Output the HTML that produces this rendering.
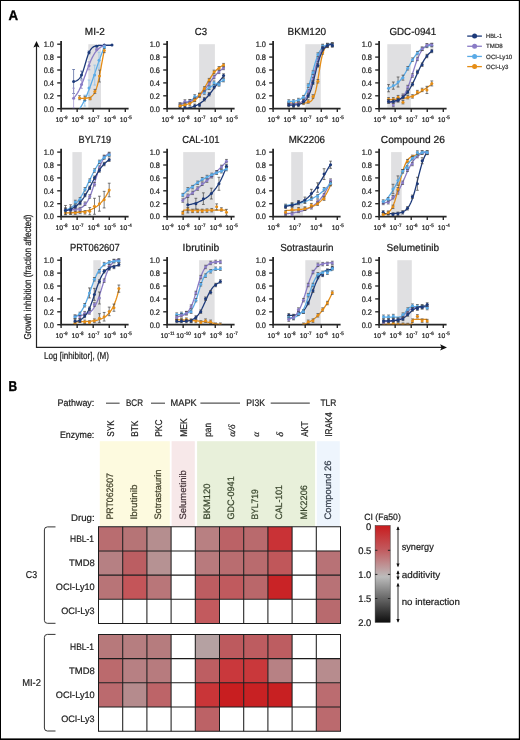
<!DOCTYPE html>
<html><head><meta charset="utf-8"><style>
html,body{margin:0;padding:0;background:#fff;}
body{width:520px;height:740px;overflow:hidden;}
svg{display:block;font-family:"Liberation Sans",sans-serif;will-change:transform;text-rendering:geometricPrecision;}
</style></head><body>
<svg width="520" height="740" viewBox="0 0 520 740">
<rect x="0" y="0" width="520" height="740" fill="#fff"/>
<text x="8.45" y="19.95" font-size="14" font-weight="bold" textLength="9.6" lengthAdjust="spacingAndGlyphs" fill="#000" stroke="#000" stroke-width="0.35">A</text>
<text x="8.6" y="390.9" font-size="14.2" font-weight="bold" textLength="8.6" lengthAdjust="spacingAndGlyphs" fill="#000" stroke="#000" stroke-width="0.4">B</text>
<rect x="88.3" y="44.2" width="12.7" height="64.5" fill="#e0e0e2"/>
<text x="84.85" y="34.85" font-size="10.2" textLength="20" lengthAdjust="spacingAndGlyphs" fill="#1a1a1a" stroke="#1a1a1a" stroke-width="0.22">MI-2</text>
<path d="M57.2,108.7H61.1" stroke="#262626" stroke-width="1.35"/>
<text x="43.7" y="111.55" font-size="8" textLength="10.3" lengthAdjust="spacingAndGlyphs" fill="#222" stroke="#222" stroke-width="0.22">0.0</text>
<path d="M57.2,95.8H61.1" stroke="#262626" stroke-width="1.35"/>
<text x="43.7" y="98.65" font-size="8" textLength="10.3" lengthAdjust="spacingAndGlyphs" fill="#222" stroke="#222" stroke-width="0.22">0.2</text>
<path d="M57.2,82.9H61.1" stroke="#262626" stroke-width="1.35"/>
<text x="43.7" y="85.75" font-size="8" textLength="10.3" lengthAdjust="spacingAndGlyphs" fill="#222" stroke="#222" stroke-width="0.22">0.4</text>
<path d="M57.2,70H61.1" stroke="#262626" stroke-width="1.35"/>
<text x="43.7" y="72.85" font-size="8" textLength="10.3" lengthAdjust="spacingAndGlyphs" fill="#222" stroke="#222" stroke-width="0.22">0.6</text>
<path d="M57.2,57.1H61.1" stroke="#262626" stroke-width="1.35"/>
<text x="43.7" y="59.95" font-size="8" textLength="10.3" lengthAdjust="spacingAndGlyphs" fill="#222" stroke="#222" stroke-width="0.22">0.8</text>
<path d="M57.2,44.2H61.1" stroke="#262626" stroke-width="1.35"/>
<text x="43.7" y="47.05" font-size="8" textLength="10.3" lengthAdjust="spacingAndGlyphs" fill="#222" stroke="#222" stroke-width="0.22">1.0</text>
<path d="M61.1,108.7V112" stroke="#262626" stroke-width="1.35"/>
<text x="55.57" y="121.9" font-size="6.8" textLength="7.5" lengthAdjust="spacingAndGlyphs" fill="#222" stroke="#222" stroke-width="0.22">10</text>
<text x="63.47" y="118.8" font-size="4.8" textLength="4.05" lengthAdjust="spacingAndGlyphs" fill="#222" stroke="#222" stroke-width="0.22">-9</text>
<path d="M77.15,108.7V112" stroke="#262626" stroke-width="1.35"/>
<text x="71.62" y="121.9" font-size="6.8" textLength="7.5" lengthAdjust="spacingAndGlyphs" fill="#222" stroke="#222" stroke-width="0.22">10</text>
<text x="79.52" y="118.8" font-size="4.8" textLength="4.05" lengthAdjust="spacingAndGlyphs" fill="#222" stroke="#222" stroke-width="0.22">-8</text>
<path d="M93.2,108.7V112" stroke="#262626" stroke-width="1.35"/>
<text x="87.67" y="121.9" font-size="6.8" textLength="7.5" lengthAdjust="spacingAndGlyphs" fill="#222" stroke="#222" stroke-width="0.22">10</text>
<text x="95.57" y="118.8" font-size="4.8" textLength="4.05" lengthAdjust="spacingAndGlyphs" fill="#222" stroke="#222" stroke-width="0.22">-7</text>
<path d="M109.25,108.7V112" stroke="#262626" stroke-width="1.35"/>
<text x="103.72" y="121.9" font-size="6.8" textLength="7.5" lengthAdjust="spacingAndGlyphs" fill="#222" stroke="#222" stroke-width="0.22">10</text>
<text x="111.62" y="118.8" font-size="4.8" textLength="4.05" lengthAdjust="spacingAndGlyphs" fill="#222" stroke="#222" stroke-width="0.22">-6</text>
<path d="M125.3,108.7V112" stroke="#262626" stroke-width="1.35"/>
<text x="119.77" y="121.9" font-size="6.8" textLength="7.5" lengthAdjust="spacingAndGlyphs" fill="#222" stroke="#222" stroke-width="0.22">10</text>
<text x="127.67" y="118.8" font-size="4.8" textLength="4.05" lengthAdjust="spacingAndGlyphs" fill="#222" stroke="#222" stroke-width="0.22">-5</text>
<path d="M61.1,40.9V108.7H128.6" fill="none" stroke="#262626" stroke-width="1.8"/>
<clipPath id="cp1"><rect x="61.8" y="38.2" width="71.5" height="70.1"/></clipPath>
<g clip-path="url(#cp1)">
<path d="M73.6,81.53 L74.25,81.41 L74.9,81.27 L75.55,81.08 L76.2,80.85 L76.85,80.55 L77.51,80.18 L78.16,79.71 L78.81,79.13 L79.46,78.42 L80.11,77.55 L80.76,76.49 L81.41,75.24 L82.06,73.78 L82.71,72.1 L83.36,70.22 L84.01,68.16 L84.66,65.98 L85.32,63.72 L85.97,61.46 L86.62,59.26 L87.27,57.19 L87.92,55.29 L88.57,53.59 L89.22,52.1 L89.87,50.83 L90.52,49.76 L91.17,48.87 L91.82,48.14 L92.47,47.55 L93.13,47.07 L93.78,46.69 L94.43,46.38 L95.08,46.14 L95.73,45.95 L96.38,45.8 L97.03,45.68 L97.68,45.59 L98.33,45.52 L98.98,45.46 L99.63,45.42 L100.28,45.38 L100.94,45.36 L101.59,45.33 L102.24,45.32 L102.89,45.3 L103.54,45.29 L104.19,45.29 L104.84,45.28 L105.49,45.28 L106.14,45.27 L106.79,45.27 L107.44,45.27 L108.09,45.26 L108.75,45.26 L109.4,45.26 L110.05,45.26 L110.7,45.26 L111.35,45.26 L112,45.26" fill="none" stroke="#1d3a7a" stroke-width="1.3"/>
<path d="M73.6,69.5V93.5M72.2,69.5H75M72.2,93.5H75" stroke="#4a5f98" stroke-width="0.7"/>
<circle cx="73.6" cy="81.5" r="1.5" fill="#1d3a7a"/>
<path d="M81.5,71.1V79.1M80.1,71.1H82.9M80.1,79.1H82.9" stroke="#4a5f98" stroke-width="0.7"/>
<circle cx="81.5" cy="75.1" r="1.5" fill="#1d3a7a"/>
<path d="M89,51V54M87.6,51H90.4M87.6,54H90.4" stroke="#4a5f98" stroke-width="0.7"/>
<circle cx="89" cy="52.5" r="1.5" fill="#1d3a7a"/>
<circle cx="96.7" cy="46.25" r="1.5" fill="#1d3a7a"/>
<circle cx="104.3" cy="45" r="1.5" fill="#1d3a7a"/>
<circle cx="112" cy="45.1" r="1.5" fill="#1d3a7a"/>
<path d="M73.6,98.01 L74.12,97.49 L74.64,96.92 L75.16,96.31 L75.68,95.66 L76.2,94.96 L76.72,94.21 L77.24,93.41 L77.76,92.56 L78.28,91.65 L78.8,90.7 L79.32,89.69 L79.84,88.63 L80.36,87.51 L80.88,86.35 L81.41,85.14 L81.93,83.89 L82.45,82.59 L82.97,81.26 L83.49,79.9 L84.01,78.5 L84.53,77.09 L85.05,75.66 L85.57,74.23 L86.09,72.79 L86.61,71.35 L87.13,69.93 L87.65,68.52 L88.17,67.13 L88.69,65.78 L89.21,64.45 L89.73,63.17 L90.25,61.92 L90.77,60.72 L91.29,59.57 L91.81,58.47 L92.33,57.42 L92.85,56.43 L93.37,55.48 L93.89,54.59 L94.41,53.75 L94.93,52.97 L95.45,52.23 L95.97,51.54 L96.49,50.9 L97.02,50.3 L97.54,49.74 L98.06,49.23 L98.58,48.75 L99.1,48.31 L99.62,47.9 L100.14,47.53 L100.66,47.18 L101.18,46.86 L101.7,46.57 L102.22,46.3 L102.74,46.06 L103.26,45.83 L103.78,45.62 L104.3,45.43" fill="none" stroke="#8a7cc6" stroke-width="1.3"/>
<path d="M73.6,88.2V108.2M72.2,88.2H75M72.2,108.2H75" stroke="#9d92cf" stroke-width="0.7"/>
<circle cx="73.6" cy="98.2" r="1.5" fill="#8a7cc6"/>
<path d="M81.5,80.4V88.4M80.1,80.4H82.9M80.1,88.4H82.9" stroke="#9d92cf" stroke-width="0.7"/>
<circle cx="81.5" cy="84.4" r="1.5" fill="#8a7cc6"/>
<path d="M89,61.8V69.8M87.6,61.8H90.4M87.6,69.8H90.4" stroke="#9d92cf" stroke-width="0.7"/>
<circle cx="89" cy="65.8" r="1.5" fill="#8a7cc6"/>
<path d="M96.7,48.6V50.6M95.3,48.6H98.1M95.3,50.6H98.1" stroke="#9d92cf" stroke-width="0.7"/>
<circle cx="96.7" cy="49.6" r="1.5" fill="#8a7cc6"/>
<circle cx="104.3" cy="46" r="1.5" fill="#8a7cc6"/>
<path d="M79.5,109.12 L79.92,108.48 L80.34,107.83 L80.76,107.15 L81.18,106.45 L81.6,105.73 L82.02,104.99 L82.44,104.23 L82.86,103.44 L83.28,102.64 L83.7,101.81 L84.12,100.96 L84.54,100.09 L84.96,99.2 L85.38,98.29 L85.81,97.36 L86.23,96.4 L86.65,95.43 L87.07,94.43 L87.49,93.42 L87.91,92.38 L88.33,91.33 L88.75,90.26 L89.17,89.17 L89.59,88.06 L90.01,86.94 L90.43,85.81 L90.85,84.66 L91.27,83.49 L91.69,82.32 L92.11,81.13 L92.53,79.93 L92.95,78.72 L93.37,77.51 L93.79,76.28 L94.21,75.06 L94.63,73.82 L95.05,72.59 L95.47,71.35 L95.89,70.11 L96.31,68.88 L96.73,67.64 L97.15,66.41 L97.57,65.18 L97.99,63.96 L98.42,62.74 L98.84,61.54 L99.26,60.34 L99.68,59.15 L100.1,57.97 L100.52,56.81 L100.94,55.66 L101.36,54.52 L101.78,53.4 L102.2,52.29 L102.62,51.2 L103.04,50.13 L103.46,49.08 L103.88,48.05 L104.3,47.03" fill="none" stroke="#5aaae6" stroke-width="1.3"/>
<path d="M84.8,95.1V106.1M83.4,95.1H86.2M83.4,106.1H86.2" stroke="#86c0ea" stroke-width="0.7"/>
<circle cx="84.8" cy="100.6" r="1.5" fill="#5aaae6"/>
<path d="M89,80V96M87.6,80H90.4M87.6,96H90.4" stroke="#86c0ea" stroke-width="0.7"/>
<circle cx="89" cy="88" r="1.5" fill="#5aaae6"/>
<path d="M94.7,65.1V85.1M93.3,65.1H96.1M93.3,85.1H96.1" stroke="#86c0ea" stroke-width="0.7"/>
<circle cx="94.7" cy="75.1" r="1.5" fill="#5aaae6"/>
<path d="M99,52.2V68.2M97.6,52.2H100.4M97.6,68.2H100.4" stroke="#86c0ea" stroke-width="0.7"/>
<circle cx="99" cy="60.2" r="1.5" fill="#5aaae6"/>
<path d="M104.3,45.7V48.7M102.9,45.7H105.7M102.9,48.7H105.7" stroke="#86c0ea" stroke-width="0.7"/>
<circle cx="104.3" cy="47.2" r="1.5" fill="#5aaae6"/>
<path d="M79.5,98.5 L79.92,98.5 L80.34,98.49 L80.76,98.49 L81.18,98.48 L81.6,98.47 L82.02,98.46 L82.44,98.44 L82.86,98.43 L83.28,98.41 L83.7,98.39 L84.12,98.37 L84.54,98.34 L84.96,98.31 L85.38,98.27 L85.81,98.23 L86.23,98.18 L86.65,98.13 L87.07,98.07 L87.49,97.99 L87.91,97.91 L88.33,97.81 L88.75,97.7 L89.17,97.57 L89.59,97.42 L90.01,97.25 L90.43,97.05 L90.85,96.83 L91.27,96.57 L91.69,96.27 L92.11,95.93 L92.53,95.54 L92.95,95.09 L93.37,94.59 L93.79,94.01 L94.21,93.36 L94.63,92.63 L95.05,91.8 L95.47,90.87 L95.89,89.83 L96.31,88.68 L96.73,87.4 L97.15,86 L97.57,84.47 L97.99,82.8 L98.42,81 L98.84,79.09 L99.26,77.05 L99.68,74.92 L100.1,72.7 L100.52,70.41 L100.94,68.08 L101.36,65.73 L101.78,63.38 L102.2,61.06 L102.62,58.8 L103.04,56.6 L103.46,54.5 L103.88,52.51 L104.3,50.63" fill="none" stroke="#e58d16" stroke-width="1.3"/>
<path d="M79.5,95.7V99.7M78.1,95.7H80.9M78.1,99.7H80.9" stroke="#555555" stroke-width="0.7"/>
<circle cx="79.5" cy="97.7" r="1.5" fill="#e58d16"/>
<path d="M84.8,96.2V100.2M83.4,96.2H86.2M83.4,100.2H86.2" stroke="#555555" stroke-width="0.7"/>
<circle cx="84.8" cy="98.2" r="1.5" fill="#e58d16"/>
<path d="M90.1,97.7V99.7M88.7,97.7H91.5M88.7,99.7H91.5" stroke="#555555" stroke-width="0.7"/>
<circle cx="90.1" cy="98.7" r="1.5" fill="#e58d16"/>
<path d="M94.9,89.4V93.4M93.5,89.4H96.3M93.5,93.4H96.3" stroke="#555555" stroke-width="0.7"/>
<circle cx="94.9" cy="91.4" r="1.5" fill="#e58d16"/>
<path d="M99.5,70V82M98.1,70H100.9M98.1,82H100.9" stroke="#555555" stroke-width="0.7"/>
<circle cx="99.5" cy="76" r="1.5" fill="#e58d16"/>
<path d="M104.3,48.6V52.6M102.9,48.6H105.7M102.9,52.6H105.7" stroke="#555555" stroke-width="0.7"/>
<circle cx="104.3" cy="50.6" r="1.5" fill="#e58d16"/>
</g>
<rect x="199.1" y="44.2" width="15.8" height="64.5" fill="#e0e0e2"/>
<text x="194.7" y="34.85" font-size="10.2" textLength="12.3" lengthAdjust="spacingAndGlyphs" fill="#1a1a1a" stroke="#1a1a1a" stroke-width="0.22">C3</text>
<path d="M163.2,108.7H167.1" stroke="#262626" stroke-width="1.35"/>
<text x="149.7" y="111.55" font-size="8" textLength="10.3" lengthAdjust="spacingAndGlyphs" fill="#222" stroke="#222" stroke-width="0.22">0.0</text>
<path d="M163.2,95.8H167.1" stroke="#262626" stroke-width="1.35"/>
<text x="149.7" y="98.65" font-size="8" textLength="10.3" lengthAdjust="spacingAndGlyphs" fill="#222" stroke="#222" stroke-width="0.22">0.2</text>
<path d="M163.2,82.9H167.1" stroke="#262626" stroke-width="1.35"/>
<text x="149.7" y="85.75" font-size="8" textLength="10.3" lengthAdjust="spacingAndGlyphs" fill="#222" stroke="#222" stroke-width="0.22">0.4</text>
<path d="M163.2,70H167.1" stroke="#262626" stroke-width="1.35"/>
<text x="149.7" y="72.85" font-size="8" textLength="10.3" lengthAdjust="spacingAndGlyphs" fill="#222" stroke="#222" stroke-width="0.22">0.6</text>
<path d="M163.2,57.1H167.1" stroke="#262626" stroke-width="1.35"/>
<text x="149.7" y="59.95" font-size="8" textLength="10.3" lengthAdjust="spacingAndGlyphs" fill="#222" stroke="#222" stroke-width="0.22">0.8</text>
<path d="M163.2,44.2H167.1" stroke="#262626" stroke-width="1.35"/>
<text x="149.7" y="47.05" font-size="8" textLength="10.3" lengthAdjust="spacingAndGlyphs" fill="#222" stroke="#222" stroke-width="0.22">1.0</text>
<path d="M167.1,108.7V112" stroke="#262626" stroke-width="1.35"/>
<text x="161.57" y="121.9" font-size="6.8" textLength="7.5" lengthAdjust="spacingAndGlyphs" fill="#222" stroke="#222" stroke-width="0.22">10</text>
<text x="169.47" y="118.8" font-size="4.8" textLength="4.05" lengthAdjust="spacingAndGlyphs" fill="#222" stroke="#222" stroke-width="0.22">-9</text>
<path d="M183.15,108.7V112" stroke="#262626" stroke-width="1.35"/>
<text x="177.62" y="121.9" font-size="6.8" textLength="7.5" lengthAdjust="spacingAndGlyphs" fill="#222" stroke="#222" stroke-width="0.22">10</text>
<text x="185.52" y="118.8" font-size="4.8" textLength="4.05" lengthAdjust="spacingAndGlyphs" fill="#222" stroke="#222" stroke-width="0.22">-8</text>
<path d="M199.2,108.7V112" stroke="#262626" stroke-width="1.35"/>
<text x="193.67" y="121.9" font-size="6.8" textLength="7.5" lengthAdjust="spacingAndGlyphs" fill="#222" stroke="#222" stroke-width="0.22">10</text>
<text x="201.57" y="118.8" font-size="4.8" textLength="4.05" lengthAdjust="spacingAndGlyphs" fill="#222" stroke="#222" stroke-width="0.22">-7</text>
<path d="M215.25,108.7V112" stroke="#262626" stroke-width="1.35"/>
<text x="209.72" y="121.9" font-size="6.8" textLength="7.5" lengthAdjust="spacingAndGlyphs" fill="#222" stroke="#222" stroke-width="0.22">10</text>
<text x="217.62" y="118.8" font-size="4.8" textLength="4.05" lengthAdjust="spacingAndGlyphs" fill="#222" stroke="#222" stroke-width="0.22">-6</text>
<path d="M231.3,108.7V112" stroke="#262626" stroke-width="1.35"/>
<text x="225.77" y="121.9" font-size="6.8" textLength="7.5" lengthAdjust="spacingAndGlyphs" fill="#222" stroke="#222" stroke-width="0.22">10</text>
<text x="233.67" y="118.8" font-size="4.8" textLength="4.05" lengthAdjust="spacingAndGlyphs" fill="#222" stroke="#222" stroke-width="0.22">-5</text>
<path d="M167.1,40.9V108.7H234.6" fill="none" stroke="#262626" stroke-width="1.8"/>
<clipPath id="cp2"><rect x="167.8" y="38.2" width="71.5" height="70.1"/></clipPath>
<g clip-path="url(#cp2)">
<path d="M180.02,108.92 L180.76,108.86 L181.5,108.81 L182.23,108.74 L182.97,108.67 L183.71,108.59 L184.45,108.51 L185.19,108.42 L185.93,108.31 L186.66,108.2 L187.4,108.08 L188.14,107.95 L188.88,107.81 L189.62,107.65 L190.35,107.48 L191.09,107.29 L191.83,107.09 L192.57,106.87 L193.31,106.64 L194.05,106.38 L194.78,106.1 L195.52,105.79 L196.26,105.47 L197,105.11 L197.74,104.73 L198.48,104.33 L199.21,103.89 L199.95,103.42 L200.69,102.91 L201.43,102.38 L202.17,101.8 L202.91,101.2 L203.64,100.55 L204.38,99.88 L205.12,99.16 L205.86,98.41 L206.6,97.62 L207.34,96.8 L208.07,95.95 L208.81,95.07 L209.55,94.16 L210.29,93.23 L211.03,92.27 L211.76,91.29 L212.5,90.3 L213.24,89.3 L213.98,88.3 L214.72,87.29 L215.46,86.29 L216.19,85.29 L216.93,84.3 L217.67,83.33 L218.41,82.38 L219.15,81.45 L219.89,80.54 L220.62,79.67 L221.36,78.82 L222.1,78.01 L222.84,77.23 L223.58,76.48" fill="none" stroke="#1d3a7a" stroke-width="1.3"/>
<path d="M180.02,106.97V110.37M178.62,106.97H181.42M178.62,110.37H181.42" stroke="#444" stroke-width="0.7"/>
<circle cx="180.02" cy="108.67" r="1.5" fill="#1d3a7a"/>
<path d="M184.92,105.82V109.22M183.52,105.82H186.32M183.52,109.22H186.32" stroke="#444" stroke-width="0.7"/>
<circle cx="184.92" cy="107.52" r="1.5" fill="#1d3a7a"/>
<path d="M189.83,106.97V110.37M188.43,106.97H191.23M188.43,110.37H191.23" stroke="#444" stroke-width="0.7"/>
<circle cx="189.83" cy="108.67" r="1.5" fill="#1d3a7a"/>
<path d="M194.73,104.09V107.49M193.33,104.09H196.13M193.33,107.49H196.13" stroke="#444" stroke-width="0.7"/>
<circle cx="194.73" cy="105.79" r="1.5" fill="#1d3a7a"/>
<path d="M199.49,103.37V106.77M198.09,103.37H200.89M198.09,106.77H200.89" stroke="#444" stroke-width="0.7"/>
<circle cx="199.49" cy="105.07" r="1.5" fill="#1d3a7a"/>
<path d="M204.39,97.6V101M202.99,97.6H205.79M202.99,101H205.79" stroke="#444" stroke-width="0.7"/>
<circle cx="204.39" cy="99.3" r="1.5" fill="#1d3a7a"/>
<path d="M209.15,92.55V95.95M207.75,92.55H210.55M207.75,95.95H210.55" stroke="#444" stroke-width="0.7"/>
<circle cx="209.15" cy="94.25" r="1.5" fill="#1d3a7a"/>
<path d="M214.06,85.34V88.74M212.66,85.34H215.46M212.66,88.74H215.46" stroke="#444" stroke-width="0.7"/>
<circle cx="214.06" cy="87.04" r="1.5" fill="#1d3a7a"/>
<path d="M218.96,82.17V85.57M217.56,82.17H220.36M217.56,85.57H220.36" stroke="#444" stroke-width="0.7"/>
<circle cx="218.96" cy="83.87" r="1.5" fill="#1d3a7a"/>
<path d="M223.58,73.8V77.2M222.18,73.8H224.98M222.18,77.2H224.98" stroke="#444" stroke-width="0.7"/>
<circle cx="223.58" cy="75.5" r="1.5" fill="#1d3a7a"/>
<path d="M180.02,104.9 L180.76,104.68 L181.5,104.44 L182.23,104.19 L182.97,103.93 L183.71,103.66 L184.45,103.38 L185.19,103.08 L185.93,102.76 L186.66,102.44 L187.4,102.1 L188.14,101.74 L188.88,101.38 L189.62,100.99 L190.35,100.6 L191.09,100.19 L191.83,99.76 L192.57,99.33 L193.31,98.88 L194.05,98.42 L194.78,97.95 L195.52,97.46 L196.26,96.97 L197,96.47 L197.74,95.96 L198.48,95.44 L199.21,94.91 L199.95,94.38 L200.69,93.85 L201.43,93.31 L202.17,92.78 L202.91,92.24 L203.64,91.7 L204.38,91.17 L205.12,90.63 L205.86,90.11 L206.6,89.59 L207.34,89.07 L208.07,88.56 L208.81,88.07 L209.55,87.58 L210.29,87.1 L211.03,86.63 L211.76,86.18 L212.5,85.73 L213.24,85.3 L213.98,84.89 L214.72,84.48 L215.46,84.09 L216.19,83.72 L216.93,83.36 L217.67,83.01 L218.41,82.68 L219.15,82.36 L219.89,82.05 L220.62,81.76 L221.36,81.48 L222.1,81.21 L222.84,80.96 L223.58,80.72" fill="none" stroke="#5aaae6" stroke-width="1.3"/>
<path d="M180.02,102.93V106.33M178.62,102.93H181.42M178.62,106.33H181.42" stroke="#444" stroke-width="0.7"/>
<circle cx="180.02" cy="104.63" r="1.5" fill="#5aaae6"/>
<path d="M184.92,101.92V105.33M183.52,101.92H186.32M183.52,105.33H186.32" stroke="#444" stroke-width="0.7"/>
<circle cx="184.92" cy="103.62" r="1.5" fill="#5aaae6"/>
<path d="M189.83,99.76V103.16M188.43,99.76H191.23M188.43,103.16H191.23" stroke="#444" stroke-width="0.7"/>
<circle cx="189.83" cy="101.46" r="1.5" fill="#5aaae6"/>
<path d="M194.73,94.71V98.11M193.33,94.71H196.13M193.33,98.11H196.13" stroke="#444" stroke-width="0.7"/>
<circle cx="194.73" cy="96.41" r="1.5" fill="#5aaae6"/>
<path d="M199.49,93.27V96.67M198.09,93.27H200.89M198.09,96.67H200.89" stroke="#444" stroke-width="0.7"/>
<circle cx="199.49" cy="94.97" r="1.5" fill="#5aaae6"/>
<path d="M204.39,90.82V94.22M202.99,90.82H205.79M202.99,94.22H205.79" stroke="#444" stroke-width="0.7"/>
<circle cx="204.39" cy="92.52" r="1.5" fill="#5aaae6"/>
<path d="M209.15,86.06V89.46M207.75,86.06H210.55M207.75,89.46H210.55" stroke="#444" stroke-width="0.7"/>
<circle cx="209.15" cy="87.76" r="1.5" fill="#5aaae6"/>
<path d="M214.06,81.01V84.41M212.66,81.01H215.46M212.66,84.41H215.46" stroke="#444" stroke-width="0.7"/>
<circle cx="214.06" cy="82.71" r="1.5" fill="#5aaae6"/>
<path d="M218.96,82.74V86.14M217.56,82.74H220.36M217.56,86.14H220.36" stroke="#444" stroke-width="0.7"/>
<circle cx="218.96" cy="84.44" r="1.5" fill="#5aaae6"/>
<path d="M223.58,78.42V81.82M222.18,78.42H224.98M222.18,81.82H224.98" stroke="#444" stroke-width="0.7"/>
<circle cx="223.58" cy="80.12" r="1.5" fill="#5aaae6"/>
<path d="M180.02,103.53 L180.76,103.45 L181.5,103.36 L182.23,103.26 L182.97,103.16 L183.71,103.04 L184.45,102.91 L185.19,102.76 L185.93,102.61 L186.66,102.43 L187.4,102.25 L188.14,102.04 L188.88,101.81 L189.62,101.57 L190.35,101.3 L191.09,101.01 L191.83,100.69 L192.57,100.34 L193.31,99.97 L194.05,99.57 L194.78,99.13 L195.52,98.66 L196.26,98.15 L197,97.61 L197.74,97.02 L198.48,96.4 L199.21,95.74 L199.95,95.05 L200.69,94.31 L201.43,93.53 L202.17,92.71 L202.91,91.86 L203.64,90.97 L204.38,90.05 L205.12,89.11 L205.86,88.13 L206.6,87.14 L207.34,86.13 L208.07,85.1 L208.81,84.08 L209.55,83.04 L210.29,82.01 L211.03,80.99 L211.76,79.99 L212.5,79 L213.24,78.03 L213.98,77.09 L214.72,76.18 L215.46,75.3 L216.19,74.46 L216.93,73.65 L217.67,72.88 L218.41,72.15 L219.15,71.46 L219.89,70.81 L220.62,70.2 L221.36,69.63 L222.1,69.09 L222.84,68.6 L223.58,68.13" fill="none" stroke="#8a7cc6" stroke-width="1.3"/>
<path d="M180.02,102.93V106.33M178.62,102.93H181.42M178.62,106.33H181.42" stroke="#444" stroke-width="0.7"/>
<circle cx="180.02" cy="104.63" r="1.5" fill="#8a7cc6"/>
<path d="M184.92,99.76V103.16M183.52,99.76H186.32M183.52,103.16H186.32" stroke="#444" stroke-width="0.7"/>
<circle cx="184.92" cy="101.46" r="1.5" fill="#8a7cc6"/>
<path d="M189.83,99.47V102.87M188.43,99.47H191.23M188.43,102.87H191.23" stroke="#444" stroke-width="0.7"/>
<circle cx="189.83" cy="101.17" r="1.5" fill="#8a7cc6"/>
<path d="M194.73,98.03V101.43M193.33,98.03H196.13M193.33,101.43H196.13" stroke="#444" stroke-width="0.7"/>
<circle cx="194.73" cy="99.73" r="1.5" fill="#8a7cc6"/>
<path d="M199.49,93.99V97.39M198.09,93.99H200.89M198.09,97.39H200.89" stroke="#444" stroke-width="0.7"/>
<circle cx="199.49" cy="95.69" r="1.5" fill="#8a7cc6"/>
<path d="M204.39,88.22V91.62M202.99,88.22H205.79M202.99,91.62H205.79" stroke="#444" stroke-width="0.7"/>
<circle cx="204.39" cy="89.92" r="1.5" fill="#8a7cc6"/>
<path d="M209.15,81.73V85.13M207.75,81.73H210.55M207.75,85.13H210.55" stroke="#444" stroke-width="0.7"/>
<circle cx="209.15" cy="83.43" r="1.5" fill="#8a7cc6"/>
<path d="M214.06,75.24V78.64M212.66,75.24H215.46M212.66,78.64H215.46" stroke="#444" stroke-width="0.7"/>
<circle cx="214.06" cy="76.94" r="1.5" fill="#8a7cc6"/>
<path d="M218.96,70.19V73.59M217.56,70.19H220.36M217.56,73.59H220.36" stroke="#444" stroke-width="0.7"/>
<circle cx="218.96" cy="71.89" r="1.5" fill="#8a7cc6"/>
<path d="M223.58,66.3V69.7M222.18,66.3H224.98M222.18,69.7H224.98" stroke="#444" stroke-width="0.7"/>
<circle cx="223.58" cy="68" r="1.5" fill="#8a7cc6"/>
<path d="M180.02,105.62 L180.76,105.54 L181.5,105.44 L182.23,105.34 L182.97,105.23 L183.71,105.1 L184.45,104.95 L185.19,104.79 L185.93,104.62 L186.66,104.42 L187.4,104.2 L188.14,103.96 L188.88,103.69 L189.62,103.39 L190.35,103.06 L191.09,102.69 L191.83,102.29 L192.57,101.85 L193.31,101.37 L194.05,100.84 L194.78,100.26 L195.52,99.63 L196.26,98.96 L197,98.22 L197.74,97.43 L198.48,96.59 L199.21,95.69 L199.95,94.73 L200.69,93.72 L201.43,92.66 L202.17,91.55 L202.91,90.4 L203.64,89.21 L204.38,87.99 L205.12,86.75 L205.86,85.49 L206.6,84.22 L207.34,82.95 L208.07,81.69 L208.81,80.45 L209.55,79.23 L210.29,78.05 L211.03,76.9 L211.76,75.8 L212.5,74.74 L213.24,73.74 L213.98,72.79 L214.72,71.89 L215.46,71.06 L216.19,70.27 L216.93,69.55 L217.67,68.87 L218.41,68.25 L219.15,67.68 L219.89,67.16 L220.62,66.68 L221.36,66.24 L222.1,65.85 L222.84,65.49 L223.58,65.16" fill="none" stroke="#e58d16" stroke-width="1.3"/>
<path d="M180.02,104.09V107.49M178.62,104.09H181.42M178.62,107.49H181.42" stroke="#444" stroke-width="0.7"/>
<circle cx="180.02" cy="105.79" r="1.5" fill="#e58d16"/>
<path d="M184.92,102.93V106.33M183.52,102.93H186.32M183.52,106.33H186.32" stroke="#444" stroke-width="0.7"/>
<circle cx="184.92" cy="104.63" r="1.5" fill="#e58d16"/>
<path d="M189.83,101.92V105.33M188.43,101.92H191.23M188.43,105.33H191.23" stroke="#444" stroke-width="0.7"/>
<circle cx="189.83" cy="103.62" r="1.5" fill="#e58d16"/>
<path d="M194.73,98.32V101.72M193.33,98.32H196.13M193.33,101.72H196.13" stroke="#444" stroke-width="0.7"/>
<circle cx="194.73" cy="100.02" r="1.5" fill="#e58d16"/>
<path d="M199.49,93.27V96.67M198.09,93.27H200.89M198.09,96.67H200.89" stroke="#444" stroke-width="0.7"/>
<circle cx="199.49" cy="94.97" r="1.5" fill="#e58d16"/>
<path d="M204.39,86.78V90.18M202.99,86.78H205.79M202.99,90.18H205.79" stroke="#444" stroke-width="0.7"/>
<circle cx="204.39" cy="88.48" r="1.5" fill="#e58d16"/>
<path d="M209.15,78.42V81.82M207.75,78.42H210.55M207.75,81.82H210.55" stroke="#444" stroke-width="0.7"/>
<circle cx="209.15" cy="80.12" r="1.5" fill="#e58d16"/>
<path d="M214.06,70.19V73.59M212.66,70.19H215.46M212.66,73.59H215.46" stroke="#444" stroke-width="0.7"/>
<circle cx="214.06" cy="71.89" r="1.5" fill="#e58d16"/>
<path d="M218.96,66.59V69.99M217.56,66.59H220.36M217.56,69.99H220.36" stroke="#444" stroke-width="0.7"/>
<circle cx="218.96" cy="68.29" r="1.5" fill="#e58d16"/>
<path d="M223.58,63.42V66.82M222.18,63.42H224.98M222.18,66.82H224.98" stroke="#444" stroke-width="0.7"/>
<circle cx="223.58" cy="65.12" r="1.5" fill="#e58d16"/>
</g>
<rect x="305.3" y="44.2" width="15.5" height="64.5" fill="#e0e0e2"/>
<text x="287.6" y="34.85" font-size="10.2" textLength="38.5" lengthAdjust="spacingAndGlyphs" fill="#1a1a1a" stroke="#1a1a1a" stroke-width="0.22">BKM120</text>
<path d="M269.2,108.7H273.1" stroke="#262626" stroke-width="1.35"/>
<text x="255.7" y="111.55" font-size="8" textLength="10.3" lengthAdjust="spacingAndGlyphs" fill="#222" stroke="#222" stroke-width="0.22">0.0</text>
<path d="M269.2,95.8H273.1" stroke="#262626" stroke-width="1.35"/>
<text x="255.7" y="98.65" font-size="8" textLength="10.3" lengthAdjust="spacingAndGlyphs" fill="#222" stroke="#222" stroke-width="0.22">0.2</text>
<path d="M269.2,82.9H273.1" stroke="#262626" stroke-width="1.35"/>
<text x="255.7" y="85.75" font-size="8" textLength="10.3" lengthAdjust="spacingAndGlyphs" fill="#222" stroke="#222" stroke-width="0.22">0.4</text>
<path d="M269.2,70H273.1" stroke="#262626" stroke-width="1.35"/>
<text x="255.7" y="72.85" font-size="8" textLength="10.3" lengthAdjust="spacingAndGlyphs" fill="#222" stroke="#222" stroke-width="0.22">0.6</text>
<path d="M269.2,57.1H273.1" stroke="#262626" stroke-width="1.35"/>
<text x="255.7" y="59.95" font-size="8" textLength="10.3" lengthAdjust="spacingAndGlyphs" fill="#222" stroke="#222" stroke-width="0.22">0.8</text>
<path d="M269.2,44.2H273.1" stroke="#262626" stroke-width="1.35"/>
<text x="255.7" y="47.05" font-size="8" textLength="10.3" lengthAdjust="spacingAndGlyphs" fill="#222" stroke="#222" stroke-width="0.22">1.0</text>
<path d="M273.1,108.7V112" stroke="#262626" stroke-width="1.35"/>
<text x="267.57" y="121.9" font-size="6.8" textLength="7.5" lengthAdjust="spacingAndGlyphs" fill="#222" stroke="#222" stroke-width="0.22">10</text>
<text x="275.47" y="118.8" font-size="4.8" textLength="4.05" lengthAdjust="spacingAndGlyphs" fill="#222" stroke="#222" stroke-width="0.22">-9</text>
<path d="M289.15,108.7V112" stroke="#262626" stroke-width="1.35"/>
<text x="283.62" y="121.9" font-size="6.8" textLength="7.5" lengthAdjust="spacingAndGlyphs" fill="#222" stroke="#222" stroke-width="0.22">10</text>
<text x="291.52" y="118.8" font-size="4.8" textLength="4.05" lengthAdjust="spacingAndGlyphs" fill="#222" stroke="#222" stroke-width="0.22">-8</text>
<path d="M305.2,108.7V112" stroke="#262626" stroke-width="1.35"/>
<text x="299.67" y="121.9" font-size="6.8" textLength="7.5" lengthAdjust="spacingAndGlyphs" fill="#222" stroke="#222" stroke-width="0.22">10</text>
<text x="307.57" y="118.8" font-size="4.8" textLength="4.05" lengthAdjust="spacingAndGlyphs" fill="#222" stroke="#222" stroke-width="0.22">-7</text>
<path d="M321.25,108.7V112" stroke="#262626" stroke-width="1.35"/>
<text x="315.72" y="121.9" font-size="6.8" textLength="7.5" lengthAdjust="spacingAndGlyphs" fill="#222" stroke="#222" stroke-width="0.22">10</text>
<text x="323.62" y="118.8" font-size="4.8" textLength="4.05" lengthAdjust="spacingAndGlyphs" fill="#222" stroke="#222" stroke-width="0.22">-6</text>
<path d="M337.3,108.7V112" stroke="#262626" stroke-width="1.35"/>
<text x="331.77" y="121.9" font-size="6.8" textLength="7.5" lengthAdjust="spacingAndGlyphs" fill="#222" stroke="#222" stroke-width="0.22">10</text>
<text x="339.67" y="118.8" font-size="4.8" textLength="4.05" lengthAdjust="spacingAndGlyphs" fill="#222" stroke="#222" stroke-width="0.22">-5</text>
<path d="M273.1,40.9V108.7H340.6" fill="none" stroke="#262626" stroke-width="1.8"/>
<clipPath id="cp3"><rect x="273.8" y="38.2" width="71.5" height="70.1"/></clipPath>
<g clip-path="url(#cp3)">
<path d="M288.75,103.09 L289.49,103.09 L290.23,103.09 L290.96,103.09 L291.7,103.09 L292.44,103.09 L293.18,103.09 L293.92,103.09 L294.66,103.09 L295.39,103.09 L296.13,103.08 L296.87,103.08 L297.61,103.08 L298.35,103.08 L299.09,103.08 L299.82,103.07 L300.56,103.06 L301.3,103.06 L302.04,103.04 L302.78,103.03 L303.52,103 L304.25,102.97 L304.99,102.93 L305.73,102.87 L306.47,102.79 L307.21,102.68 L307.94,102.53 L308.68,102.33 L309.42,102.05 L310.16,101.68 L310.9,101.18 L311.64,100.5 L312.37,99.6 L313.11,98.42 L313.85,96.88 L314.59,94.91 L315.33,92.44 L316.07,89.42 L316.8,85.84 L317.54,81.78 L318.28,77.34 L319.02,72.72 L319.76,68.14 L320.5,63.81 L321.23,59.9 L321.97,56.51 L322.71,53.68 L323.45,51.38 L324.19,49.57 L324.93,48.15 L325.66,47.08 L326.4,46.26 L327.14,45.65 L327.88,45.19 L328.62,44.86 L329.35,44.61 L330.09,44.43 L330.83,44.29 L331.57,44.19 L332.31,44.12" fill="none" stroke="#e58d16" stroke-width="1.3"/>
<path d="M288.75,102.36V105.76M287.35,102.36H290.15M287.35,105.76H290.15" stroke="#444" stroke-width="0.7"/>
<circle cx="288.75" cy="104.06" r="1.5" fill="#e58d16"/>
<path d="M293.51,102.36V105.76M292.11,102.36H294.91M292.11,105.76H294.91" stroke="#444" stroke-width="0.7"/>
<circle cx="293.51" cy="104.06" r="1.5" fill="#e58d16"/>
<path d="M298.41,101.92V105.33M297.01,101.92H299.81M297.01,105.33H299.81" stroke="#444" stroke-width="0.7"/>
<circle cx="298.41" cy="103.62" r="1.5" fill="#e58d16"/>
<path d="M303.46,101.2V104.6M302.06,101.2H304.86M302.06,104.6H304.86" stroke="#444" stroke-width="0.7"/>
<circle cx="303.46" cy="102.9" r="1.5" fill="#e58d16"/>
<path d="M308.22,99.76V103.16M306.82,99.76H309.62M306.82,103.16H309.62" stroke="#444" stroke-width="0.7"/>
<circle cx="308.22" cy="101.46" r="1.5" fill="#e58d16"/>
<path d="M312.98,94.71V98.11M311.58,94.71H314.38M311.58,98.11H314.38" stroke="#444" stroke-width="0.7"/>
<circle cx="312.98" cy="96.41" r="1.5" fill="#e58d16"/>
<path d="M317.88,79.57V82.97M316.48,79.57H319.28M316.48,82.97H319.28" stroke="#444" stroke-width="0.7"/>
<circle cx="317.88" cy="81.27" r="1.5" fill="#e58d16"/>
<path d="M322.64,50.72V54.12M321.24,50.72H324.04M321.24,54.12H324.04" stroke="#444" stroke-width="0.7"/>
<circle cx="322.64" cy="52.42" r="1.5" fill="#e58d16"/>
<path d="M327.4,44.23V47.63M326,44.23H328.8M326,47.63H328.8" stroke="#444" stroke-width="0.7"/>
<circle cx="327.4" cy="45.93" r="1.5" fill="#e58d16"/>
<path d="M332.31,42.79V46.19M330.91,42.79H333.71M330.91,46.19H333.71" stroke="#444" stroke-width="0.7"/>
<circle cx="332.31" cy="44.49" r="1.5" fill="#e58d16"/>
<path d="M288.75,104.01 L289.49,104 L290.23,103.98 L290.96,103.95 L291.7,103.92 L292.44,103.89 L293.18,103.84 L293.92,103.79 L294.66,103.72 L295.39,103.65 L296.13,103.55 L296.87,103.44 L297.61,103.3 L298.35,103.13 L299.09,102.93 L299.82,102.68 L300.56,102.39 L301.3,102.03 L302.04,101.61 L302.78,101.1 L303.52,100.49 L304.25,99.78 L304.99,98.93 L305.73,97.93 L306.47,96.76 L307.21,95.41 L307.94,93.86 L308.68,92.09 L309.42,90.11 L310.16,87.9 L310.9,85.48 L311.64,82.87 L312.37,80.1 L313.11,77.22 L313.85,74.26 L314.59,71.3 L315.33,68.37 L316.07,65.55 L316.8,62.86 L317.54,60.35 L318.28,58.04 L319.02,55.95 L319.76,54.08 L320.5,52.43 L321.23,50.99 L321.97,49.74 L322.71,48.66 L323.45,47.75 L324.19,46.97 L324.93,46.32 L325.66,45.77 L326.4,45.3 L327.14,44.92 L327.88,44.6 L328.62,44.33 L329.35,44.11 L330.09,43.93 L330.83,43.77 L331.57,43.65 L332.31,43.54" fill="none" stroke="#8a7cc6" stroke-width="1.3"/>
<path d="M288.75,101.92V105.33M287.35,101.92H290.15M287.35,105.33H290.15" stroke="#444" stroke-width="0.7"/>
<circle cx="288.75" cy="103.62" r="1.5" fill="#8a7cc6"/>
<path d="M293.51,102.65V106.05M292.11,102.65H294.91M292.11,106.05H294.91" stroke="#444" stroke-width="0.7"/>
<circle cx="293.51" cy="104.35" r="1.5" fill="#8a7cc6"/>
<path d="M298.41,101.92V105.33M297.01,101.92H299.81M297.01,105.33H299.81" stroke="#444" stroke-width="0.7"/>
<circle cx="298.41" cy="103.62" r="1.5" fill="#8a7cc6"/>
<path d="M303.46,99.04V102.44M302.06,99.04H304.86M302.06,102.44H304.86" stroke="#444" stroke-width="0.7"/>
<circle cx="303.46" cy="100.74" r="1.5" fill="#8a7cc6"/>
<path d="M308.22,89.67V93.07M306.82,89.67H309.62M306.82,93.07H309.62" stroke="#444" stroke-width="0.7"/>
<circle cx="308.22" cy="91.37" r="1.5" fill="#8a7cc6"/>
<path d="M312.98,77.41V80.81M311.58,77.41H314.38M311.58,80.81H314.38" stroke="#444" stroke-width="0.7"/>
<circle cx="312.98" cy="79.11" r="1.5" fill="#8a7cc6"/>
<path d="M317.88,57.93V61.33M316.48,57.93H319.28M316.48,61.33H319.28" stroke="#444" stroke-width="0.7"/>
<circle cx="317.88" cy="59.63" r="1.5" fill="#8a7cc6"/>
<path d="M322.64,44.95V48.35M321.24,44.95H324.04M321.24,48.35H324.04" stroke="#444" stroke-width="0.7"/>
<circle cx="322.64" cy="46.65" r="1.5" fill="#8a7cc6"/>
<path d="M327.4,43.51V46.91M326,43.51H328.8M326,46.91H328.8" stroke="#444" stroke-width="0.7"/>
<circle cx="327.4" cy="45.21" r="1.5" fill="#8a7cc6"/>
<path d="M332.31,42.79V46.19M330.91,42.79H333.71M330.91,46.19H333.71" stroke="#444" stroke-width="0.7"/>
<circle cx="332.31" cy="44.49" r="1.5" fill="#8a7cc6"/>
<path d="M288.75,101.47 L289.49,101.44 L290.23,101.41 L290.96,101.37 L291.7,101.33 L292.44,101.27 L293.18,101.21 L293.92,101.13 L294.66,101.04 L295.39,100.92 L296.13,100.78 L296.87,100.62 L297.61,100.41 L298.35,100.17 L299.09,99.88 L299.82,99.53 L300.56,99.12 L301.3,98.62 L302.04,98.03 L302.78,97.34 L303.52,96.52 L304.25,95.55 L304.99,94.43 L305.73,93.14 L306.47,91.65 L307.21,89.97 L307.94,88.08 L308.68,85.99 L309.42,83.7 L310.16,81.24 L310.9,78.63 L311.64,75.92 L312.37,73.14 L313.11,70.36 L313.85,67.61 L314.59,64.96 L315.33,62.43 L316.07,60.07 L316.8,57.89 L317.54,55.92 L318.28,54.15 L319.02,52.58 L319.76,51.21 L320.5,50.02 L321.23,48.99 L321.97,48.12 L322.71,47.37 L323.45,46.74 L324.19,46.2 L324.93,45.76 L325.66,45.38 L326.4,45.07 L327.14,44.81 L327.88,44.59 L328.62,44.41 L329.35,44.26 L330.09,44.14 L330.83,44.03 L331.57,43.95 L332.31,43.88" fill="none" stroke="#5aaae6" stroke-width="1.3"/>
<path d="M288.75,99.76V103.16M287.35,99.76H290.15M287.35,103.16H290.15" stroke="#444" stroke-width="0.7"/>
<circle cx="288.75" cy="101.46" r="1.5" fill="#5aaae6"/>
<path d="M293.51,99.76V103.16M292.11,99.76H294.91M292.11,103.16H294.91" stroke="#444" stroke-width="0.7"/>
<circle cx="293.51" cy="101.46" r="1.5" fill="#5aaae6"/>
<path d="M298.41,98.32V101.72M297.01,98.32H299.81M297.01,101.72H299.81" stroke="#444" stroke-width="0.7"/>
<circle cx="298.41" cy="100.02" r="1.5" fill="#5aaae6"/>
<path d="M303.46,95.43V98.83M302.06,95.43H304.86M302.06,98.83H304.86" stroke="#444" stroke-width="0.7"/>
<circle cx="303.46" cy="97.13" r="1.5" fill="#5aaae6"/>
<path d="M308.22,83.9V87.3M306.82,83.9H309.62M306.82,87.3H309.62" stroke="#444" stroke-width="0.7"/>
<circle cx="308.22" cy="85.6" r="1.5" fill="#5aaae6"/>
<path d="M312.98,70.92V74.32M311.58,70.92H314.38M311.58,74.32H314.38" stroke="#444" stroke-width="0.7"/>
<circle cx="312.98" cy="72.62" r="1.5" fill="#5aaae6"/>
<path d="M317.88,52.89V56.29M316.48,52.89H319.28M316.48,56.29H319.28" stroke="#444" stroke-width="0.7"/>
<circle cx="317.88" cy="54.59" r="1.5" fill="#5aaae6"/>
<path d="M322.64,44.23V47.63M321.24,44.23H324.04M321.24,47.63H324.04" stroke="#444" stroke-width="0.7"/>
<circle cx="322.64" cy="45.93" r="1.5" fill="#5aaae6"/>
<path d="M327.4,43.22V46.62M326,43.22H328.8M326,46.62H328.8" stroke="#444" stroke-width="0.7"/>
<circle cx="327.4" cy="44.92" r="1.5" fill="#5aaae6"/>
<path d="M332.31,43.22V46.62M330.91,43.22H333.71M330.91,46.62H333.71" stroke="#444" stroke-width="0.7"/>
<circle cx="332.31" cy="44.92" r="1.5" fill="#5aaae6"/>
<path d="M288.75,105.17 L289.49,105.15 L290.23,105.14 L290.96,105.12 L291.7,105.1 L292.44,105.07 L293.18,105.03 L293.92,104.99 L294.66,104.94 L295.39,104.87 L296.13,104.8 L296.87,104.71 L297.61,104.6 L298.35,104.47 L299.09,104.31 L299.82,104.11 L300.56,103.88 L301.3,103.6 L302.04,103.26 L302.78,102.86 L303.52,102.38 L304.25,101.81 L304.99,101.13 L305.73,100.32 L306.47,99.38 L307.21,98.27 L307.94,96.99 L308.68,95.51 L309.42,93.82 L310.16,91.92 L310.9,89.79 L311.64,87.45 L312.37,84.91 L313.11,82.19 L313.85,79.34 L314.59,76.4 L315.33,73.42 L316.07,70.45 L316.8,67.55 L317.54,64.77 L318.28,62.15 L319.02,59.72 L319.76,57.5 L320.5,55.5 L321.23,53.72 L321.97,52.15 L322.71,50.78 L323.45,49.6 L324.19,48.59 L324.93,47.72 L325.66,46.99 L326.4,46.37 L327.14,45.85 L327.88,45.42 L328.62,45.05 L329.35,44.75 L330.09,44.5 L330.83,44.29 L331.57,44.11 L332.31,43.97" fill="none" stroke="#1d3a7a" stroke-width="1.3"/>
<path d="M288.75,103.37V106.77M287.35,103.37H290.15M287.35,106.77H290.15" stroke="#444" stroke-width="0.7"/>
<circle cx="288.75" cy="105.07" r="1.5" fill="#1d3a7a"/>
<path d="M293.51,104.09V107.49M292.11,104.09H294.91M292.11,107.49H294.91" stroke="#444" stroke-width="0.7"/>
<circle cx="293.51" cy="105.79" r="1.5" fill="#1d3a7a"/>
<path d="M298.41,103.37V106.77M297.01,103.37H299.81M297.01,106.77H299.81" stroke="#444" stroke-width="0.7"/>
<circle cx="298.41" cy="105.07" r="1.5" fill="#1d3a7a"/>
<path d="M303.46,99.76V103.16M302.06,99.76H304.86M302.06,103.16H304.86" stroke="#444" stroke-width="0.7"/>
<circle cx="303.46" cy="101.46" r="1.5" fill="#1d3a7a"/>
<path d="M308.22,93.99V97.39M306.82,93.99H309.62M306.82,97.39H309.62" stroke="#444" stroke-width="0.7"/>
<circle cx="308.22" cy="95.69" r="1.5" fill="#1d3a7a"/>
<path d="M312.98,81.01V84.41M311.58,81.01H314.38M311.58,84.41H314.38" stroke="#444" stroke-width="0.7"/>
<circle cx="312.98" cy="82.71" r="1.5" fill="#1d3a7a"/>
<path d="M317.88,63.7V67.1M316.48,63.7H319.28M316.48,67.1H319.28" stroke="#444" stroke-width="0.7"/>
<circle cx="317.88" cy="65.4" r="1.5" fill="#1d3a7a"/>
<path d="M322.64,46.4V49.8M321.24,46.4H324.04M321.24,49.8H324.04" stroke="#444" stroke-width="0.7"/>
<circle cx="322.64" cy="48.1" r="1.5" fill="#1d3a7a"/>
<path d="M327.4,43.8V47.2M326,43.8H328.8M326,47.2H328.8" stroke="#444" stroke-width="0.7"/>
<circle cx="327.4" cy="45.5" r="1.5" fill="#1d3a7a"/>
<path d="M332.31,43.8V47.2M330.91,43.8H333.71M330.91,47.2H333.71" stroke="#444" stroke-width="0.7"/>
<circle cx="332.31" cy="45.5" r="1.5" fill="#1d3a7a"/>
</g>
<rect x="387.3" y="44.2" width="23.6" height="64.5" fill="#e0e0e2"/>
<text x="389.45" y="34.85" font-size="10.2" textLength="46.8" lengthAdjust="spacingAndGlyphs" fill="#1a1a1a" stroke="#1a1a1a" stroke-width="0.22">GDC-0941</text>
<path d="M375.2,108.7H379.1" stroke="#262626" stroke-width="1.35"/>
<text x="361.7" y="111.55" font-size="8" textLength="10.3" lengthAdjust="spacingAndGlyphs" fill="#222" stroke="#222" stroke-width="0.22">0.0</text>
<path d="M375.2,95.8H379.1" stroke="#262626" stroke-width="1.35"/>
<text x="361.7" y="98.65" font-size="8" textLength="10.3" lengthAdjust="spacingAndGlyphs" fill="#222" stroke="#222" stroke-width="0.22">0.2</text>
<path d="M375.2,82.9H379.1" stroke="#262626" stroke-width="1.35"/>
<text x="361.7" y="85.75" font-size="8" textLength="10.3" lengthAdjust="spacingAndGlyphs" fill="#222" stroke="#222" stroke-width="0.22">0.4</text>
<path d="M375.2,70H379.1" stroke="#262626" stroke-width="1.35"/>
<text x="361.7" y="72.85" font-size="8" textLength="10.3" lengthAdjust="spacingAndGlyphs" fill="#222" stroke="#222" stroke-width="0.22">0.6</text>
<path d="M375.2,57.1H379.1" stroke="#262626" stroke-width="1.35"/>
<text x="361.7" y="59.95" font-size="8" textLength="10.3" lengthAdjust="spacingAndGlyphs" fill="#222" stroke="#222" stroke-width="0.22">0.8</text>
<path d="M375.2,44.2H379.1" stroke="#262626" stroke-width="1.35"/>
<text x="361.7" y="47.05" font-size="8" textLength="10.3" lengthAdjust="spacingAndGlyphs" fill="#222" stroke="#222" stroke-width="0.22">1.0</text>
<path d="M379.1,108.7V112" stroke="#262626" stroke-width="1.35"/>
<text x="373.57" y="121.9" font-size="6.8" textLength="7.5" lengthAdjust="spacingAndGlyphs" fill="#222" stroke="#222" stroke-width="0.22">10</text>
<text x="381.47" y="118.8" font-size="4.8" textLength="4.05" lengthAdjust="spacingAndGlyphs" fill="#222" stroke="#222" stroke-width="0.22">-9</text>
<path d="M395.15,108.7V112" stroke="#262626" stroke-width="1.35"/>
<text x="389.62" y="121.9" font-size="6.8" textLength="7.5" lengthAdjust="spacingAndGlyphs" fill="#222" stroke="#222" stroke-width="0.22">10</text>
<text x="397.52" y="118.8" font-size="4.8" textLength="4.05" lengthAdjust="spacingAndGlyphs" fill="#222" stroke="#222" stroke-width="0.22">-8</text>
<path d="M411.2,108.7V112" stroke="#262626" stroke-width="1.35"/>
<text x="405.67" y="121.9" font-size="6.8" textLength="7.5" lengthAdjust="spacingAndGlyphs" fill="#222" stroke="#222" stroke-width="0.22">10</text>
<text x="413.57" y="118.8" font-size="4.8" textLength="4.05" lengthAdjust="spacingAndGlyphs" fill="#222" stroke="#222" stroke-width="0.22">-7</text>
<path d="M427.25,108.7V112" stroke="#262626" stroke-width="1.35"/>
<text x="421.72" y="121.9" font-size="6.8" textLength="7.5" lengthAdjust="spacingAndGlyphs" fill="#222" stroke="#222" stroke-width="0.22">10</text>
<text x="429.62" y="118.8" font-size="4.8" textLength="4.05" lengthAdjust="spacingAndGlyphs" fill="#222" stroke="#222" stroke-width="0.22">-6</text>
<path d="M443.3,108.7V112" stroke="#262626" stroke-width="1.35"/>
<text x="437.77" y="121.9" font-size="6.8" textLength="7.5" lengthAdjust="spacingAndGlyphs" fill="#222" stroke="#222" stroke-width="0.22">10</text>
<text x="445.67" y="118.8" font-size="4.8" textLength="4.05" lengthAdjust="spacingAndGlyphs" fill="#222" stroke="#222" stroke-width="0.22">-5</text>
<path d="M379.1,40.9V108.7H446.6" fill="none" stroke="#262626" stroke-width="1.8"/>
<clipPath id="cp4"><rect x="379.8" y="38.2" width="71.5" height="70.1"/></clipPath>
<g clip-path="url(#cp4)">
<path d="M388.55,99.7 L389.28,99.67 L390.01,99.64 L390.75,99.61 L391.48,99.58 L392.21,99.54 L392.95,99.51 L393.68,99.46 L394.42,99.42 L395.15,99.37 L395.88,99.32 L396.62,99.26 L397.35,99.2 L398.08,99.13 L398.82,99.05 L399.55,98.97 L400.28,98.89 L401.02,98.79 L401.75,98.69 L402.48,98.58 L403.22,98.47 L403.95,98.34 L404.68,98.2 L405.42,98.06 L406.15,97.9 L406.88,97.73 L407.62,97.55 L408.35,97.35 L409.08,97.15 L409.82,96.92 L410.55,96.69 L411.28,96.44 L412.02,96.17 L412.75,95.88 L413.48,95.59 L414.22,95.27 L414.95,94.94 L415.68,94.59 L416.42,94.22 L417.15,93.84 L417.88,93.44 L418.62,93.02 L419.35,92.59 L420.08,92.15 L420.82,91.7 L421.55,91.23 L422.28,90.75 L423.02,90.26 L423.75,89.77 L424.48,89.27 L425.22,88.77 L425.95,88.26 L426.68,87.75 L427.42,87.25 L428.15,86.75 L428.88,86.26 L429.62,85.77 L430.35,85.29 L431.08,84.82 L431.82,84.37" fill="none" stroke="#e58d16" stroke-width="1.3"/>
<path d="M388.55,97.6V101M387.15,97.6H389.95M387.15,101H389.95" stroke="#444" stroke-width="0.7"/>
<circle cx="388.55" cy="99.3" r="1.5" fill="#e58d16"/>
<path d="M393.31,97.6V101M391.91,97.6H394.71M391.91,101H394.71" stroke="#444" stroke-width="0.7"/>
<circle cx="393.31" cy="99.3" r="1.5" fill="#e58d16"/>
<path d="M398.07,95.43V98.83M396.67,95.43H399.47M396.67,98.83H399.47" stroke="#444" stroke-width="0.7"/>
<circle cx="398.07" cy="97.13" r="1.5" fill="#e58d16"/>
<path d="M402.97,100.48V103.88M401.57,100.48H404.37M401.57,103.88H404.37" stroke="#444" stroke-width="0.7"/>
<circle cx="402.97" cy="102.18" r="1.5" fill="#e58d16"/>
<path d="M407.73,95.43V98.83M406.33,95.43H409.13M406.33,98.83H409.13" stroke="#444" stroke-width="0.7"/>
<circle cx="407.73" cy="97.13" r="1.5" fill="#e58d16"/>
<path d="M412.49,94.71V98.11M411.09,94.71H413.89M411.09,98.11H413.89" stroke="#444" stroke-width="0.7"/>
<circle cx="412.49" cy="96.41" r="1.5" fill="#e58d16"/>
<path d="M417.39,90.39V93.79M415.99,90.39H418.79M415.99,93.79H418.79" stroke="#444" stroke-width="0.7"/>
<circle cx="417.39" cy="92.09" r="1.5" fill="#e58d16"/>
<path d="M422.15,88.22V91.62M420.75,88.22H423.55M420.75,91.62H423.55" stroke="#444" stroke-width="0.7"/>
<circle cx="422.15" cy="89.92" r="1.5" fill="#e58d16"/>
<path d="M426.91,86.32V93.52M425.51,86.32H428.31M425.51,93.52H428.31" stroke="#444" stroke-width="0.7"/>
<circle cx="426.91" cy="89.92" r="1.5" fill="#e58d16"/>
<path d="M431.82,80.93V85.93M430.42,80.93H433.22M430.42,85.93H433.22" stroke="#444" stroke-width="0.7"/>
<circle cx="431.82" cy="83.43" r="1.5" fill="#e58d16"/>
<path d="M388.55,87.74 L389.28,87.54 L390.01,87.33 L390.75,87.08 L391.48,86.81 L392.21,86.51 L392.95,86.17 L393.68,85.8 L394.42,85.39 L395.15,84.94 L395.88,84.44 L396.62,83.89 L397.35,83.28 L398.08,82.62 L398.82,81.91 L399.55,81.13 L400.28,80.29 L401.02,79.39 L401.75,78.43 L402.48,77.4 L403.22,76.31 L403.95,75.17 L404.68,73.97 L405.42,72.73 L406.15,71.45 L406.88,70.13 L407.62,68.79 L408.35,67.44 L409.08,66.08 L409.82,64.72 L410.55,63.38 L411.28,62.06 L412.02,60.78 L412.75,59.53 L413.48,58.33 L414.22,57.19 L414.95,56.1 L415.68,55.06 L416.42,54.1 L417.15,53.19 L417.88,52.35 L418.62,51.56 L419.35,50.84 L420.08,50.18 L420.82,49.57 L421.55,49.02 L422.28,48.52 L423.02,48.06 L423.75,47.64 L424.48,47.27 L425.22,46.93 L425.95,46.63 L426.68,46.35 L427.42,46.11 L428.15,45.89 L428.88,45.69 L429.62,45.51 L430.35,45.36 L431.08,45.22 L431.82,45.09" fill="none" stroke="#5aaae6" stroke-width="1.3"/>
<path d="M388.55,84.59V91.79M387.15,84.59H389.95M387.15,91.79H389.95" stroke="#444" stroke-width="0.7"/>
<circle cx="388.55" cy="88.19" r="1.5" fill="#5aaae6"/>
<path d="M393.31,82V89.2M391.91,82H394.71M391.91,89.2H394.71" stroke="#444" stroke-width="0.7"/>
<circle cx="393.31" cy="85.6" r="1.5" fill="#5aaae6"/>
<path d="M398.07,76.99V86.99M396.67,76.99H399.47M396.67,86.99H399.47" stroke="#444" stroke-width="0.7"/>
<circle cx="398.07" cy="81.99" r="1.5" fill="#5aaae6"/>
<path d="M402.97,75.16V80.16M401.57,75.16H404.37M401.57,80.16H404.37" stroke="#444" stroke-width="0.7"/>
<circle cx="402.97" cy="77.66" r="1.5" fill="#5aaae6"/>
<path d="M407.73,66.59V69.99M406.33,66.59H409.13M406.33,69.99H409.13" stroke="#444" stroke-width="0.7"/>
<circle cx="407.73" cy="68.29" r="1.5" fill="#5aaae6"/>
<path d="M412.49,57.93V61.33M411.09,57.93H413.89M411.09,61.33H413.89" stroke="#444" stroke-width="0.7"/>
<circle cx="412.49" cy="59.63" r="1.5" fill="#5aaae6"/>
<path d="M417.39,51.44V54.84M415.99,51.44H418.79M415.99,54.84H418.79" stroke="#444" stroke-width="0.7"/>
<circle cx="417.39" cy="53.14" r="1.5" fill="#5aaae6"/>
<path d="M422.15,47.12V50.52M420.75,47.12H423.55M420.75,50.52H423.55" stroke="#444" stroke-width="0.7"/>
<circle cx="422.15" cy="48.82" r="1.5" fill="#5aaae6"/>
<path d="M426.91,44.23V47.63M425.51,44.23H428.31M425.51,47.63H428.31" stroke="#444" stroke-width="0.7"/>
<circle cx="426.91" cy="45.93" r="1.5" fill="#5aaae6"/>
<path d="M431.82,43.51V46.91M430.42,43.51H433.22M430.42,46.91H433.22" stroke="#444" stroke-width="0.7"/>
<circle cx="431.82" cy="45.21" r="1.5" fill="#5aaae6"/>
<path d="M388.55,102.84 L389.28,102.78 L390.01,102.71 L390.75,102.64 L391.48,102.55 L392.21,102.44 L392.95,102.32 L393.68,102.17 L394.42,102.01 L395.15,101.81 L395.88,101.59 L396.62,101.33 L397.35,101.03 L398.08,100.68 L398.82,100.27 L399.55,99.81 L400.28,99.27 L401.02,98.66 L401.75,97.96 L402.48,97.16 L403.22,96.26 L403.95,95.24 L404.68,94.09 L405.42,92.81 L406.15,91.39 L406.88,89.84 L407.62,88.13 L408.35,86.29 L409.08,84.32 L409.82,82.23 L410.55,80.03 L411.28,77.76 L412.02,75.42 L412.75,73.06 L413.48,70.7 L414.22,68.36 L414.95,66.08 L415.68,63.88 L416.42,61.78 L417.15,59.8 L417.88,57.95 L418.62,56.24 L419.35,54.68 L420.08,53.25 L420.82,51.96 L421.55,50.81 L422.28,49.78 L423.02,48.87 L423.75,48.07 L424.48,47.36 L425.22,46.75 L425.95,46.21 L426.68,45.74 L427.42,45.33 L428.15,44.98 L428.88,44.67 L429.62,44.41 L430.35,44.18 L431.08,43.99 L431.82,43.82" fill="none" stroke="#8a7cc6" stroke-width="1.3"/>
<path d="M388.55,99.76V103.16M387.15,99.76H389.95M387.15,103.16H389.95" stroke="#444" stroke-width="0.7"/>
<circle cx="388.55" cy="101.46" r="1.5" fill="#8a7cc6"/>
<path d="M393.31,103.37V106.77M391.91,103.37H394.71M391.91,106.77H394.71" stroke="#444" stroke-width="0.7"/>
<circle cx="393.31" cy="105.07" r="1.5" fill="#8a7cc6"/>
<path d="M398.07,98.32V101.72M396.67,98.32H399.47M396.67,101.72H399.47" stroke="#444" stroke-width="0.7"/>
<circle cx="398.07" cy="100.02" r="1.5" fill="#8a7cc6"/>
<path d="M402.97,93.99V97.39M401.57,93.99H404.37M401.57,97.39H404.37" stroke="#444" stroke-width="0.7"/>
<circle cx="402.97" cy="95.69" r="1.5" fill="#8a7cc6"/>
<path d="M407.73,85.34V88.74M406.33,85.34H409.13M406.33,88.74H409.13" stroke="#444" stroke-width="0.7"/>
<circle cx="407.73" cy="87.04" r="1.5" fill="#8a7cc6"/>
<path d="M412.49,73.8V77.2M411.09,73.8H413.89M411.09,77.2H413.89" stroke="#444" stroke-width="0.7"/>
<circle cx="412.49" cy="75.5" r="1.5" fill="#8a7cc6"/>
<path d="M417.39,57.21V60.61M415.99,57.21H418.79M415.99,60.61H418.79" stroke="#444" stroke-width="0.7"/>
<circle cx="417.39" cy="58.91" r="1.5" fill="#8a7cc6"/>
<path d="M422.15,47.12V50.52M420.75,47.12H423.55M420.75,50.52H423.55" stroke="#444" stroke-width="0.7"/>
<circle cx="422.15" cy="48.82" r="1.5" fill="#8a7cc6"/>
<path d="M426.91,43.51V46.91M425.51,43.51H428.31M425.51,46.91H428.31" stroke="#444" stroke-width="0.7"/>
<circle cx="426.91" cy="45.21" r="1.5" fill="#8a7cc6"/>
<path d="M431.82,43.22V46.62M430.42,43.22H433.22M430.42,46.62H433.22" stroke="#444" stroke-width="0.7"/>
<circle cx="431.82" cy="44.92" r="1.5" fill="#8a7cc6"/>
<path d="M388.55,102.04 L389.28,101.96 L390.01,101.87 L390.75,101.78 L391.48,101.67 L392.21,101.55 L392.95,101.42 L393.68,101.27 L394.42,101.1 L395.15,100.91 L395.88,100.7 L396.62,100.47 L397.35,100.21 L398.08,99.92 L398.82,99.6 L399.55,99.25 L400.28,98.86 L401.02,98.42 L401.75,97.94 L402.48,97.42 L403.22,96.84 L403.95,96.2 L404.68,95.51 L405.42,94.75 L406.15,93.93 L406.88,93.03 L407.62,92.07 L408.35,91.04 L409.08,89.93 L409.82,88.75 L410.55,87.5 L411.28,86.18 L412.02,84.79 L412.75,83.35 L413.48,81.85 L414.22,80.31 L414.95,78.73 L415.68,77.12 L416.42,75.5 L417.15,73.87 L417.88,72.25 L418.62,70.64 L419.35,69.06 L420.08,67.51 L420.82,66.01 L421.55,64.56 L422.28,63.17 L423.02,61.85 L423.75,60.59 L424.48,59.4 L425.22,58.29 L425.95,57.25 L426.68,56.28 L427.42,55.38 L428.15,54.55 L428.88,53.79 L429.62,53.09 L430.35,52.45 L431.08,51.86 L431.82,51.33" fill="none" stroke="#1d3a7a" stroke-width="1.3"/>
<path d="M388.55,99.76V103.16M387.15,99.76H389.95M387.15,103.16H389.95" stroke="#444" stroke-width="0.7"/>
<circle cx="388.55" cy="101.46" r="1.5" fill="#1d3a7a"/>
<path d="M393.31,99.76V103.16M391.91,99.76H394.71M391.91,103.16H394.71" stroke="#444" stroke-width="0.7"/>
<circle cx="393.31" cy="101.46" r="1.5" fill="#1d3a7a"/>
<path d="M398.07,98.61V102.01M396.67,98.61H399.47M396.67,102.01H399.47" stroke="#444" stroke-width="0.7"/>
<circle cx="398.07" cy="100.31" r="1.5" fill="#1d3a7a"/>
<path d="M402.97,95.43V98.83M401.57,95.43H404.37M401.57,98.83H404.37" stroke="#444" stroke-width="0.7"/>
<circle cx="402.97" cy="97.13" r="1.5" fill="#1d3a7a"/>
<path d="M407.73,90.39V93.79M406.33,90.39H409.13M406.33,93.79H409.13" stroke="#444" stroke-width="0.7"/>
<circle cx="407.73" cy="92.09" r="1.5" fill="#1d3a7a"/>
<path d="M412.49,82.45V85.85M411.09,82.45H413.89M411.09,85.85H413.89" stroke="#444" stroke-width="0.7"/>
<circle cx="412.49" cy="84.15" r="1.5" fill="#1d3a7a"/>
<path d="M417.39,70.19V73.59M415.99,70.19H418.79M415.99,73.59H418.79" stroke="#444" stroke-width="0.7"/>
<circle cx="417.39" cy="71.89" r="1.5" fill="#1d3a7a"/>
<path d="M422.15,62.98V66.38M420.75,62.98H423.55M420.75,66.38H423.55" stroke="#444" stroke-width="0.7"/>
<circle cx="422.15" cy="64.68" r="1.5" fill="#1d3a7a"/>
<path d="M426.91,54.33V57.73M425.51,54.33H428.31M425.51,57.73H428.31" stroke="#444" stroke-width="0.7"/>
<circle cx="426.91" cy="56.03" r="1.5" fill="#1d3a7a"/>
<path d="M431.82,49.28V52.68M430.42,49.28H433.22M430.42,52.68H433.22" stroke="#444" stroke-width="0.7"/>
<circle cx="431.82" cy="50.98" r="1.5" fill="#1d3a7a"/>
</g>
<rect x="72.4" y="152.1" width="9.4" height="64.5" fill="#e0e0e2"/>
<text x="78.5" y="142.75" font-size="10.2" textLength="32.7" lengthAdjust="spacingAndGlyphs" fill="#1a1a1a" stroke="#1a1a1a" stroke-width="0.22">BYL719</text>
<path d="M57.2,216.6H61.1" stroke="#262626" stroke-width="1.35"/>
<text x="43.7" y="219.45" font-size="8" textLength="10.3" lengthAdjust="spacingAndGlyphs" fill="#222" stroke="#222" stroke-width="0.22">0.0</text>
<path d="M57.2,203.7H61.1" stroke="#262626" stroke-width="1.35"/>
<text x="43.7" y="206.55" font-size="8" textLength="10.3" lengthAdjust="spacingAndGlyphs" fill="#222" stroke="#222" stroke-width="0.22">0.2</text>
<path d="M57.2,190.8H61.1" stroke="#262626" stroke-width="1.35"/>
<text x="43.7" y="193.65" font-size="8" textLength="10.3" lengthAdjust="spacingAndGlyphs" fill="#222" stroke="#222" stroke-width="0.22">0.4</text>
<path d="M57.2,177.9H61.1" stroke="#262626" stroke-width="1.35"/>
<text x="43.7" y="180.75" font-size="8" textLength="10.3" lengthAdjust="spacingAndGlyphs" fill="#222" stroke="#222" stroke-width="0.22">0.6</text>
<path d="M57.2,165H61.1" stroke="#262626" stroke-width="1.35"/>
<text x="43.7" y="167.85" font-size="8" textLength="10.3" lengthAdjust="spacingAndGlyphs" fill="#222" stroke="#222" stroke-width="0.22">0.8</text>
<path d="M57.2,152.1H61.1" stroke="#262626" stroke-width="1.35"/>
<text x="43.7" y="154.95" font-size="8" textLength="10.3" lengthAdjust="spacingAndGlyphs" fill="#222" stroke="#222" stroke-width="0.22">1.0</text>
<path d="M61.1,216.6V219.9" stroke="#262626" stroke-width="1.35"/>
<text x="55.57" y="229.8" font-size="6.8" textLength="7.5" lengthAdjust="spacingAndGlyphs" fill="#222" stroke="#222" stroke-width="0.22">10</text>
<text x="63.47" y="226.7" font-size="4.8" textLength="4.05" lengthAdjust="spacingAndGlyphs" fill="#222" stroke="#222" stroke-width="0.22">-8</text>
<path d="M77.15,216.6V219.9" stroke="#262626" stroke-width="1.35"/>
<text x="71.62" y="229.8" font-size="6.8" textLength="7.5" lengthAdjust="spacingAndGlyphs" fill="#222" stroke="#222" stroke-width="0.22">10</text>
<text x="79.52" y="226.7" font-size="4.8" textLength="4.05" lengthAdjust="spacingAndGlyphs" fill="#222" stroke="#222" stroke-width="0.22">-7</text>
<path d="M93.2,216.6V219.9" stroke="#262626" stroke-width="1.35"/>
<text x="87.67" y="229.8" font-size="6.8" textLength="7.5" lengthAdjust="spacingAndGlyphs" fill="#222" stroke="#222" stroke-width="0.22">10</text>
<text x="95.57" y="226.7" font-size="4.8" textLength="4.05" lengthAdjust="spacingAndGlyphs" fill="#222" stroke="#222" stroke-width="0.22">-6</text>
<path d="M109.25,216.6V219.9" stroke="#262626" stroke-width="1.35"/>
<text x="103.72" y="229.8" font-size="6.8" textLength="7.5" lengthAdjust="spacingAndGlyphs" fill="#222" stroke="#222" stroke-width="0.22">10</text>
<text x="111.62" y="226.7" font-size="4.8" textLength="4.05" lengthAdjust="spacingAndGlyphs" fill="#222" stroke="#222" stroke-width="0.22">-5</text>
<path d="M125.3,216.6V219.9" stroke="#262626" stroke-width="1.35"/>
<text x="119.77" y="229.8" font-size="6.8" textLength="7.5" lengthAdjust="spacingAndGlyphs" fill="#222" stroke="#222" stroke-width="0.22">10</text>
<text x="127.67" y="226.7" font-size="4.8" textLength="4.05" lengthAdjust="spacingAndGlyphs" fill="#222" stroke="#222" stroke-width="0.22">-4</text>
<path d="M61.1,148.8V216.6H128.6" fill="none" stroke="#262626" stroke-width="1.8"/>
<clipPath id="cp5"><rect x="61.8" y="146.1" width="71.5" height="70.1"/></clipPath>
<g clip-path="url(#cp5)">
<path d="M65.5,212.98 L66.24,212.96 L66.98,212.94 L67.72,212.92 L68.46,212.89 L69.2,212.87 L69.94,212.84 L70.68,212.81 L71.43,212.77 L72.17,212.73 L72.91,212.69 L73.65,212.65 L74.39,212.6 L75.13,212.55 L75.87,212.49 L76.61,212.43 L77.35,212.37 L78.09,212.3 L78.83,212.22 L79.57,212.13 L80.31,212.04 L81.05,211.94 L81.8,211.84 L82.54,211.72 L83.28,211.6 L84.02,211.46 L84.76,211.31 L85.5,211.16 L86.24,210.98 L86.98,210.8 L87.72,210.6 L88.46,210.38 L89.2,210.14 L89.94,209.89 L90.68,209.61 L91.42,209.32 L92.17,209 L92.91,208.65 L93.65,208.28 L94.39,207.88 L95.13,207.45 L95.87,206.98 L96.61,206.48 L97.35,205.94 L98.09,205.36 L98.83,204.74 L99.57,204.08 L100.31,203.37 L101.05,202.6 L101.79,201.79 L102.54,200.92 L103.28,199.99 L104.02,199 L104.76,197.94 L105.5,196.83 L106.24,195.64 L106.98,194.38 L107.72,193.06 L108.46,191.66 L109.2,190.19" fill="none" stroke="#e58d16" stroke-width="1.3"/>
<path d="M65.5,210.93V214.33M64.1,210.93H66.9M64.1,214.33H66.9" stroke="#444" stroke-width="0.7"/>
<circle cx="65.5" cy="212.63" r="1.5" fill="#e58d16"/>
<path d="M70.55,210.93V214.33M69.15,210.93H71.95M69.15,214.33H71.95" stroke="#444" stroke-width="0.7"/>
<circle cx="70.55" cy="212.63" r="1.5" fill="#e58d16"/>
<path d="M75.31,210.93V214.33M73.91,210.93H76.71M73.91,214.33H76.71" stroke="#444" stroke-width="0.7"/>
<circle cx="75.31" cy="212.63" r="1.5" fill="#e58d16"/>
<path d="M80.07,209.93V213.32M78.67,209.93H81.47M78.67,213.32H81.47" stroke="#444" stroke-width="0.7"/>
<circle cx="80.07" cy="211.62" r="1.5" fill="#e58d16"/>
<path d="M84.97,210.65V214.05M83.57,210.65H86.37M83.57,214.05H86.37" stroke="#444" stroke-width="0.7"/>
<circle cx="84.97" cy="212.35" r="1.5" fill="#e58d16"/>
<path d="M89.73,207.59V214.79M88.33,207.59H91.13M88.33,214.79H91.13" stroke="#444" stroke-width="0.7"/>
<circle cx="89.73" cy="211.19" r="1.5" fill="#e58d16"/>
<path d="M94.49,198.29V214.29M93.09,198.29H95.89M93.09,214.29H95.89" stroke="#444" stroke-width="0.7"/>
<circle cx="94.49" cy="206.29" r="1.5" fill="#e58d16"/>
<path d="M99.39,196.19V211.19M97.99,196.19H100.79M97.99,211.19H100.79" stroke="#444" stroke-width="0.7"/>
<circle cx="99.39" cy="203.69" r="1.5" fill="#e58d16"/>
<path d="M104.15,191.35V207.95M102.75,191.35H105.55M102.75,207.95H105.55" stroke="#444" stroke-width="0.7"/>
<circle cx="104.15" cy="199.65" r="1.5" fill="#e58d16"/>
<path d="M109.2,183.19V196.79M107.8,183.19H110.6M107.8,196.79H110.6" stroke="#444" stroke-width="0.7"/>
<circle cx="109.2" cy="189.99" r="1.5" fill="#e58d16"/>
<path d="M65.5,210 L66.24,209.99 L66.98,209.98 L67.72,209.96 L68.46,209.94 L69.2,209.91 L69.94,209.88 L70.68,209.85 L71.43,209.8 L72.17,209.75 L72.91,209.7 L73.65,209.63 L74.39,209.55 L75.13,209.45 L75.87,209.34 L76.61,209.21 L77.35,209.06 L78.09,208.87 L78.83,208.66 L79.57,208.41 L80.31,208.12 L81.05,207.78 L81.8,207.38 L82.54,206.92 L83.28,206.39 L84.02,205.77 L84.76,205.05 L85.5,204.23 L86.24,203.29 L86.98,202.23 L87.72,201.02 L88.46,199.67 L89.2,198.16 L89.94,196.5 L90.68,194.67 L91.42,192.7 L92.17,190.58 L92.91,188.34 L93.65,186 L94.39,183.58 L95.13,181.12 L95.87,178.65 L96.61,176.2 L97.35,173.81 L98.09,171.51 L98.83,169.31 L99.57,167.25 L100.31,165.33 L101.05,163.57 L101.79,161.96 L102.54,160.51 L103.28,159.22 L104.02,158.07 L104.76,157.05 L105.5,156.16 L106.24,155.38 L106.98,154.7 L107.72,154.12 L108.46,153.61 L109.2,153.17" fill="none" stroke="#8a7cc6" stroke-width="1.3"/>
<path d="M65.5,207.76V211.16M64.1,207.76H66.9M64.1,211.16H66.9" stroke="#444" stroke-width="0.7"/>
<circle cx="65.5" cy="209.46" r="1.5" fill="#8a7cc6"/>
<path d="M70.55,208.48V211.88M69.15,208.48H71.95M69.15,211.88H71.95" stroke="#444" stroke-width="0.7"/>
<circle cx="70.55" cy="210.18" r="1.5" fill="#8a7cc6"/>
<path d="M75.31,207.76V211.16M73.91,207.76H76.71M73.91,211.16H76.71" stroke="#444" stroke-width="0.7"/>
<circle cx="75.31" cy="209.46" r="1.5" fill="#8a7cc6"/>
<path d="M80.07,207.76V211.16M78.67,207.76H81.47M78.67,211.16H81.47" stroke="#444" stroke-width="0.7"/>
<circle cx="80.07" cy="209.46" r="1.5" fill="#8a7cc6"/>
<path d="M84.97,201.99V205.39M83.57,201.99H86.37M83.57,205.39H86.37" stroke="#444" stroke-width="0.7"/>
<circle cx="84.97" cy="203.69" r="1.5" fill="#8a7cc6"/>
<path d="M89.73,194.78V198.18M88.33,194.78H91.13M88.33,198.18H91.13" stroke="#444" stroke-width="0.7"/>
<circle cx="89.73" cy="196.48" r="1.5" fill="#8a7cc6"/>
<path d="M94.49,182.52V185.92M93.09,182.52H95.89M93.09,185.92H95.89" stroke="#444" stroke-width="0.7"/>
<circle cx="94.49" cy="184.22" r="1.5" fill="#8a7cc6"/>
<path d="M99.39,165.93V169.33M97.99,165.93H100.79M97.99,169.33H100.79" stroke="#444" stroke-width="0.7"/>
<circle cx="99.39" cy="167.63" r="1.5" fill="#8a7cc6"/>
<path d="M104.15,155.12V158.52M102.75,155.12H105.55M102.75,158.52H105.55" stroke="#444" stroke-width="0.7"/>
<circle cx="104.15" cy="156.82" r="1.5" fill="#8a7cc6"/>
<path d="M109.2,152.23V155.63M107.8,152.23H110.6M107.8,155.63H110.6" stroke="#444" stroke-width="0.7"/>
<circle cx="109.2" cy="153.93" r="1.5" fill="#8a7cc6"/>
<path d="M65.5,210.02 L66.24,209.77 L66.98,209.49 L67.72,209.2 L68.46,208.87 L69.2,208.51 L69.94,208.12 L70.68,207.7 L71.43,207.24 L72.17,206.73 L72.91,206.19 L73.65,205.6 L74.39,204.96 L75.13,204.27 L75.87,203.53 L76.61,202.73 L77.35,201.87 L78.09,200.96 L78.83,199.99 L79.57,198.96 L80.31,197.87 L81.05,196.72 L81.8,195.51 L82.54,194.24 L83.28,192.92 L84.02,191.55 L84.76,190.14 L85.5,188.69 L86.24,187.2 L86.98,185.68 L87.72,184.14 L88.46,182.59 L89.2,181.04 L89.94,179.49 L90.68,177.94 L91.42,176.42 L92.17,174.92 L92.91,173.45 L93.65,172.02 L94.39,170.63 L95.13,169.29 L95.87,168 L96.61,166.77 L97.35,165.6 L98.09,164.48 L98.83,163.42 L99.57,162.43 L100.31,161.49 L101.05,160.62 L101.79,159.8 L102.54,159.03 L103.28,158.32 L104.02,157.66 L104.76,157.05 L105.5,156.49 L106.24,155.97 L106.98,155.49 L107.72,155.05 L108.46,154.65 L109.2,154.28" fill="none" stroke="#5aaae6" stroke-width="1.3"/>
<path d="M65.5,208.48V211.88M64.1,208.48H66.9M64.1,211.88H66.9" stroke="#444" stroke-width="0.7"/>
<circle cx="65.5" cy="210.18" r="1.5" fill="#5aaae6"/>
<path d="M70.55,207.04V210.44M69.15,207.04H71.95M69.15,210.44H71.95" stroke="#444" stroke-width="0.7"/>
<circle cx="70.55" cy="208.74" r="1.5" fill="#5aaae6"/>
<path d="M75.31,200.26V203.66M73.91,200.26H76.71M73.91,203.66H76.71" stroke="#444" stroke-width="0.7"/>
<circle cx="75.31" cy="201.96" r="1.5" fill="#5aaae6"/>
<path d="M80.07,197.67V201.07M78.67,197.67H81.47M78.67,201.07H81.47" stroke="#444" stroke-width="0.7"/>
<circle cx="80.07" cy="199.37" r="1.5" fill="#5aaae6"/>
<path d="M84.97,187.57V190.97M83.57,187.57H86.37M83.57,190.97H86.37" stroke="#444" stroke-width="0.7"/>
<circle cx="84.97" cy="189.27" r="1.5" fill="#5aaae6"/>
<path d="M89.73,178.92V182.32M88.33,178.92H91.13M88.33,182.32H91.13" stroke="#444" stroke-width="0.7"/>
<circle cx="89.73" cy="180.62" r="1.5" fill="#5aaae6"/>
<path d="M94.49,168.82V172.22M93.09,168.82H95.89M93.09,172.22H95.89" stroke="#444" stroke-width="0.7"/>
<circle cx="94.49" cy="170.52" r="1.5" fill="#5aaae6"/>
<path d="M99.39,160.17V163.57M97.99,160.17H100.79M97.99,163.57H100.79" stroke="#444" stroke-width="0.7"/>
<circle cx="99.39" cy="161.87" r="1.5" fill="#5aaae6"/>
<path d="M104.15,155.84V159.24M102.75,155.84H105.55M102.75,159.24H105.55" stroke="#444" stroke-width="0.7"/>
<circle cx="104.15" cy="157.54" r="1.5" fill="#5aaae6"/>
<path d="M109.2,152.95V156.35M107.8,152.95H110.6M107.8,156.35H110.6" stroke="#444" stroke-width="0.7"/>
<circle cx="109.2" cy="154.65" r="1.5" fill="#5aaae6"/>
<path d="M65.5,210.62 L66.24,210.46 L66.98,210.27 L67.72,210.07 L68.46,209.85 L69.2,209.61 L69.94,209.35 L70.68,209.06 L71.43,208.75 L72.17,208.41 L72.91,208.03 L73.65,207.63 L74.39,207.18 L75.13,206.7 L75.87,206.18 L76.61,205.62 L77.35,205.01 L78.09,204.36 L78.83,203.65 L79.57,202.9 L80.31,202.09 L81.05,201.23 L81.8,200.32 L82.54,199.35 L83.28,198.32 L84.02,197.25 L84.76,196.12 L85.5,194.93 L86.24,193.71 L86.98,192.43 L87.72,191.12 L88.46,189.78 L89.2,188.4 L89.94,187 L90.68,185.58 L91.42,184.16 L92.17,182.73 L92.91,181.31 L93.65,179.89 L94.39,178.5 L95.13,177.13 L95.87,175.79 L96.61,174.48 L97.35,173.22 L98.09,172 L98.83,170.83 L99.57,169.71 L100.31,168.64 L101.05,167.63 L101.79,166.67 L102.54,165.77 L103.28,164.92 L104.02,164.12 L104.76,163.38 L105.5,162.68 L106.24,162.04 L106.98,161.44 L107.72,160.89 L108.46,160.37 L109.2,159.9" fill="none" stroke="#1d3a7a" stroke-width="1.3"/>
<path d="M65.5,205.48V214.88M64.1,205.48H66.9M64.1,214.88H66.9" stroke="#444" stroke-width="0.7"/>
<circle cx="65.5" cy="210.18" r="1.5" fill="#1d3a7a"/>
<path d="M70.55,204.76V214.16M69.15,204.76H71.95M69.15,214.16H71.95" stroke="#444" stroke-width="0.7"/>
<circle cx="70.55" cy="209.46" r="1.5" fill="#1d3a7a"/>
<path d="M75.31,204.88V208.28M73.91,204.88H76.71M73.91,208.28H76.71" stroke="#444" stroke-width="0.7"/>
<circle cx="75.31" cy="206.58" r="1.5" fill="#1d3a7a"/>
<path d="M80.07,201.27V204.67M78.67,201.27H81.47M78.67,204.67H81.47" stroke="#444" stroke-width="0.7"/>
<circle cx="80.07" cy="202.97" r="1.5" fill="#1d3a7a"/>
<path d="M84.97,193.34V196.74M83.57,193.34H86.37M83.57,196.74H86.37" stroke="#444" stroke-width="0.7"/>
<circle cx="84.97" cy="195.04" r="1.5" fill="#1d3a7a"/>
<path d="M89.73,186.13V189.53M88.33,186.13H91.13M88.33,189.53H91.13" stroke="#444" stroke-width="0.7"/>
<circle cx="89.73" cy="187.83" r="1.5" fill="#1d3a7a"/>
<path d="M94.49,176.03V179.43M93.09,176.03H95.89M93.09,179.43H95.89" stroke="#444" stroke-width="0.7"/>
<circle cx="94.49" cy="177.73" r="1.5" fill="#1d3a7a"/>
<path d="M99.39,168.82V172.22M97.99,168.82H100.79M97.99,172.22H100.79" stroke="#444" stroke-width="0.7"/>
<circle cx="99.39" cy="170.52" r="1.5" fill="#1d3a7a"/>
<path d="M104.15,162.33V165.73M102.75,162.33H105.55M102.75,165.73H105.55" stroke="#444" stroke-width="0.7"/>
<circle cx="104.15" cy="164.03" r="1.5" fill="#1d3a7a"/>
<path d="M109.2,158V161.4M107.8,158H110.6M107.8,161.4H110.6" stroke="#444" stroke-width="0.7"/>
<circle cx="109.2" cy="159.7" r="1.5" fill="#1d3a7a"/>
</g>
<rect x="183.2" y="152.1" width="31.7" height="64.5" fill="#e0e0e2"/>
<text x="182.2" y="142.75" font-size="10.2" textLength="37.3" lengthAdjust="spacingAndGlyphs" fill="#1a1a1a" stroke="#1a1a1a" stroke-width="0.22">CAL-101</text>
<path d="M163.2,216.6H167.1" stroke="#262626" stroke-width="1.35"/>
<text x="149.7" y="219.45" font-size="8" textLength="10.3" lengthAdjust="spacingAndGlyphs" fill="#222" stroke="#222" stroke-width="0.22">0.0</text>
<path d="M163.2,203.7H167.1" stroke="#262626" stroke-width="1.35"/>
<text x="149.7" y="206.55" font-size="8" textLength="10.3" lengthAdjust="spacingAndGlyphs" fill="#222" stroke="#222" stroke-width="0.22">0.2</text>
<path d="M163.2,190.8H167.1" stroke="#262626" stroke-width="1.35"/>
<text x="149.7" y="193.65" font-size="8" textLength="10.3" lengthAdjust="spacingAndGlyphs" fill="#222" stroke="#222" stroke-width="0.22">0.4</text>
<path d="M163.2,177.9H167.1" stroke="#262626" stroke-width="1.35"/>
<text x="149.7" y="180.75" font-size="8" textLength="10.3" lengthAdjust="spacingAndGlyphs" fill="#222" stroke="#222" stroke-width="0.22">0.6</text>
<path d="M163.2,165H167.1" stroke="#262626" stroke-width="1.35"/>
<text x="149.7" y="167.85" font-size="8" textLength="10.3" lengthAdjust="spacingAndGlyphs" fill="#222" stroke="#222" stroke-width="0.22">0.8</text>
<path d="M163.2,152.1H167.1" stroke="#262626" stroke-width="1.35"/>
<text x="149.7" y="154.95" font-size="8" textLength="10.3" lengthAdjust="spacingAndGlyphs" fill="#222" stroke="#222" stroke-width="0.22">1.0</text>
<path d="M167.1,216.6V219.9" stroke="#262626" stroke-width="1.35"/>
<text x="161.57" y="229.8" font-size="6.8" textLength="7.5" lengthAdjust="spacingAndGlyphs" fill="#222" stroke="#222" stroke-width="0.22">10</text>
<text x="169.47" y="226.7" font-size="4.8" textLength="4.05" lengthAdjust="spacingAndGlyphs" fill="#222" stroke="#222" stroke-width="0.22">-9</text>
<path d="M183.15,216.6V219.9" stroke="#262626" stroke-width="1.35"/>
<text x="177.62" y="229.8" font-size="6.8" textLength="7.5" lengthAdjust="spacingAndGlyphs" fill="#222" stroke="#222" stroke-width="0.22">10</text>
<text x="185.52" y="226.7" font-size="4.8" textLength="4.05" lengthAdjust="spacingAndGlyphs" fill="#222" stroke="#222" stroke-width="0.22">-8</text>
<path d="M199.2,216.6V219.9" stroke="#262626" stroke-width="1.35"/>
<text x="193.67" y="229.8" font-size="6.8" textLength="7.5" lengthAdjust="spacingAndGlyphs" fill="#222" stroke="#222" stroke-width="0.22">10</text>
<text x="201.57" y="226.7" font-size="4.8" textLength="4.05" lengthAdjust="spacingAndGlyphs" fill="#222" stroke="#222" stroke-width="0.22">-7</text>
<path d="M215.25,216.6V219.9" stroke="#262626" stroke-width="1.35"/>
<text x="209.72" y="229.8" font-size="6.8" textLength="7.5" lengthAdjust="spacingAndGlyphs" fill="#222" stroke="#222" stroke-width="0.22">10</text>
<text x="217.62" y="226.7" font-size="4.8" textLength="4.05" lengthAdjust="spacingAndGlyphs" fill="#222" stroke="#222" stroke-width="0.22">-6</text>
<path d="M231.3,216.6V219.9" stroke="#262626" stroke-width="1.35"/>
<text x="225.77" y="229.8" font-size="6.8" textLength="7.5" lengthAdjust="spacingAndGlyphs" fill="#222" stroke="#222" stroke-width="0.22">10</text>
<text x="233.67" y="226.7" font-size="4.8" textLength="4.05" lengthAdjust="spacingAndGlyphs" fill="#222" stroke="#222" stroke-width="0.22">-5</text>
<path d="M167.1,148.8V216.6H234.6" fill="none" stroke="#262626" stroke-width="1.8"/>
<clipPath id="cp6"><rect x="167.8" y="146.1" width="71.5" height="70.1"/></clipPath>
<g clip-path="url(#cp6)">
<path d="M182.76,213.07 L183.5,210.31 L184.24,210.16 L184.98,210.15 L185.72,210.15 L186.46,210.15 L187.2,210.15 L187.94,210.15 L188.69,210.15 L189.43,210.15 L190.17,210.15 L190.91,210.15 L191.65,210.15 L192.39,210.15 L193.13,210.15 L193.87,210.15 L194.61,210.15 L195.35,210.15 L196.09,210.15 L196.83,210.15 L197.57,210.15 L198.31,210.15 L199.06,210.15 L199.8,210.15 L200.54,210.15 L201.28,210.15 L202.02,210.15 L202.76,210.15 L203.5,210.15 L204.24,210.15 L204.98,210.15 L205.72,210.15 L206.46,210.15 L207.2,210.15 L207.94,210.15 L208.68,210.15 L209.43,210.15 L210.17,210.15 L210.91,210.15 L211.65,210.15 L212.39,210.15 L213.13,210.15 L213.87,210.15 L214.61,210.15 L215.35,210.15 L216.09,210.15 L216.83,210.15 L217.57,210.15 L218.31,210.15 L219.05,210.15 L219.8,210.15 L220.54,210.15 L221.28,210.15 L222.02,210.15 L222.76,210.15 L223.5,210.15 L224.24,210.15 L224.98,210.15 L225.72,210.15 L226.46,210.15" fill="none" stroke="#e58d16" stroke-width="1.3"/>
<path d="M182.76,211.37V214.77M181.36,211.37H184.16M181.36,214.77H184.16" stroke="#444" stroke-width="0.7"/>
<circle cx="182.76" cy="213.07" r="1.5" fill="#e58d16"/>
<path d="M187.81,207.47V210.87M186.41,207.47H189.21M186.41,210.87H189.21" stroke="#444" stroke-width="0.7"/>
<circle cx="187.81" cy="209.17" r="1.5" fill="#e58d16"/>
<path d="M192.57,209.2V212.6M191.17,209.2H193.97M191.17,212.6H193.97" stroke="#444" stroke-width="0.7"/>
<circle cx="192.57" cy="210.9" r="1.5" fill="#e58d16"/>
<path d="M197.62,209.2V212.6M196.22,209.2H199.02M196.22,212.6H199.02" stroke="#444" stroke-width="0.7"/>
<circle cx="197.62" cy="210.9" r="1.5" fill="#e58d16"/>
<path d="M202.23,209.2V212.6M200.83,209.2H203.63M200.83,212.6H203.63" stroke="#444" stroke-width="0.7"/>
<circle cx="202.23" cy="210.9" r="1.5" fill="#e58d16"/>
<path d="M206.99,208.92V212.32M205.59,208.92H208.39M205.59,212.32H208.39" stroke="#444" stroke-width="0.7"/>
<circle cx="206.99" cy="210.62" r="1.5" fill="#e58d16"/>
<path d="M211.75,208.48V211.88M210.35,208.48H213.15M210.35,211.88H213.15" stroke="#444" stroke-width="0.7"/>
<circle cx="211.75" cy="210.18" r="1.5" fill="#e58d16"/>
<path d="M216.65,203.87V209.87M215.25,203.87H218.05M215.25,209.87H218.05" stroke="#444" stroke-width="0.7"/>
<circle cx="216.65" cy="206.87" r="1.5" fill="#e58d16"/>
<path d="M221.41,207.76V211.16M220.01,207.76H222.81M220.01,211.16H222.81" stroke="#444" stroke-width="0.7"/>
<circle cx="221.41" cy="209.46" r="1.5" fill="#e58d16"/>
<path d="M226.46,209.35V215.35M225.06,209.35H227.86M225.06,215.35H227.86" stroke="#444" stroke-width="0.7"/>
<circle cx="226.46" cy="212.35" r="1.5" fill="#e58d16"/>
<path d="M187.81,204.95 L188.46,204.82 L189.12,204.69 L189.77,204.55 L190.43,204.41 L191.08,204.26 L191.74,204.1 L192.39,203.93 L193.05,203.76 L193.7,203.58 L194.36,203.39 L195.01,203.19 L195.67,202.98 L196.32,202.76 L196.98,202.53 L197.63,202.29 L198.29,202.04 L198.95,201.77 L199.6,201.49 L200.26,201.2 L200.91,200.9 L201.57,200.58 L202.22,200.25 L202.88,199.9 L203.53,199.53 L204.19,199.14 L204.84,198.74 L205.5,198.32 L206.15,197.88 L206.81,197.41 L207.46,196.93 L208.12,196.42 L208.77,195.89 L209.43,195.33 L210.08,194.74 L210.74,194.13 L211.39,193.49 L212.05,192.81 L212.7,192.11 L213.36,191.37 L214.01,190.59 L214.67,189.78 L215.32,188.93 L215.98,188.04 L216.63,187.1 L217.29,186.12 L217.94,185.1 L218.6,184.02 L219.25,182.9 L219.91,181.72 L220.57,180.48 L221.22,179.19 L221.88,177.83 L222.53,176.41 L223.19,174.92 L223.84,173.35 L224.5,171.72 L225.15,170 L225.81,168.2 L226.46,166.32" fill="none" stroke="#1d3a7a" stroke-width="1.3"/>
<path d="M187.81,196.85V212.85M186.41,196.85H189.21M186.41,212.85H189.21" stroke="#444" stroke-width="0.7"/>
<circle cx="187.81" cy="204.85" r="1.5" fill="#1d3a7a"/>
<path d="M195.88,198.29V209.09M194.48,198.29H197.28M194.48,209.09H197.28" stroke="#444" stroke-width="0.7"/>
<circle cx="195.88" cy="203.69" r="1.5" fill="#1d3a7a"/>
<path d="M203.38,192.84V204.44M201.98,192.84H204.78M201.98,204.44H204.78" stroke="#444" stroke-width="0.7"/>
<circle cx="203.38" cy="198.64" r="1.5" fill="#1d3a7a"/>
<path d="M211.32,188.2V199M209.92,188.2H212.72M209.92,199H212.72" stroke="#444" stroke-width="0.7"/>
<circle cx="211.32" cy="193.6" r="1.5" fill="#1d3a7a"/>
<path d="M218.96,177.29V190.29M217.56,177.29H220.36M217.56,190.29H220.36" stroke="#444" stroke-width="0.7"/>
<circle cx="218.96" cy="183.79" r="1.5" fill="#1d3a7a"/>
<path d="M226.46,164.49V167.89M225.06,164.49H227.86M225.06,167.89H227.86" stroke="#444" stroke-width="0.7"/>
<circle cx="226.46" cy="166.19" r="1.5" fill="#1d3a7a"/>
<path d="M182.76,200.06 L183.5,199.51 L184.24,198.97 L184.98,198.42 L185.72,197.87 L186.46,197.32 L187.2,196.76 L187.94,196.2 L188.69,195.63 L189.43,195.06 L190.17,194.49 L190.91,193.92 L191.65,193.34 L192.39,192.75 L193.13,192.17 L193.87,191.58 L194.61,190.98 L195.35,190.38 L196.09,189.78 L196.83,189.18 L197.57,188.57 L198.31,187.96 L199.06,187.34 L199.8,186.72 L200.54,186.1 L201.28,185.47 L202.02,184.83 L202.76,184.2 L203.5,183.56 L204.24,182.91 L204.98,182.27 L205.72,181.61 L206.46,180.96 L207.2,180.3 L207.94,179.63 L208.68,178.97 L209.43,178.29 L210.17,177.62 L210.91,176.93 L211.65,176.25 L212.39,175.56 L213.13,174.86 L213.87,174.17 L214.61,173.46 L215.35,172.76 L216.09,172.04 L216.83,171.33 L217.57,170.61 L218.31,169.88 L219.05,169.15 L219.8,168.42 L220.54,167.68 L221.28,166.94 L222.02,166.19 L222.76,165.44 L223.5,164.68 L224.24,163.92 L224.98,163.15 L225.72,162.38 L226.46,161.6" fill="none" stroke="#8a7cc6" stroke-width="1.3"/>
<path d="M182.76,198.82V202.22M181.36,198.82H184.16M181.36,202.22H184.16" stroke="#444" stroke-width="0.7"/>
<circle cx="182.76" cy="200.52" r="1.5" fill="#8a7cc6"/>
<path d="M187.81,194.06V197.46M186.41,194.06H189.21M186.41,197.46H189.21" stroke="#444" stroke-width="0.7"/>
<circle cx="187.81" cy="195.76" r="1.5" fill="#8a7cc6"/>
<path d="M192.57,191.18V194.57M191.17,191.18H193.97M191.17,194.57H193.97" stroke="#444" stroke-width="0.7"/>
<circle cx="192.57" cy="192.88" r="1.5" fill="#8a7cc6"/>
<path d="M197.62,186.85V190.25M196.22,186.85H199.02M196.22,190.25H199.02" stroke="#444" stroke-width="0.7"/>
<circle cx="197.62" cy="188.55" r="1.5" fill="#8a7cc6"/>
<path d="M202.23,182.09V185.49M200.83,182.09H203.63M200.83,185.49H203.63" stroke="#444" stroke-width="0.7"/>
<circle cx="202.23" cy="183.79" r="1.5" fill="#8a7cc6"/>
<path d="M206.99,178.92V182.32M205.59,178.92H208.39M205.59,182.32H208.39" stroke="#444" stroke-width="0.7"/>
<circle cx="206.99" cy="180.62" r="1.5" fill="#8a7cc6"/>
<path d="M211.75,174.59V177.99M210.35,174.59H213.15M210.35,177.99H213.15" stroke="#444" stroke-width="0.7"/>
<circle cx="211.75" cy="176.29" r="1.5" fill="#8a7cc6"/>
<path d="M216.65,170.55V173.95M215.25,170.55H218.05M215.25,173.95H218.05" stroke="#444" stroke-width="0.7"/>
<circle cx="216.65" cy="172.25" r="1.5" fill="#8a7cc6"/>
<path d="M221.41,165.21V168.61M220.01,165.21H222.81M220.01,168.61H222.81" stroke="#444" stroke-width="0.7"/>
<circle cx="221.41" cy="166.91" r="1.5" fill="#8a7cc6"/>
<path d="M226.46,159.44V162.84M225.06,159.44H227.86M225.06,162.84H227.86" stroke="#444" stroke-width="0.7"/>
<circle cx="226.46" cy="161.14" r="1.5" fill="#8a7cc6"/>
<path d="M182.76,194.82 L183.5,194.09 L184.24,193.37 L184.98,192.67 L185.72,191.98 L186.46,191.3 L187.2,190.64 L187.94,189.99 L188.69,189.35 L189.43,188.73 L190.17,188.12 L190.91,187.52 L191.65,186.93 L192.39,186.36 L193.13,185.79 L193.87,185.24 L194.61,184.7 L195.35,184.16 L196.09,183.64 L196.83,183.13 L197.57,182.63 L198.31,182.14 L199.06,181.66 L199.8,181.19 L200.54,180.73 L201.28,180.28 L202.02,179.84 L202.76,179.4 L203.5,178.98 L204.24,178.56 L204.98,178.15 L205.72,177.75 L206.46,177.36 L207.2,176.97 L207.94,176.6 L208.68,176.23 L209.43,175.87 L210.17,175.51 L210.91,175.16 L211.65,174.82 L212.39,174.49 L213.13,174.16 L213.87,173.84 L214.61,173.53 L215.35,173.22 L216.09,172.92 L216.83,172.62 L217.57,172.33 L218.31,172.05 L219.05,171.77 L219.8,171.5 L220.54,171.23 L221.28,170.97 L222.02,170.71 L222.76,170.46 L223.5,170.22 L224.24,169.97 L224.98,169.74 L225.72,169.51 L226.46,169.28" fill="none" stroke="#5aaae6" stroke-width="1.3"/>
<path d="M182.76,193.34V196.74M181.36,193.34H184.16M181.36,196.74H184.16" stroke="#444" stroke-width="0.7"/>
<circle cx="182.76" cy="195.04" r="1.5" fill="#5aaae6"/>
<path d="M187.81,187.57V190.97M186.41,187.57H189.21M186.41,190.97H189.21" stroke="#444" stroke-width="0.7"/>
<circle cx="187.81" cy="189.27" r="1.5" fill="#5aaae6"/>
<path d="M192.57,185.41V188.81M191.17,185.41H193.97M191.17,188.81H193.97" stroke="#444" stroke-width="0.7"/>
<circle cx="192.57" cy="187.11" r="1.5" fill="#5aaae6"/>
<path d="M197.62,181.08V184.48M196.22,181.08H199.02M196.22,184.48H199.02" stroke="#444" stroke-width="0.7"/>
<circle cx="197.62" cy="182.78" r="1.5" fill="#5aaae6"/>
<path d="M202.23,177.47V180.87M200.83,177.47H203.63M200.83,180.87H203.63" stroke="#444" stroke-width="0.7"/>
<circle cx="202.23" cy="179.17" r="1.5" fill="#5aaae6"/>
<path d="M206.99,175.31V178.71M205.59,175.31H208.39M205.59,178.71H208.39" stroke="#444" stroke-width="0.7"/>
<circle cx="206.99" cy="177.01" r="1.5" fill="#5aaae6"/>
<path d="M211.75,173.15V176.55M210.35,173.15H213.15M210.35,176.55H213.15" stroke="#444" stroke-width="0.7"/>
<circle cx="211.75" cy="174.85" r="1.5" fill="#5aaae6"/>
<path d="M216.65,170.98V174.38M215.25,170.98H218.05M215.25,174.38H218.05" stroke="#444" stroke-width="0.7"/>
<circle cx="216.65" cy="172.68" r="1.5" fill="#5aaae6"/>
<path d="M221.41,169.54V172.94M220.01,169.54H222.81M220.01,172.94H222.81" stroke="#444" stroke-width="0.7"/>
<circle cx="221.41" cy="171.24" r="1.5" fill="#5aaae6"/>
<path d="M226.46,167.38V170.78M225.06,167.38H227.86M225.06,170.78H227.86" stroke="#444" stroke-width="0.7"/>
<circle cx="226.46" cy="169.08" r="1.5" fill="#5aaae6"/>
</g>
<rect x="291.2" y="152.1" width="11.7" height="64.5" fill="#e0e0e2"/>
<text x="288.7" y="142.75" font-size="10.2" textLength="36.3" lengthAdjust="spacingAndGlyphs" fill="#1a1a1a" stroke="#1a1a1a" stroke-width="0.22">MK2206</text>
<path d="M269.2,216.6H273.1" stroke="#262626" stroke-width="1.35"/>
<text x="255.7" y="219.45" font-size="8" textLength="10.3" lengthAdjust="spacingAndGlyphs" fill="#222" stroke="#222" stroke-width="0.22">0.0</text>
<path d="M269.2,203.7H273.1" stroke="#262626" stroke-width="1.35"/>
<text x="255.7" y="206.55" font-size="8" textLength="10.3" lengthAdjust="spacingAndGlyphs" fill="#222" stroke="#222" stroke-width="0.22">0.2</text>
<path d="M269.2,190.8H273.1" stroke="#262626" stroke-width="1.35"/>
<text x="255.7" y="193.65" font-size="8" textLength="10.3" lengthAdjust="spacingAndGlyphs" fill="#222" stroke="#222" stroke-width="0.22">0.4</text>
<path d="M269.2,177.9H273.1" stroke="#262626" stroke-width="1.35"/>
<text x="255.7" y="180.75" font-size="8" textLength="10.3" lengthAdjust="spacingAndGlyphs" fill="#222" stroke="#222" stroke-width="0.22">0.6</text>
<path d="M269.2,165H273.1" stroke="#262626" stroke-width="1.35"/>
<text x="255.7" y="167.85" font-size="8" textLength="10.3" lengthAdjust="spacingAndGlyphs" fill="#222" stroke="#222" stroke-width="0.22">0.8</text>
<path d="M269.2,152.1H273.1" stroke="#262626" stroke-width="1.35"/>
<text x="255.7" y="154.95" font-size="8" textLength="10.3" lengthAdjust="spacingAndGlyphs" fill="#222" stroke="#222" stroke-width="0.22">1.0</text>
<path d="M273.1,216.6V219.9" stroke="#262626" stroke-width="1.35"/>
<text x="267.57" y="229.8" font-size="6.8" textLength="7.5" lengthAdjust="spacingAndGlyphs" fill="#222" stroke="#222" stroke-width="0.22">10</text>
<text x="275.47" y="226.7" font-size="4.8" textLength="4.05" lengthAdjust="spacingAndGlyphs" fill="#222" stroke="#222" stroke-width="0.22">-8</text>
<path d="M294.5,216.6V219.9" stroke="#262626" stroke-width="1.35"/>
<text x="288.97" y="229.8" font-size="6.8" textLength="7.5" lengthAdjust="spacingAndGlyphs" fill="#222" stroke="#222" stroke-width="0.22">10</text>
<text x="296.87" y="226.7" font-size="4.8" textLength="4.05" lengthAdjust="spacingAndGlyphs" fill="#222" stroke="#222" stroke-width="0.22">-7</text>
<path d="M315.9,216.6V219.9" stroke="#262626" stroke-width="1.35"/>
<text x="310.37" y="229.8" font-size="6.8" textLength="7.5" lengthAdjust="spacingAndGlyphs" fill="#222" stroke="#222" stroke-width="0.22">10</text>
<text x="318.27" y="226.7" font-size="4.8" textLength="4.05" lengthAdjust="spacingAndGlyphs" fill="#222" stroke="#222" stroke-width="0.22">-6</text>
<path d="M337.3,216.6V219.9" stroke="#262626" stroke-width="1.35"/>
<text x="331.77" y="229.8" font-size="6.8" textLength="7.5" lengthAdjust="spacingAndGlyphs" fill="#222" stroke="#222" stroke-width="0.22">10</text>
<text x="339.67" y="226.7" font-size="4.8" textLength="4.05" lengthAdjust="spacingAndGlyphs" fill="#222" stroke="#222" stroke-width="0.22">-5</text>
<path d="M273.1,148.8V216.6H340.6" fill="none" stroke="#262626" stroke-width="1.8"/>
<clipPath id="cp7"><rect x="273.8" y="146.1" width="71.5" height="70.1"/></clipPath>
<g clip-path="url(#cp7)">
<path d="M285.58,213.79 L286.34,213.72 L287.1,213.65 L287.87,213.57 L288.63,213.48 L289.39,213.4 L290.15,213.3 L290.92,213.2 L291.68,213.1 L292.44,212.99 L293.2,212.87 L293.97,212.75 L294.73,212.62 L295.49,212.48 L296.25,212.33 L297.02,212.18 L297.78,212.01 L298.54,211.84 L299.31,211.65 L300.07,211.46 L300.83,211.25 L301.59,211.03 L302.36,210.8 L303.12,210.56 L303.88,210.3 L304.64,210.03 L305.41,209.74 L306.17,209.43 L306.93,209.11 L307.7,208.77 L308.46,208.4 L309.22,208.02 L309.98,207.61 L310.75,207.18 L311.51,206.73 L312.27,206.25 L313.03,205.74 L313.8,205.2 L314.56,204.63 L315.32,204.03 L316.09,203.39 L316.85,202.72 L317.61,202 L318.37,201.25 L319.14,200.45 L319.9,199.6 L320.66,198.7 L321.42,197.75 L322.19,196.75 L322.95,195.69 L323.71,194.57 L324.48,193.38 L325.24,192.12 L326,190.79 L326.76,189.38 L327.53,187.89 L328.29,186.32 L329.05,184.65 L329.81,182.88 L330.58,181.02" fill="none" stroke="#8a7cc6" stroke-width="1.3"/>
<path d="M285.58,212.09V215.49M284.18,212.09H286.98M284.18,215.49H286.98" stroke="#444" stroke-width="0.7"/>
<circle cx="285.58" cy="213.79" r="1.5" fill="#8a7cc6"/>
<path d="M292.07,212.81V216.21M290.67,212.81H293.47M290.67,216.21H293.47" stroke="#444" stroke-width="0.7"/>
<circle cx="292.07" cy="214.51" r="1.5" fill="#8a7cc6"/>
<path d="M298.56,209.2V212.6M297.16,209.2H299.96M297.16,212.6H299.96" stroke="#444" stroke-width="0.7"/>
<circle cx="298.56" cy="210.9" r="1.5" fill="#8a7cc6"/>
<path d="M304.9,207.04V210.44M303.5,207.04H306.3M303.5,210.44H306.3" stroke="#444" stroke-width="0.7"/>
<circle cx="304.9" cy="208.74" r="1.5" fill="#8a7cc6"/>
<path d="M311.39,205.6V209M309.99,205.6H312.79M309.99,209H312.79" stroke="#444" stroke-width="0.7"/>
<circle cx="311.39" cy="207.3" r="1.5" fill="#8a7cc6"/>
<path d="M317.6,199.83V203.23M316.2,199.83H319M316.2,203.23H319" stroke="#444" stroke-width="0.7"/>
<circle cx="317.6" cy="201.53" r="1.5" fill="#8a7cc6"/>
<path d="M324.09,193.34V196.74M322.69,193.34H325.49M322.69,196.74H325.49" stroke="#444" stroke-width="0.7"/>
<circle cx="324.09" cy="195.04" r="1.5" fill="#8a7cc6"/>
<path d="M330.58,178.92V182.32M329.18,178.92H331.98M329.18,182.32H331.98" stroke="#444" stroke-width="0.7"/>
<circle cx="330.58" cy="180.62" r="1.5" fill="#8a7cc6"/>
<path d="M285.58,210.42 L286.34,210.4 L287.1,210.37 L287.87,210.34 L288.63,210.32 L289.39,210.29 L290.15,210.25 L290.92,210.22 L291.68,210.18 L292.44,210.14 L293.2,210.09 L293.97,210.04 L294.73,209.99 L295.49,209.93 L296.25,209.87 L297.02,209.81 L297.78,209.74 L298.54,209.66 L299.31,209.58 L300.07,209.49 L300.83,209.39 L301.59,209.28 L302.36,209.17 L303.12,209.05 L303.88,208.92 L304.64,208.78 L305.41,208.62 L306.17,208.46 L306.93,208.28 L307.7,208.09 L308.46,207.88 L309.22,207.66 L309.98,207.41 L310.75,207.15 L311.51,206.87 L312.27,206.56 L313.03,206.24 L313.8,205.88 L314.56,205.5 L315.32,205.08 L316.09,204.64 L316.85,204.15 L317.61,203.63 L318.37,203.07 L319.14,202.46 L319.9,201.81 L320.66,201.1 L321.42,200.34 L322.19,199.51 L322.95,198.62 L323.71,197.66 L324.48,196.62 L325.24,195.5 L326,194.3 L326.76,192.99 L327.53,191.58 L328.29,190.06 L329.05,188.42 L329.81,186.65 L330.58,184.74" fill="none" stroke="#e58d16" stroke-width="1.3"/>
<path d="M285.58,210.65V214.05M284.18,210.65H286.98M284.18,214.05H286.98" stroke="#444" stroke-width="0.7"/>
<circle cx="285.58" cy="212.35" r="1.5" fill="#e58d16"/>
<path d="M292.07,207.76V211.16M290.67,207.76H293.47M290.67,211.16H293.47" stroke="#444" stroke-width="0.7"/>
<circle cx="292.07" cy="209.46" r="1.5" fill="#e58d16"/>
<path d="M298.56,207.47V210.87M297.16,207.47H299.96M297.16,210.87H299.96" stroke="#444" stroke-width="0.7"/>
<circle cx="298.56" cy="209.17" r="1.5" fill="#e58d16"/>
<path d="M304.9,207.04V210.44M303.5,207.04H306.3M303.5,210.44H306.3" stroke="#444" stroke-width="0.7"/>
<circle cx="304.9" cy="208.74" r="1.5" fill="#e58d16"/>
<path d="M311.39,203.43V206.83M309.99,203.43H312.79M309.99,206.83H312.79" stroke="#444" stroke-width="0.7"/>
<circle cx="311.39" cy="205.13" r="1.5" fill="#e58d16"/>
<path d="M317.6,201.99V205.39M316.2,201.99H319M316.2,205.39H319" stroke="#444" stroke-width="0.7"/>
<circle cx="317.6" cy="203.69" r="1.5" fill="#e58d16"/>
<path d="M324.09,196.94V200.34M322.69,196.94H325.49M322.69,200.34H325.49" stroke="#444" stroke-width="0.7"/>
<circle cx="324.09" cy="198.64" r="1.5" fill="#e58d16"/>
<path d="M330.58,182.52V185.92M329.18,182.52H331.98M329.18,185.92H331.98" stroke="#444" stroke-width="0.7"/>
<circle cx="330.58" cy="184.22" r="1.5" fill="#e58d16"/>
<path d="M285.58,205.47 L286.34,205.38 L287.1,205.3 L287.87,205.21 L288.63,205.11 L289.39,205.01 L290.15,204.9 L290.92,204.79 L291.68,204.68 L292.44,204.56 L293.2,204.43 L293.97,204.3 L294.73,204.16 L295.49,204.01 L296.25,203.86 L297.02,203.7 L297.78,203.53 L298.54,203.36 L299.31,203.18 L300.07,202.98 L300.83,202.78 L301.59,202.58 L302.36,202.36 L303.12,202.13 L303.88,201.89 L304.64,201.64 L305.41,201.38 L306.17,201.11 L306.93,200.82 L307.7,200.53 L308.46,200.22 L309.22,199.9 L309.98,199.56 L310.75,199.21 L311.51,198.84 L312.27,198.46 L313.03,198.06 L313.8,197.65 L314.56,197.21 L315.32,196.77 L316.09,196.3 L316.85,195.81 L317.61,195.31 L318.37,194.78 L319.14,194.24 L319.9,193.67 L320.66,193.08 L321.42,192.47 L322.19,191.84 L322.95,191.19 L323.71,190.51 L324.48,189.81 L325.24,189.08 L326,188.33 L326.76,187.55 L327.53,186.75 L328.29,185.92 L329.05,185.07 L329.81,184.19 L330.58,183.29" fill="none" stroke="#5aaae6" stroke-width="1.3"/>
<path d="M285.58,204.16V207.56M284.18,204.16H286.98M284.18,207.56H286.98" stroke="#444" stroke-width="0.7"/>
<circle cx="285.58" cy="205.86" r="1.5" fill="#5aaae6"/>
<path d="M292.07,202.71V206.11M290.67,202.71H293.47M290.67,206.11H293.47" stroke="#444" stroke-width="0.7"/>
<circle cx="292.07" cy="204.41" r="1.5" fill="#5aaae6"/>
<path d="M298.56,201.27V204.67M297.16,201.27H299.96M297.16,204.67H299.96" stroke="#444" stroke-width="0.7"/>
<circle cx="298.56" cy="202.97" r="1.5" fill="#5aaae6"/>
<path d="M304.9,199.83V203.23M303.5,199.83H306.3M303.5,203.23H306.3" stroke="#444" stroke-width="0.7"/>
<circle cx="304.9" cy="201.53" r="1.5" fill="#5aaae6"/>
<path d="M311.39,196.94V200.34M309.99,196.94H312.79M309.99,200.34H312.79" stroke="#444" stroke-width="0.7"/>
<circle cx="311.39" cy="198.64" r="1.5" fill="#5aaae6"/>
<path d="M317.6,194.78V198.18M316.2,194.78H319M316.2,198.18H319" stroke="#444" stroke-width="0.7"/>
<circle cx="317.6" cy="196.48" r="1.5" fill="#5aaae6"/>
<path d="M324.09,187.57V190.97M322.69,187.57H325.49M322.69,190.97H325.49" stroke="#444" stroke-width="0.7"/>
<circle cx="324.09" cy="189.27" r="1.5" fill="#5aaae6"/>
<path d="M330.58,181.8V185.2M329.18,181.8H331.98M329.18,185.2H331.98" stroke="#444" stroke-width="0.7"/>
<circle cx="330.58" cy="183.5" r="1.5" fill="#5aaae6"/>
<path d="M285.58,206.24 L286.34,206.15 L287.1,206.05 L287.87,205.94 L288.63,205.83 L289.39,205.7 L290.15,205.57 L290.92,205.42 L291.68,205.27 L292.44,205.1 L293.2,204.92 L293.97,204.73 L294.73,204.52 L295.49,204.29 L296.25,204.05 L297.02,203.8 L297.78,203.52 L298.54,203.23 L299.31,202.91 L300.07,202.57 L300.83,202.21 L301.59,201.82 L302.36,201.41 L303.12,200.97 L303.88,200.5 L304.64,200 L305.41,199.47 L306.17,198.91 L306.93,198.31 L307.7,197.68 L308.46,197.01 L309.22,196.31 L309.98,195.56 L310.75,194.78 L311.51,193.96 L312.27,193.1 L313.03,192.2 L313.8,191.26 L314.56,190.29 L315.32,189.27 L316.09,188.21 L316.85,187.12 L317.61,186 L318.37,184.84 L319.14,183.65 L319.9,182.43 L320.66,181.19 L321.42,179.93 L322.19,178.65 L322.95,177.35 L323.71,176.04 L324.48,174.72 L325.24,173.4 L326,172.08 L326.76,170.76 L327.53,169.45 L328.29,168.16 L329.05,166.88 L329.81,165.61 L330.58,164.38" fill="none" stroke="#1d3a7a" stroke-width="1.3"/>
<path d="M285.58,205.17V208.57M284.18,205.17H286.98M284.18,208.57H286.98" stroke="#444" stroke-width="0.7"/>
<circle cx="285.58" cy="206.87" r="1.5" fill="#1d3a7a"/>
<path d="M292.07,203.43V206.83M290.67,203.43H293.47M290.67,206.83H293.47" stroke="#444" stroke-width="0.7"/>
<circle cx="292.07" cy="205.13" r="1.5" fill="#1d3a7a"/>
<path d="M298.56,200.55V203.95M297.16,200.55H299.96M297.16,203.95H299.96" stroke="#444" stroke-width="0.7"/>
<circle cx="298.56" cy="202.25" r="1.5" fill="#1d3a7a"/>
<path d="M304.9,197.09V203.09M303.5,197.09H306.3M303.5,203.09H306.3" stroke="#444" stroke-width="0.7"/>
<circle cx="304.9" cy="200.09" r="1.5" fill="#1d3a7a"/>
<path d="M311.39,189.3V197.9M309.99,189.3H312.79M309.99,197.9H312.79" stroke="#444" stroke-width="0.7"/>
<circle cx="311.39" cy="193.6" r="1.5" fill="#1d3a7a"/>
<path d="M317.6,182.84V192.24M316.2,182.84H319M316.2,192.24H319" stroke="#444" stroke-width="0.7"/>
<circle cx="317.6" cy="187.54" r="1.5" fill="#1d3a7a"/>
<path d="M324.09,168.72V179.53M322.69,168.72H325.49M322.69,179.53H325.49" stroke="#444" stroke-width="0.7"/>
<circle cx="324.09" cy="174.12" r="1.5" fill="#1d3a7a"/>
<path d="M330.58,161.15V168.35M329.18,161.15H331.98M329.18,168.35H331.98" stroke="#444" stroke-width="0.7"/>
<circle cx="330.58" cy="164.75" r="1.5" fill="#1d3a7a"/>
</g>
<rect x="391.1" y="152.1" width="10.6" height="64.5" fill="#e0e0e2"/>
<text x="380.75" y="142.75" font-size="10.2" textLength="64.2" lengthAdjust="spacingAndGlyphs" fill="#1a1a1a" stroke="#1a1a1a" stroke-width="0.22">Compound 26</text>
<path d="M375.2,216.6H379.1" stroke="#262626" stroke-width="1.35"/>
<text x="361.7" y="219.45" font-size="8" textLength="10.3" lengthAdjust="spacingAndGlyphs" fill="#222" stroke="#222" stroke-width="0.22">0.0</text>
<path d="M375.2,203.7H379.1" stroke="#262626" stroke-width="1.35"/>
<text x="361.7" y="206.55" font-size="8" textLength="10.3" lengthAdjust="spacingAndGlyphs" fill="#222" stroke="#222" stroke-width="0.22">0.2</text>
<path d="M375.2,190.8H379.1" stroke="#262626" stroke-width="1.35"/>
<text x="361.7" y="193.65" font-size="8" textLength="10.3" lengthAdjust="spacingAndGlyphs" fill="#222" stroke="#222" stroke-width="0.22">0.4</text>
<path d="M375.2,177.9H379.1" stroke="#262626" stroke-width="1.35"/>
<text x="361.7" y="180.75" font-size="8" textLength="10.3" lengthAdjust="spacingAndGlyphs" fill="#222" stroke="#222" stroke-width="0.22">0.6</text>
<path d="M375.2,165H379.1" stroke="#262626" stroke-width="1.35"/>
<text x="361.7" y="167.85" font-size="8" textLength="10.3" lengthAdjust="spacingAndGlyphs" fill="#222" stroke="#222" stroke-width="0.22">0.8</text>
<path d="M375.2,152.1H379.1" stroke="#262626" stroke-width="1.35"/>
<text x="361.7" y="154.95" font-size="8" textLength="10.3" lengthAdjust="spacingAndGlyphs" fill="#222" stroke="#222" stroke-width="0.22">1.0</text>
<path d="M379.1,216.6V219.9" stroke="#262626" stroke-width="1.35"/>
<text x="373.57" y="229.8" font-size="6.8" textLength="7.5" lengthAdjust="spacingAndGlyphs" fill="#222" stroke="#222" stroke-width="0.22">10</text>
<text x="381.47" y="226.7" font-size="4.8" textLength="4.05" lengthAdjust="spacingAndGlyphs" fill="#222" stroke="#222" stroke-width="0.22">-8</text>
<path d="M395.15,216.6V219.9" stroke="#262626" stroke-width="1.35"/>
<text x="389.62" y="229.8" font-size="6.8" textLength="7.5" lengthAdjust="spacingAndGlyphs" fill="#222" stroke="#222" stroke-width="0.22">10</text>
<text x="397.52" y="226.7" font-size="4.8" textLength="4.05" lengthAdjust="spacingAndGlyphs" fill="#222" stroke="#222" stroke-width="0.22">-7</text>
<path d="M411.2,216.6V219.9" stroke="#262626" stroke-width="1.35"/>
<text x="405.67" y="229.8" font-size="6.8" textLength="7.5" lengthAdjust="spacingAndGlyphs" fill="#222" stroke="#222" stroke-width="0.22">10</text>
<text x="413.57" y="226.7" font-size="4.8" textLength="4.05" lengthAdjust="spacingAndGlyphs" fill="#222" stroke="#222" stroke-width="0.22">-6</text>
<path d="M427.25,216.6V219.9" stroke="#262626" stroke-width="1.35"/>
<text x="421.72" y="229.8" font-size="6.8" textLength="7.5" lengthAdjust="spacingAndGlyphs" fill="#222" stroke="#222" stroke-width="0.22">10</text>
<text x="429.62" y="226.7" font-size="4.8" textLength="4.05" lengthAdjust="spacingAndGlyphs" fill="#222" stroke="#222" stroke-width="0.22">-5</text>
<path d="M443.3,216.6V219.9" stroke="#262626" stroke-width="1.35"/>
<text x="437.77" y="229.8" font-size="6.8" textLength="7.5" lengthAdjust="spacingAndGlyphs" fill="#222" stroke="#222" stroke-width="0.22">10</text>
<text x="445.67" y="226.7" font-size="4.8" textLength="4.05" lengthAdjust="spacingAndGlyphs" fill="#222" stroke="#222" stroke-width="0.22">-4</text>
<path d="M379.1,148.8V216.6H446.6" fill="none" stroke="#262626" stroke-width="1.8"/>
<clipPath id="cp8"><rect x="379.8" y="146.1" width="71.5" height="70.1"/></clipPath>
<g clip-path="url(#cp8)">
<path d="M383.21,213.69 L383.96,213.69 L384.7,213.68 L385.45,213.68 L386.19,213.67 L386.94,213.66 L387.69,213.66 L388.43,213.65 L389.18,213.63 L389.92,213.62 L390.67,213.6 L391.41,213.58 L392.16,213.55 L392.9,213.52 L393.65,213.49 L394.4,213.45 L395.14,213.39 L395.89,213.33 L396.63,213.26 L397.38,213.18 L398.12,213.07 L398.87,212.95 L399.61,212.8 L400.36,212.63 L401.11,212.43 L401.85,212.18 L402.6,211.89 L403.34,211.55 L404.09,211.15 L404.83,210.68 L405.58,210.12 L406.33,209.46 L407.07,208.7 L407.82,207.81 L408.56,206.78 L409.31,205.6 L410.05,204.24 L410.8,202.7 L411.54,200.96 L412.29,199.01 L413.04,196.87 L413.78,194.51 L414.53,191.98 L415.27,189.27 L416.02,186.42 L416.76,183.47 L417.51,180.46 L418.25,177.44 L419,174.45 L419.75,171.54 L420.49,168.75 L421.24,166.12 L421.98,163.66 L422.73,161.4 L423.47,159.34 L424.22,157.49 L424.97,155.84 L425.71,154.38 L426.46,153.1 L427.2,151.99" fill="none" stroke="#1d3a7a" stroke-width="1.3"/>
<path d="M383.21,210.65V214.05M381.81,210.65H384.61M381.81,214.05H384.61" stroke="#444" stroke-width="0.7"/>
<circle cx="383.21" cy="212.35" r="1.5" fill="#1d3a7a"/>
<path d="M388.26,211.8V215.2M386.86,211.8H389.66M386.86,215.2H389.66" stroke="#444" stroke-width="0.7"/>
<circle cx="388.26" cy="213.5" r="1.5" fill="#1d3a7a"/>
<path d="M393.02,212.81V216.21M391.62,212.81H394.42M391.62,216.21H394.42" stroke="#444" stroke-width="0.7"/>
<circle cx="393.02" cy="214.51" r="1.5" fill="#1d3a7a"/>
<path d="M397.92,212.09V215.49M396.52,212.09H399.32M396.52,215.49H399.32" stroke="#444" stroke-width="0.7"/>
<circle cx="397.92" cy="213.79" r="1.5" fill="#1d3a7a"/>
<path d="M402.68,210.65V214.05M401.28,210.65H404.08M401.28,214.05H404.08" stroke="#444" stroke-width="0.7"/>
<circle cx="402.68" cy="212.35" r="1.5" fill="#1d3a7a"/>
<path d="M407.44,206.61V210.01M406.04,206.61H408.84M406.04,210.01H408.84" stroke="#444" stroke-width="0.7"/>
<circle cx="407.44" cy="208.31" r="1.5" fill="#1d3a7a"/>
<path d="M412.35,195.07V198.47M410.95,195.07H413.75M410.95,198.47H413.75" stroke="#444" stroke-width="0.7"/>
<circle cx="412.35" cy="196.77" r="1.5" fill="#1d3a7a"/>
<path d="M417.39,177.29V190.29M415.99,177.29H418.79M415.99,190.29H418.79" stroke="#444" stroke-width="0.7"/>
<circle cx="417.39" cy="183.79" r="1.5" fill="#1d3a7a"/>
<path d="M422.15,157.71V163.71M420.75,157.71H423.55M420.75,163.71H423.55" stroke="#444" stroke-width="0.7"/>
<circle cx="422.15" cy="160.71" r="1.5" fill="#1d3a7a"/>
<path d="M427.2,151.22V154.62M425.8,151.22H428.6M425.8,154.62H428.6" stroke="#444" stroke-width="0.7"/>
<circle cx="427.2" cy="152.92" r="1.5" fill="#1d3a7a"/>
<path d="M383.21,203.24 L383.96,203.06 L384.7,202.87 L385.45,202.65 L386.19,202.4 L386.94,202.12 L387.69,201.8 L388.43,201.45 L389.18,201.05 L389.92,200.61 L390.67,200.12 L391.41,199.57 L392.16,198.96 L392.9,198.29 L393.65,197.54 L394.4,196.73 L395.14,195.83 L395.89,194.86 L396.63,193.8 L397.38,192.66 L398.12,191.43 L398.87,190.12 L399.61,188.73 L400.36,187.27 L401.11,185.74 L401.85,184.14 L402.6,182.5 L403.34,180.83 L404.09,179.12 L404.83,177.41 L405.58,175.69 L406.33,174 L407.07,172.33 L407.82,170.71 L408.56,169.13 L409.31,167.63 L410.05,166.19 L410.8,164.83 L411.54,163.55 L412.29,162.35 L413.04,161.24 L413.78,160.21 L414.53,159.26 L415.27,158.4 L416.02,157.61 L416.76,156.89 L417.51,156.24 L418.25,155.65 L419,155.12 L419.75,154.65 L420.49,154.22 L421.24,153.84 L421.98,153.5 L422.73,153.2 L423.47,152.93 L424.22,152.69 L424.97,152.48 L425.71,152.29 L426.46,152.12 L427.2,151.98" fill="none" stroke="#8a7cc6" stroke-width="1.3"/>
<path d="M383.21,201.27V204.67M381.81,201.27H384.61M381.81,204.67H384.61" stroke="#444" stroke-width="0.7"/>
<circle cx="383.21" cy="202.97" r="1.5" fill="#8a7cc6"/>
<path d="M388.26,200.55V203.95M386.86,200.55H389.66M386.86,203.95H389.66" stroke="#444" stroke-width="0.7"/>
<circle cx="388.26" cy="202.25" r="1.5" fill="#8a7cc6"/>
<path d="M393.02,195.5V198.9M391.62,195.5H394.42M391.62,198.9H394.42" stroke="#444" stroke-width="0.7"/>
<circle cx="393.02" cy="197.2" r="1.5" fill="#8a7cc6"/>
<path d="M397.92,190.74V194.14M396.52,190.74H399.32M396.52,194.14H399.32" stroke="#444" stroke-width="0.7"/>
<circle cx="397.92" cy="192.44" r="1.5" fill="#8a7cc6"/>
<path d="M402.68,181.08V184.48M401.28,181.08H404.08M401.28,184.48H404.08" stroke="#444" stroke-width="0.7"/>
<circle cx="402.68" cy="182.78" r="1.5" fill="#8a7cc6"/>
<path d="M407.44,168.1V171.5M406.04,168.1H408.84M406.04,171.5H408.84" stroke="#444" stroke-width="0.7"/>
<circle cx="407.44" cy="169.8" r="1.5" fill="#8a7cc6"/>
<path d="M412.35,162.33V165.73M410.95,162.33H413.75M410.95,165.73H413.75" stroke="#444" stroke-width="0.7"/>
<circle cx="412.35" cy="164.03" r="1.5" fill="#8a7cc6"/>
<path d="M417.39,154.4V157.8M415.99,154.4H418.79M415.99,157.8H418.79" stroke="#444" stroke-width="0.7"/>
<circle cx="417.39" cy="156.1" r="1.5" fill="#8a7cc6"/>
<path d="M422.15,150.79V154.19M420.75,150.79H423.55M420.75,154.19H423.55" stroke="#444" stroke-width="0.7"/>
<circle cx="422.15" cy="152.49" r="1.5" fill="#8a7cc6"/>
<path d="M427.2,150.79V154.19M425.8,150.79H428.6M425.8,154.19H428.6" stroke="#444" stroke-width="0.7"/>
<circle cx="427.2" cy="152.49" r="1.5" fill="#8a7cc6"/>
<path d="M383.21,214.96 L383.79,214.82 L384.37,214.66 L384.95,214.47 L385.53,214.26 L386.11,214 L386.69,213.71 L387.27,213.38 L387.85,212.99 L388.43,212.54 L389.01,212.02 L389.58,211.43 L390.16,210.75 L390.74,209.98 L391.32,209.1 L391.9,208.11 L392.48,207 L393.06,205.75 L393.64,204.37 L394.22,202.85 L394.8,201.18 L395.38,199.37 L395.96,197.42 L396.54,195.35 L397.12,193.17 L397.7,190.89 L398.28,188.55 L398.85,186.17 L399.43,183.78 L400.01,181.4 L400.59,179.07 L401.17,176.81 L401.75,174.64 L402.33,172.59 L402.91,170.66 L403.49,168.88 L404.07,167.23 L404.65,165.73 L405.23,164.37 L405.81,163.14 L406.39,162.05 L406.97,161.08 L407.54,160.22 L408.12,159.46 L408.7,158.8 L409.28,158.22 L409.86,157.72 L410.44,157.28 L411.02,156.9 L411.6,156.57 L412.18,156.28 L412.76,156.04 L413.34,155.82 L413.92,155.64 L414.5,155.48 L415.08,155.35 L415.66,155.23 L416.24,155.14 L416.81,155.05 L417.39,154.98" fill="none" stroke="#e58d16" stroke-width="1.3"/>
<path d="M383.21,212.81V216.21M381.81,212.81H384.61M381.81,216.21H384.61" stroke="#444" stroke-width="0.7"/>
<circle cx="383.21" cy="214.51" r="1.5" fill="#e58d16"/>
<path d="M388.26,210.93V214.33M386.86,210.93H389.66M386.86,214.33H389.66" stroke="#444" stroke-width="0.7"/>
<circle cx="388.26" cy="212.63" r="1.5" fill="#e58d16"/>
<path d="M393.02,205.17V208.57M391.62,205.17H394.42M391.62,208.57H394.42" stroke="#444" stroke-width="0.7"/>
<circle cx="393.02" cy="206.87" r="1.5" fill="#e58d16"/>
<path d="M397.92,187.57V190.97M396.52,187.57H399.32M396.52,190.97H399.32" stroke="#444" stroke-width="0.7"/>
<circle cx="397.92" cy="189.27" r="1.5" fill="#e58d16"/>
<path d="M402.68,169.54V172.94M401.28,169.54H404.08M401.28,172.94H404.08" stroke="#444" stroke-width="0.7"/>
<circle cx="402.68" cy="171.24" r="1.5" fill="#e58d16"/>
<path d="M407.44,159.44V162.84M406.04,159.44H408.84M406.04,162.84H408.84" stroke="#444" stroke-width="0.7"/>
<circle cx="407.44" cy="161.14" r="1.5" fill="#e58d16"/>
<path d="M412.35,155.12V158.52M410.95,155.12H413.75M410.95,158.52H413.75" stroke="#444" stroke-width="0.7"/>
<circle cx="412.35" cy="156.82" r="1.5" fill="#e58d16"/>
<path d="M417.39,152.23V155.63M415.99,152.23H418.79M415.99,155.63H418.79" stroke="#444" stroke-width="0.7"/>
<circle cx="417.39" cy="153.93" r="1.5" fill="#e58d16"/>
<path d="M383.21,202.46 L383.96,201.82 L384.7,201.13 L385.45,200.4 L386.19,199.62 L386.94,198.79 L387.69,197.9 L388.43,196.97 L389.18,195.98 L389.92,194.94 L390.67,193.85 L391.41,192.71 L392.16,191.53 L392.9,190.3 L393.65,189.03 L394.4,187.72 L395.14,186.38 L395.89,185.01 L396.63,183.62 L397.38,182.21 L398.12,180.79 L398.87,179.37 L399.61,177.95 L400.36,176.54 L401.11,175.14 L401.85,173.76 L402.6,172.41 L403.34,171.09 L404.09,169.8 L404.83,168.55 L405.58,167.35 L406.33,166.2 L407.07,165.09 L407.82,164.03 L408.56,163.02 L409.31,162.07 L410.05,161.16 L410.8,160.31 L411.54,159.51 L412.29,158.76 L413.04,158.05 L413.78,157.39 L414.53,156.78 L415.27,156.21 L416.02,155.68 L416.76,155.19 L417.51,154.74 L418.25,154.32 L419,153.93 L419.75,153.57 L420.49,153.24 L421.24,152.94 L421.98,152.66 L422.73,152.4 L423.47,152.17 L424.22,151.95 L424.97,151.76 L425.71,151.58 L426.46,151.41 L427.2,151.26" fill="none" stroke="#5aaae6" stroke-width="1.3"/>
<path d="M383.21,199.83V203.23M381.81,199.83H384.61M381.81,203.23H384.61" stroke="#444" stroke-width="0.7"/>
<circle cx="383.21" cy="201.53" r="1.5" fill="#5aaae6"/>
<path d="M388.26,197.67V201.07M386.86,197.67H389.66M386.86,201.07H389.66" stroke="#444" stroke-width="0.7"/>
<circle cx="388.26" cy="199.37" r="1.5" fill="#5aaae6"/>
<path d="M393.02,184.28V193.68M391.62,184.28H394.42M391.62,193.68H394.42" stroke="#444" stroke-width="0.7"/>
<circle cx="393.02" cy="188.98" r="1.5" fill="#5aaae6"/>
<path d="M397.92,175.92V185.32M396.52,175.92H399.32M396.52,185.32H399.32" stroke="#444" stroke-width="0.7"/>
<circle cx="397.92" cy="180.62" r="1.5" fill="#5aaae6"/>
<path d="M402.68,169.54V172.94M401.28,169.54H404.08M401.28,172.94H404.08" stroke="#444" stroke-width="0.7"/>
<circle cx="402.68" cy="171.24" r="1.5" fill="#5aaae6"/>
<path d="M407.44,165.93V169.33M406.04,165.93H408.84M406.04,169.33H408.84" stroke="#444" stroke-width="0.7"/>
<circle cx="407.44" cy="167.63" r="1.5" fill="#5aaae6"/>
<path d="M412.35,156.56V159.96M410.95,156.56H413.75M410.95,159.96H413.75" stroke="#444" stroke-width="0.7"/>
<circle cx="412.35" cy="158.26" r="1.5" fill="#5aaae6"/>
<path d="M417.39,150.79V154.19M415.99,150.79H418.79M415.99,154.19H418.79" stroke="#444" stroke-width="0.7"/>
<circle cx="417.39" cy="152.49" r="1.5" fill="#5aaae6"/>
<path d="M422.15,150.79V154.19M420.75,150.79H423.55M420.75,154.19H423.55" stroke="#444" stroke-width="0.7"/>
<circle cx="422.15" cy="152.49" r="1.5" fill="#5aaae6"/>
<path d="M427.2,150.79V154.19M425.8,150.79H428.6M425.8,154.19H428.6" stroke="#444" stroke-width="0.7"/>
<circle cx="427.2" cy="152.49" r="1.5" fill="#5aaae6"/>
</g>
<rect x="93.3" y="260.2" width="7.5" height="64.5" fill="#e0e0e2"/>
<text x="69.95" y="250.85" font-size="10.2" textLength="49.8" lengthAdjust="spacingAndGlyphs" fill="#1a1a1a" stroke="#1a1a1a" stroke-width="0.22">PRT062607</text>
<path d="M57.2,324.7H61.1" stroke="#262626" stroke-width="1.35"/>
<text x="43.7" y="327.55" font-size="8" textLength="10.3" lengthAdjust="spacingAndGlyphs" fill="#222" stroke="#222" stroke-width="0.22">0.0</text>
<path d="M57.2,311.8H61.1" stroke="#262626" stroke-width="1.35"/>
<text x="43.7" y="314.65" font-size="8" textLength="10.3" lengthAdjust="spacingAndGlyphs" fill="#222" stroke="#222" stroke-width="0.22">0.2</text>
<path d="M57.2,298.9H61.1" stroke="#262626" stroke-width="1.35"/>
<text x="43.7" y="301.75" font-size="8" textLength="10.3" lengthAdjust="spacingAndGlyphs" fill="#222" stroke="#222" stroke-width="0.22">0.4</text>
<path d="M57.2,286H61.1" stroke="#262626" stroke-width="1.35"/>
<text x="43.7" y="288.85" font-size="8" textLength="10.3" lengthAdjust="spacingAndGlyphs" fill="#222" stroke="#222" stroke-width="0.22">0.6</text>
<path d="M57.2,273.1H61.1" stroke="#262626" stroke-width="1.35"/>
<text x="43.7" y="275.95" font-size="8" textLength="10.3" lengthAdjust="spacingAndGlyphs" fill="#222" stroke="#222" stroke-width="0.22">0.8</text>
<path d="M57.2,260.2H61.1" stroke="#262626" stroke-width="1.35"/>
<text x="43.7" y="263.05" font-size="8" textLength="10.3" lengthAdjust="spacingAndGlyphs" fill="#222" stroke="#222" stroke-width="0.22">1.0</text>
<path d="M61.1,324.7V328" stroke="#262626" stroke-width="1.35"/>
<text x="55.57" y="337.9" font-size="6.8" textLength="7.5" lengthAdjust="spacingAndGlyphs" fill="#222" stroke="#222" stroke-width="0.22">10</text>
<text x="63.47" y="334.8" font-size="4.8" textLength="4.05" lengthAdjust="spacingAndGlyphs" fill="#222" stroke="#222" stroke-width="0.22">-9</text>
<path d="M77.15,324.7V328" stroke="#262626" stroke-width="1.35"/>
<text x="71.62" y="337.9" font-size="6.8" textLength="7.5" lengthAdjust="spacingAndGlyphs" fill="#222" stroke="#222" stroke-width="0.22">10</text>
<text x="79.52" y="334.8" font-size="4.8" textLength="4.05" lengthAdjust="spacingAndGlyphs" fill="#222" stroke="#222" stroke-width="0.22">-8</text>
<path d="M93.2,324.7V328" stroke="#262626" stroke-width="1.35"/>
<text x="87.67" y="337.9" font-size="6.8" textLength="7.5" lengthAdjust="spacingAndGlyphs" fill="#222" stroke="#222" stroke-width="0.22">10</text>
<text x="95.57" y="334.8" font-size="4.8" textLength="4.05" lengthAdjust="spacingAndGlyphs" fill="#222" stroke="#222" stroke-width="0.22">-7</text>
<path d="M109.25,324.7V328" stroke="#262626" stroke-width="1.35"/>
<text x="103.72" y="337.9" font-size="6.8" textLength="7.5" lengthAdjust="spacingAndGlyphs" fill="#222" stroke="#222" stroke-width="0.22">10</text>
<text x="111.62" y="334.8" font-size="4.8" textLength="4.05" lengthAdjust="spacingAndGlyphs" fill="#222" stroke="#222" stroke-width="0.22">-6</text>
<path d="M125.3,324.7V328" stroke="#262626" stroke-width="1.35"/>
<text x="119.77" y="337.9" font-size="6.8" textLength="7.5" lengthAdjust="spacingAndGlyphs" fill="#222" stroke="#222" stroke-width="0.22">10</text>
<text x="127.67" y="334.8" font-size="4.8" textLength="4.05" lengthAdjust="spacingAndGlyphs" fill="#222" stroke="#222" stroke-width="0.22">-5</text>
<path d="M61.1,256.9V324.7H128.6" fill="none" stroke="#262626" stroke-width="1.8"/>
<clipPath id="cp9"><rect x="61.8" y="254.2" width="71.5" height="70.1"/></clipPath>
<g clip-path="url(#cp9)">
<path d="M75.02,321.83 L75.76,321.82 L76.51,321.81 L77.25,321.8 L77.99,321.79 L78.74,321.77 L79.48,321.76 L80.22,321.74 L80.96,321.72 L81.71,321.7 L82.45,321.67 L83.19,321.65 L83.94,321.62 L84.68,321.59 L85.42,321.55 L86.17,321.51 L86.91,321.47 L87.65,321.42 L88.4,321.37 L89.14,321.31 L89.88,321.25 L90.63,321.18 L91.37,321.1 L92.11,321.01 L92.85,320.92 L93.6,320.81 L94.34,320.69 L95.08,320.57 L95.83,320.42 L96.57,320.27 L97.31,320.09 L98.06,319.9 L98.8,319.69 L99.54,319.46 L100.29,319.2 L101.03,318.92 L101.77,318.61 L102.52,318.26 L103.26,317.88 L104,317.45 L104.75,316.99 L105.49,316.47 L106.23,315.9 L106.97,315.28 L107.72,314.58 L108.46,313.82 L109.2,312.97 L109.95,312.03 L110.69,311 L111.43,309.86 L112.18,308.61 L112.92,307.22 L113.66,305.68 L114.41,303.99 L115.15,302.11 L115.89,300.05 L116.64,297.77 L117.38,295.25 L118.12,292.46 L118.87,289.39" fill="none" stroke="#e58d16" stroke-width="1.3"/>
<path d="M75.02,321.53V324.93M73.62,321.53H76.42M73.62,324.93H76.42" stroke="#444" stroke-width="0.7"/>
<circle cx="75.02" cy="323.23" r="1.5" fill="#e58d16"/>
<path d="M79.92,318.93V322.33M78.52,318.93H81.32M78.52,322.33H81.32" stroke="#444" stroke-width="0.7"/>
<circle cx="79.92" cy="320.63" r="1.5" fill="#e58d16"/>
<path d="M84.68,320.09V323.49M83.28,320.09H86.08M83.28,323.49H86.08" stroke="#444" stroke-width="0.7"/>
<circle cx="84.68" cy="321.79" r="1.5" fill="#e58d16"/>
<path d="M89.44,320.81V324.21M88.04,320.81H90.84M88.04,324.21H90.84" stroke="#444" stroke-width="0.7"/>
<circle cx="89.44" cy="322.51" r="1.5" fill="#e58d16"/>
<path d="M94.35,318.93V322.33M92.95,318.93H95.75M92.95,322.33H95.75" stroke="#444" stroke-width="0.7"/>
<circle cx="94.35" cy="320.63" r="1.5" fill="#e58d16"/>
<path d="M99.39,313.68V322.68M97.99,313.68H100.79M97.99,322.68H100.79" stroke="#444" stroke-width="0.7"/>
<circle cx="99.39" cy="318.18" r="1.5" fill="#e58d16"/>
<path d="M104.15,312.44V321.04M102.75,312.44H105.55M102.75,321.04H105.55" stroke="#444" stroke-width="0.7"/>
<circle cx="104.15" cy="316.74" r="1.5" fill="#e58d16"/>
<path d="M109.2,307.1V315.7M107.8,307.1H110.6M107.8,315.7H110.6" stroke="#444" stroke-width="0.7"/>
<circle cx="109.2" cy="311.4" r="1.5" fill="#e58d16"/>
<path d="M113.96,304.05V311.25M112.56,304.05H115.36M112.56,311.25H115.36" stroke="#444" stroke-width="0.7"/>
<circle cx="113.96" cy="307.65" r="1.5" fill="#e58d16"/>
<path d="M118.87,285.02V292.22M117.47,285.02H120.27M117.47,292.22H120.27" stroke="#444" stroke-width="0.7"/>
<circle cx="118.87" cy="288.62" r="1.5" fill="#e58d16"/>
<path d="M75.02,315.61 L75.76,315.59 L76.51,315.56 L77.25,315.53 L77.99,315.49 L78.74,315.44 L79.48,315.39 L80.22,315.32 L80.96,315.24 L81.71,315.15 L82.45,315.05 L83.19,314.92 L83.94,314.78 L84.68,314.61 L85.42,314.41 L86.17,314.17 L86.91,313.9 L87.65,313.57 L88.4,313.2 L89.14,312.76 L89.88,312.26 L90.63,311.67 L91.37,311 L92.11,310.22 L92.85,309.34 L93.6,308.33 L94.34,307.19 L95.08,305.91 L95.83,304.48 L96.57,302.9 L97.31,301.16 L98.06,299.28 L98.8,297.25 L99.54,295.1 L100.29,292.85 L101.03,290.52 L101.77,288.13 L102.52,285.73 L103.26,283.34 L104,280.99 L104.75,278.72 L105.49,276.55 L106.23,274.51 L106.97,272.6 L107.72,270.84 L108.46,269.23 L109.2,267.77 L109.95,266.47 L110.69,265.3 L111.43,264.27 L112.18,263.36 L112.92,262.57 L113.66,261.88 L114.41,261.28 L115.15,260.76 L115.89,260.31 L116.64,259.93 L117.38,259.6 L118.12,259.31 L118.87,259.07" fill="none" stroke="#8a7cc6" stroke-width="1.3"/>
<path d="M75.02,315.04V318.44M73.62,315.04H76.42M73.62,318.44H76.42" stroke="#444" stroke-width="0.7"/>
<circle cx="75.02" cy="316.74" r="1.5" fill="#8a7cc6"/>
<path d="M79.92,315.04V318.44M78.52,315.04H81.32M78.52,318.44H81.32" stroke="#444" stroke-width="0.7"/>
<circle cx="79.92" cy="316.74" r="1.5" fill="#8a7cc6"/>
<path d="M84.68,311.43V314.83M83.28,311.43H86.08M83.28,314.83H86.08" stroke="#444" stroke-width="0.7"/>
<circle cx="84.68" cy="313.13" r="1.5" fill="#8a7cc6"/>
<path d="M89.44,310.71V314.11M88.04,310.71H90.84M88.04,314.11H90.84" stroke="#444" stroke-width="0.7"/>
<circle cx="89.44" cy="312.41" r="1.5" fill="#8a7cc6"/>
<path d="M94.35,302.78V306.18M92.95,302.78H95.75M92.95,306.18H95.75" stroke="#444" stroke-width="0.7"/>
<circle cx="94.35" cy="304.48" r="1.5" fill="#8a7cc6"/>
<path d="M99.39,291.99V303.99M97.99,291.99H100.79M97.99,303.99H100.79" stroke="#444" stroke-width="0.7"/>
<circle cx="99.39" cy="297.99" r="1.5" fill="#8a7cc6"/>
<path d="M104.15,278.98V282.38M102.75,278.98H105.55M102.75,282.38H105.55" stroke="#444" stroke-width="0.7"/>
<circle cx="104.15" cy="280.68" r="1.5" fill="#8a7cc6"/>
<path d="M109.2,264.56V267.96M107.8,264.56H110.6M107.8,267.96H110.6" stroke="#444" stroke-width="0.7"/>
<circle cx="109.2" cy="266.26" r="1.5" fill="#8a7cc6"/>
<path d="M113.96,259.22V262.62M112.56,259.22H115.36M112.56,262.62H115.36" stroke="#444" stroke-width="0.7"/>
<circle cx="113.96" cy="260.92" r="1.5" fill="#8a7cc6"/>
<path d="M118.87,258.79V262.19M117.47,258.79H120.27M117.47,262.19H120.27" stroke="#444" stroke-width="0.7"/>
<circle cx="118.87" cy="260.49" r="1.5" fill="#8a7cc6"/>
<path d="M75.02,321.55 L75.76,321.4 L76.51,321.23 L77.25,321.04 L77.99,320.81 L78.74,320.54 L79.48,320.23 L80.22,319.87 L80.96,319.46 L81.71,318.99 L82.45,318.45 L83.19,317.82 L83.94,317.11 L84.68,316.31 L85.42,315.4 L86.17,314.37 L86.91,313.23 L87.65,311.95 L88.4,310.54 L89.14,309 L89.88,307.32 L90.63,305.52 L91.37,303.59 L92.11,301.56 L92.85,299.44 L93.6,297.25 L94.34,295.03 L95.08,292.78 L95.83,290.55 L96.57,288.36 L97.31,286.23 L98.06,284.19 L98.8,282.25 L99.54,280.43 L100.29,278.74 L101.03,277.18 L101.77,275.76 L102.52,274.47 L103.26,273.31 L104,272.27 L104.75,271.35 L105.49,270.53 L106.23,269.81 L106.97,269.18 L107.72,268.63 L108.46,268.15 L109.2,267.73 L109.95,267.37 L110.69,267.05 L111.43,266.78 L112.18,266.55 L112.92,266.35 L113.66,266.17 L114.41,266.03 L115.15,265.9 L115.89,265.79 L116.64,265.69 L117.38,265.61 L118.12,265.54 L118.87,265.48" fill="none" stroke="#1d3a7a" stroke-width="1.3"/>
<path d="M75.02,319.37V322.77M73.62,319.37H76.42M73.62,322.77H76.42" stroke="#444" stroke-width="0.7"/>
<circle cx="75.02" cy="321.07" r="1.5" fill="#1d3a7a"/>
<path d="M79.92,318.93V322.33M78.52,318.93H81.32M78.52,322.33H81.32" stroke="#444" stroke-width="0.7"/>
<circle cx="79.92" cy="320.63" r="1.5" fill="#1d3a7a"/>
<path d="M84.68,314.32V317.72M83.28,314.32H86.08M83.28,317.72H86.08" stroke="#444" stroke-width="0.7"/>
<circle cx="84.68" cy="316.02" r="1.5" fill="#1d3a7a"/>
<path d="M89.44,307.11V310.51M88.04,307.11H90.84M88.04,310.51H90.84" stroke="#444" stroke-width="0.7"/>
<circle cx="89.44" cy="308.81" r="1.5" fill="#1d3a7a"/>
<path d="M94.35,288.38V300.38M92.95,288.38H95.75M92.95,300.38H95.75" stroke="#444" stroke-width="0.7"/>
<circle cx="94.35" cy="294.38" r="1.5" fill="#1d3a7a"/>
<path d="M99.39,279.7V283.1M97.99,279.7H100.79M97.99,283.1H100.79" stroke="#444" stroke-width="0.7"/>
<circle cx="99.39" cy="281.4" r="1.5" fill="#1d3a7a"/>
<path d="M104.15,269.61V273.01M102.75,269.61H105.55M102.75,273.01H105.55" stroke="#444" stroke-width="0.7"/>
<circle cx="104.15" cy="271.31" r="1.5" fill="#1d3a7a"/>
<path d="M109.2,266.72V270.12M107.8,266.72H110.6M107.8,270.12H110.6" stroke="#444" stroke-width="0.7"/>
<circle cx="109.2" cy="268.42" r="1.5" fill="#1d3a7a"/>
<path d="M113.96,265.28V268.68M112.56,265.28H115.36M112.56,268.68H115.36" stroke="#444" stroke-width="0.7"/>
<circle cx="113.96" cy="266.98" r="1.5" fill="#1d3a7a"/>
<path d="M118.87,262.68V266.08M117.47,262.68H120.27M117.47,266.08H120.27" stroke="#444" stroke-width="0.7"/>
<circle cx="118.87" cy="264.38" r="1.5" fill="#1d3a7a"/>
<path d="M75.02,317.31 L75.76,316.86 L76.51,316.35 L77.25,315.78 L77.99,315.14 L78.74,314.42 L79.48,313.62 L80.22,312.72 L80.96,311.73 L81.71,310.64 L82.45,309.44 L83.19,308.12 L83.94,306.7 L84.68,305.17 L85.42,303.53 L86.17,301.78 L86.91,299.94 L87.65,298.03 L88.4,296.04 L89.14,294 L89.88,291.93 L90.63,289.85 L91.37,287.77 L92.11,285.72 L92.85,283.71 L93.6,281.77 L94.34,279.9 L95.08,278.13 L95.83,276.45 L96.57,274.88 L97.31,273.43 L98.06,272.08 L98.8,270.84 L99.54,269.71 L100.29,268.69 L101.03,267.76 L101.77,266.93 L102.52,266.19 L103.26,265.52 L104,264.93 L104.75,264.4 L105.49,263.94 L106.23,263.52 L106.97,263.16 L107.72,262.84 L108.46,262.56 L109.2,262.31 L109.95,262.1 L110.69,261.91 L111.43,261.74 L112.18,261.6 L112.92,261.47 L113.66,261.36 L114.41,261.26 L115.15,261.18 L115.89,261.1 L116.64,261.04 L117.38,260.98 L118.12,260.94 L118.87,260.89" fill="none" stroke="#5aaae6" stroke-width="1.3"/>
<path d="M75.02,315.04V318.44M73.62,315.04H76.42M73.62,318.44H76.42" stroke="#444" stroke-width="0.7"/>
<circle cx="75.02" cy="316.74" r="1.5" fill="#5aaae6"/>
<path d="M79.92,312.16V315.56M78.52,312.16H81.32M78.52,315.56H81.32" stroke="#444" stroke-width="0.7"/>
<circle cx="79.92" cy="313.86" r="1.5" fill="#5aaae6"/>
<path d="M84.68,303.5V306.9M83.28,303.5H86.08M83.28,306.9H86.08" stroke="#444" stroke-width="0.7"/>
<circle cx="84.68" cy="305.2" r="1.5" fill="#5aaae6"/>
<path d="M89.44,287.94V297.94M88.04,287.94H90.84M88.04,297.94H90.84" stroke="#444" stroke-width="0.7"/>
<circle cx="89.44" cy="292.94" r="1.5" fill="#5aaae6"/>
<path d="M94.35,277.54V280.94M92.95,277.54H95.75M92.95,280.94H95.75" stroke="#444" stroke-width="0.7"/>
<circle cx="94.35" cy="279.24" r="1.5" fill="#5aaae6"/>
<path d="M99.39,269.61V273.01M97.99,269.61H100.79M97.99,273.01H100.79" stroke="#444" stroke-width="0.7"/>
<circle cx="99.39" cy="271.31" r="1.5" fill="#5aaae6"/>
<path d="M104.15,262.4V265.8M102.75,262.4H105.55M102.75,265.8H105.55" stroke="#444" stroke-width="0.7"/>
<circle cx="104.15" cy="264.1" r="1.5" fill="#5aaae6"/>
<path d="M109.2,260.67V264.07M107.8,260.67H110.6M107.8,264.07H110.6" stroke="#444" stroke-width="0.7"/>
<circle cx="109.2" cy="262.37" r="1.5" fill="#5aaae6"/>
<path d="M113.96,259.51V262.91M112.56,259.51H115.36M112.56,262.91H115.36" stroke="#444" stroke-width="0.7"/>
<circle cx="113.96" cy="261.21" r="1.5" fill="#5aaae6"/>
<path d="M118.87,259.22V262.62M117.47,259.22H120.27M117.47,262.62H120.27" stroke="#444" stroke-width="0.7"/>
<circle cx="118.87" cy="260.92" r="1.5" fill="#5aaae6"/>
</g>
<rect x="199.1" y="260.2" width="15.5" height="64.5" fill="#e0e0e2"/>
<text x="182.55" y="250.85" font-size="10.2" textLength="36.6" lengthAdjust="spacingAndGlyphs" fill="#1a1a1a" stroke="#1a1a1a" stroke-width="0.22">Ibrutinib</text>
<path d="M163.2,324.7H167.1" stroke="#262626" stroke-width="1.35"/>
<text x="149.7" y="327.55" font-size="8" textLength="10.3" lengthAdjust="spacingAndGlyphs" fill="#222" stroke="#222" stroke-width="0.22">0.0</text>
<path d="M163.2,311.8H167.1" stroke="#262626" stroke-width="1.35"/>
<text x="149.7" y="314.65" font-size="8" textLength="10.3" lengthAdjust="spacingAndGlyphs" fill="#222" stroke="#222" stroke-width="0.22">0.2</text>
<path d="M163.2,298.9H167.1" stroke="#262626" stroke-width="1.35"/>
<text x="149.7" y="301.75" font-size="8" textLength="10.3" lengthAdjust="spacingAndGlyphs" fill="#222" stroke="#222" stroke-width="0.22">0.4</text>
<path d="M163.2,286H167.1" stroke="#262626" stroke-width="1.35"/>
<text x="149.7" y="288.85" font-size="8" textLength="10.3" lengthAdjust="spacingAndGlyphs" fill="#222" stroke="#222" stroke-width="0.22">0.6</text>
<path d="M163.2,273.1H167.1" stroke="#262626" stroke-width="1.35"/>
<text x="149.7" y="275.95" font-size="8" textLength="10.3" lengthAdjust="spacingAndGlyphs" fill="#222" stroke="#222" stroke-width="0.22">0.8</text>
<path d="M163.2,260.2H167.1" stroke="#262626" stroke-width="1.35"/>
<text x="149.7" y="263.05" font-size="8" textLength="10.3" lengthAdjust="spacingAndGlyphs" fill="#222" stroke="#222" stroke-width="0.22">1.0</text>
<path d="M167.1,324.7V328" stroke="#262626" stroke-width="1.35"/>
<text x="160.47" y="337.9" font-size="6.8" textLength="7.5" lengthAdjust="spacingAndGlyphs" fill="#222" stroke="#222" stroke-width="0.22">10</text>
<text x="168.37" y="334.8" font-size="4.8" textLength="6.25" lengthAdjust="spacingAndGlyphs" fill="#222" stroke="#222" stroke-width="0.22">-11</text>
<path d="M183.15,324.7V328" stroke="#262626" stroke-width="1.35"/>
<text x="176.35" y="337.9" font-size="6.8" textLength="7.5" lengthAdjust="spacingAndGlyphs" fill="#222" stroke="#222" stroke-width="0.22">10</text>
<text x="184.25" y="334.8" font-size="4.8" textLength="6.59" lengthAdjust="spacingAndGlyphs" fill="#222" stroke="#222" stroke-width="0.22">-10</text>
<path d="M199.2,324.7V328" stroke="#262626" stroke-width="1.35"/>
<text x="193.67" y="337.9" font-size="6.8" textLength="7.5" lengthAdjust="spacingAndGlyphs" fill="#222" stroke="#222" stroke-width="0.22">10</text>
<text x="201.57" y="334.8" font-size="4.8" textLength="4.05" lengthAdjust="spacingAndGlyphs" fill="#222" stroke="#222" stroke-width="0.22">-9</text>
<path d="M215.25,324.7V328" stroke="#262626" stroke-width="1.35"/>
<text x="209.72" y="337.9" font-size="6.8" textLength="7.5" lengthAdjust="spacingAndGlyphs" fill="#222" stroke="#222" stroke-width="0.22">10</text>
<text x="217.62" y="334.8" font-size="4.8" textLength="4.05" lengthAdjust="spacingAndGlyphs" fill="#222" stroke="#222" stroke-width="0.22">-8</text>
<path d="M231.3,324.7V328" stroke="#262626" stroke-width="1.35"/>
<text x="225.77" y="337.9" font-size="6.8" textLength="7.5" lengthAdjust="spacingAndGlyphs" fill="#222" stroke="#222" stroke-width="0.22">10</text>
<text x="233.67" y="334.8" font-size="4.8" textLength="4.05" lengthAdjust="spacingAndGlyphs" fill="#222" stroke="#222" stroke-width="0.22">-7</text>
<path d="M167.1,256.9V324.7H234.6" fill="none" stroke="#262626" stroke-width="1.8"/>
<clipPath id="cp10"><rect x="167.8" y="254.2" width="71.5" height="70.1"/></clipPath>
<g clip-path="url(#cp10)">
<path d="M176.7,319.75 L177.44,319.77 L178.18,319.8 L178.92,319.82 L179.66,319.85 L180.41,319.88 L181.15,319.91 L181.89,319.94 L182.63,319.97 L183.37,320 L184.11,320.03 L184.85,320.07 L185.59,320.1 L186.33,320.14 L187.07,320.18 L187.81,320.22 L188.55,320.26 L189.29,320.31 L190.03,320.35 L190.78,320.4 L191.52,320.45 L192.26,320.5 L193,320.55 L193.74,320.61 L194.48,320.66 L195.22,320.72 L195.96,320.79 L196.7,320.85 L197.44,320.92 L198.18,320.98 L198.92,321.06 L199.66,321.13 L200.4,321.21 L201.15,321.29 L201.89,321.37 L202.63,321.46 L203.37,321.55 L204.11,321.64 L204.85,321.74 L205.59,321.84 L206.33,321.94 L207.07,322.05 L207.81,322.16 L208.55,322.28 L209.29,322.4 L210.03,322.53 L210.77,322.66 L211.52,322.8 L212.26,322.94 L213,323.09 L213.74,323.24 L214.48,323.4 L215.22,323.56 L215.96,323.73 L216.7,323.91 L217.44,324.09 L218.18,324.29 L218.92,324.48 L219.66,324.69 L220.4,324.91" fill="none" stroke="#e58d16" stroke-width="1.3"/>
<path d="M176.7,317.93V321.32M175.3,317.93H178.1M175.3,321.32H178.1" stroke="#444" stroke-width="0.7"/>
<circle cx="176.7" cy="319.62" r="1.5" fill="#e58d16"/>
<path d="M181.46,318.36V321.76M180.06,318.36H182.86M180.06,321.76H182.86" stroke="#444" stroke-width="0.7"/>
<circle cx="181.46" cy="320.06" r="1.5" fill="#e58d16"/>
<path d="M186.37,317.93V321.32M184.97,317.93H187.77M184.97,321.32H187.77" stroke="#444" stroke-width="0.7"/>
<circle cx="186.37" cy="319.62" r="1.5" fill="#e58d16"/>
<path d="M191.12,318.93V322.33M189.72,318.93H192.53M189.72,322.33H192.53" stroke="#444" stroke-width="0.7"/>
<circle cx="191.12" cy="320.63" r="1.5" fill="#e58d16"/>
<path d="M195.88,319.37V322.77M194.48,319.37H197.28M194.48,322.77H197.28" stroke="#444" stroke-width="0.7"/>
<circle cx="195.88" cy="321.07" r="1.5" fill="#e58d16"/>
<path d="M200.79,320.81V324.21M199.39,320.81H202.19M199.39,324.21H202.19" stroke="#444" stroke-width="0.7"/>
<circle cx="200.79" cy="322.51" r="1.5" fill="#e58d16"/>
<path d="M205.55,318.93V322.33M204.15,318.93H206.95M204.15,322.33H206.95" stroke="#444" stroke-width="0.7"/>
<circle cx="205.55" cy="320.63" r="1.5" fill="#e58d16"/>
<path d="M210.6,320.09V323.49M209.2,320.09H212M209.2,323.49H212" stroke="#444" stroke-width="0.7"/>
<circle cx="210.6" cy="321.79" r="1.5" fill="#e58d16"/>
<path d="M215.64,322.97V326.37M214.24,322.97H217.04M214.24,326.37H217.04" stroke="#444" stroke-width="0.7"/>
<circle cx="215.64" cy="324.67" r="1.5" fill="#e58d16"/>
<path d="M220.4,322.97V326.37M219,322.97H221.8M219,326.37H221.8" stroke="#444" stroke-width="0.7"/>
<circle cx="220.4" cy="324.67" r="1.5" fill="#e58d16"/>
<path d="M176.7,321.66 L177.44,321.65 L178.18,321.63 L178.92,321.62 L179.66,321.6 L180.41,321.57 L181.15,321.54 L181.89,321.51 L182.63,321.47 L183.37,321.42 L184.11,321.37 L184.85,321.31 L185.59,321.23 L186.33,321.14 L187.07,321.04 L187.81,320.92 L188.55,320.78 L189.29,320.61 L190.03,320.42 L190.78,320.19 L191.52,319.92 L192.26,319.62 L193,319.26 L193.74,318.85 L194.48,318.38 L195.22,317.83 L195.96,317.21 L196.7,316.51 L197.44,315.71 L198.18,314.82 L198.92,313.82 L199.66,312.71 L200.4,311.5 L201.15,310.19 L201.89,308.77 L202.63,307.27 L203.37,305.7 L204.11,304.07 L204.85,302.4 L205.59,300.72 L206.33,299.05 L207.07,297.41 L207.81,295.81 L208.55,294.29 L209.29,292.85 L210.03,291.5 L210.77,290.26 L211.52,289.12 L212.26,288.09 L213,287.17 L213.74,286.34 L214.48,285.61 L215.22,284.96 L215.96,284.39 L216.7,283.9 L217.44,283.47 L218.18,283.1 L218.92,282.78 L219.66,282.5 L220.4,282.26" fill="none" stroke="#1d3a7a" stroke-width="1.3"/>
<path d="M176.7,319.37V322.77M175.3,319.37H178.1M175.3,322.77H178.1" stroke="#444" stroke-width="0.7"/>
<circle cx="176.7" cy="321.07" r="1.5" fill="#1d3a7a"/>
<path d="M181.46,319.37V322.77M180.06,319.37H182.86M180.06,322.77H182.86" stroke="#444" stroke-width="0.7"/>
<circle cx="181.46" cy="321.07" r="1.5" fill="#1d3a7a"/>
<path d="M186.37,319.37V322.77M184.97,319.37H187.77M184.97,322.77H187.77" stroke="#444" stroke-width="0.7"/>
<circle cx="186.37" cy="321.07" r="1.5" fill="#1d3a7a"/>
<path d="M191.12,319.37V322.77M189.72,319.37H192.53M189.72,322.77H192.53" stroke="#444" stroke-width="0.7"/>
<circle cx="191.12" cy="321.07" r="1.5" fill="#1d3a7a"/>
<path d="M195.88,315.76V319.16M194.48,315.76H197.28M194.48,319.16H197.28" stroke="#444" stroke-width="0.7"/>
<circle cx="195.88" cy="317.46" r="1.5" fill="#1d3a7a"/>
<path d="M200.79,309.99V313.39M199.39,309.99H202.19M199.39,313.39H202.19" stroke="#444" stroke-width="0.7"/>
<circle cx="200.79" cy="311.69" r="1.5" fill="#1d3a7a"/>
<path d="M205.55,297.01V300.41M204.15,297.01H206.95M204.15,300.41H206.95" stroke="#444" stroke-width="0.7"/>
<circle cx="205.55" cy="298.71" r="1.5" fill="#1d3a7a"/>
<path d="M210.6,290.52V293.92M209.2,290.52H212M209.2,293.92H212" stroke="#444" stroke-width="0.7"/>
<circle cx="210.6" cy="292.22" r="1.5" fill="#1d3a7a"/>
<path d="M215.64,283.31V286.71M214.24,283.31H217.04M214.24,286.71H217.04" stroke="#444" stroke-width="0.7"/>
<circle cx="215.64" cy="285.01" r="1.5" fill="#1d3a7a"/>
<path d="M220.4,279.7V283.1M219,279.7H221.8M219,283.1H221.8" stroke="#444" stroke-width="0.7"/>
<circle cx="220.4" cy="281.4" r="1.5" fill="#1d3a7a"/>
<path d="M176.7,314.65 L177.44,314.64 L178.18,314.61 L178.92,314.58 L179.66,314.55 L180.41,314.51 L181.15,314.45 L181.89,314.39 L182.63,314.3 L183.37,314.2 L184.11,314.08 L184.85,313.92 L185.59,313.73 L186.33,313.5 L187.07,313.21 L187.81,312.86 L188.55,312.44 L189.29,311.92 L190.03,311.29 L190.78,310.54 L191.52,309.64 L192.26,308.58 L193,307.34 L193.74,305.9 L194.48,304.26 L195.22,302.42 L195.96,300.39 L196.7,298.19 L197.44,295.86 L198.18,293.43 L198.92,290.98 L199.66,288.54 L200.4,286.18 L201.15,283.95 L201.89,281.88 L202.63,280 L203.37,278.32 L204.11,276.84 L204.85,275.56 L205.59,274.46 L206.33,273.53 L207.07,272.75 L207.81,272.1 L208.55,271.56 L209.29,271.11 L210.03,270.75 L210.77,270.45 L211.52,270.2 L212.26,270 L213,269.84 L213.74,269.71 L214.48,269.61 L215.22,269.52 L215.96,269.45 L216.7,269.39 L217.44,269.35 L218.18,269.31 L218.92,269.28 L219.66,269.26 L220.4,269.24" fill="none" stroke="#5aaae6" stroke-width="1.3"/>
<path d="M176.7,312.88V316.28M175.3,312.88H178.1M175.3,316.28H178.1" stroke="#444" stroke-width="0.7"/>
<circle cx="176.7" cy="314.58" r="1.5" fill="#5aaae6"/>
<path d="M181.46,312.16V315.56M180.06,312.16H182.86M180.06,315.56H182.86" stroke="#444" stroke-width="0.7"/>
<circle cx="181.46" cy="313.86" r="1.5" fill="#5aaae6"/>
<path d="M186.37,311.43V314.83M184.97,311.43H187.77M184.97,314.83H187.77" stroke="#444" stroke-width="0.7"/>
<circle cx="186.37" cy="313.13" r="1.5" fill="#5aaae6"/>
<path d="M191.12,309.99V313.39M189.72,309.99H192.53M189.72,313.39H192.53" stroke="#444" stroke-width="0.7"/>
<circle cx="191.12" cy="311.69" r="1.5" fill="#5aaae6"/>
<path d="M195.88,298.45V301.85M194.48,298.45H197.28M194.48,301.85H197.28" stroke="#444" stroke-width="0.7"/>
<circle cx="195.88" cy="300.15" r="1.5" fill="#5aaae6"/>
<path d="M200.79,282.59V285.99M199.39,282.59H202.19M199.39,285.99H202.19" stroke="#444" stroke-width="0.7"/>
<circle cx="200.79" cy="284.29" r="1.5" fill="#5aaae6"/>
<path d="M205.55,273.93V277.33M204.15,273.93H206.95M204.15,277.33H206.95" stroke="#444" stroke-width="0.7"/>
<circle cx="205.55" cy="275.63" r="1.5" fill="#5aaae6"/>
<path d="M210.6,269.61V273.01M209.2,269.61H212M209.2,273.01H212" stroke="#444" stroke-width="0.7"/>
<circle cx="210.6" cy="271.31" r="1.5" fill="#5aaae6"/>
<path d="M215.64,267.01V270.41M214.24,267.01H217.04M214.24,270.41H217.04" stroke="#444" stroke-width="0.7"/>
<circle cx="215.64" cy="268.71" r="1.5" fill="#5aaae6"/>
<path d="M220.4,267.01V270.41M219,267.01H221.8M219,270.41H221.8" stroke="#444" stroke-width="0.7"/>
<circle cx="220.4" cy="268.71" r="1.5" fill="#5aaae6"/>
<path d="M176.7,316.72 L177.44,316.65 L178.18,316.57 L178.92,316.46 L179.66,316.34 L180.41,316.19 L181.15,316.02 L181.89,315.81 L182.63,315.56 L183.37,315.26 L184.11,314.9 L184.85,314.48 L185.59,313.99 L186.33,313.4 L187.07,312.71 L187.81,311.91 L188.55,310.98 L189.29,309.9 L190.03,308.66 L190.78,307.26 L191.52,305.68 L192.26,303.91 L193,301.97 L193.74,299.85 L194.48,297.58 L195.22,295.18 L195.96,292.69 L196.7,290.13 L197.44,287.57 L198.18,285.03 L198.92,282.56 L199.66,280.19 L200.4,277.97 L201.15,275.9 L201.89,274.01 L202.63,272.3 L203.37,270.78 L204.11,269.42 L204.85,268.24 L205.59,267.21 L206.33,266.31 L207.07,265.55 L207.81,264.89 L208.55,264.34 L209.29,263.87 L210.03,263.47 L210.77,263.13 L211.52,262.85 L212.26,262.61 L213,262.41 L213.74,262.24 L214.48,262.1 L215.22,261.99 L215.96,261.89 L216.7,261.81 L217.44,261.74 L218.18,261.69 L218.92,261.64 L219.66,261.6 L220.4,261.57" fill="none" stroke="#8a7cc6" stroke-width="1.3"/>
<path d="M176.7,315.76V319.16M175.3,315.76H178.1M175.3,319.16H178.1" stroke="#444" stroke-width="0.7"/>
<circle cx="176.7" cy="317.46" r="1.5" fill="#8a7cc6"/>
<path d="M181.46,313.6V317M180.06,313.6H182.86M180.06,317H182.86" stroke="#444" stroke-width="0.7"/>
<circle cx="181.46" cy="315.3" r="1.5" fill="#8a7cc6"/>
<path d="M186.37,311.43V314.83M184.97,311.43H187.77M184.97,314.83H187.77" stroke="#444" stroke-width="0.7"/>
<circle cx="186.37" cy="313.13" r="1.5" fill="#8a7cc6"/>
<path d="M191.12,304.94V308.34M189.72,304.94H192.53M189.72,308.34H192.53" stroke="#444" stroke-width="0.7"/>
<circle cx="191.12" cy="306.64" r="1.5" fill="#8a7cc6"/>
<path d="M195.88,291.24V294.64M194.48,291.24H197.28M194.48,294.64H197.28" stroke="#444" stroke-width="0.7"/>
<circle cx="195.88" cy="292.94" r="1.5" fill="#8a7cc6"/>
<path d="M200.79,275.38V278.78M199.39,275.38H202.19M199.39,278.78H202.19" stroke="#444" stroke-width="0.7"/>
<circle cx="200.79" cy="277.08" r="1.5" fill="#8a7cc6"/>
<path d="M205.55,265.28V268.68M204.15,265.28H206.95M204.15,268.68H206.95" stroke="#444" stroke-width="0.7"/>
<circle cx="205.55" cy="266.98" r="1.5" fill="#8a7cc6"/>
<path d="M210.6,261.24V264.64M209.2,261.24H212M209.2,264.64H212" stroke="#444" stroke-width="0.7"/>
<circle cx="210.6" cy="262.94" r="1.5" fill="#8a7cc6"/>
<path d="M215.64,260.23V263.63M214.24,260.23H217.04M214.24,263.63H217.04" stroke="#444" stroke-width="0.7"/>
<circle cx="215.64" cy="261.93" r="1.5" fill="#8a7cc6"/>
<path d="M220.4,260.23V263.63M219,260.23H221.8M219,263.63H221.8" stroke="#444" stroke-width="0.7"/>
<circle cx="220.4" cy="261.93" r="1.5" fill="#8a7cc6"/>
</g>
<rect x="305.3" y="260.2" width="15.5" height="64.5" fill="#e0e0e2"/>
<text x="280.3" y="250.85" font-size="10.2" textLength="53.1" lengthAdjust="spacingAndGlyphs" fill="#1a1a1a" stroke="#1a1a1a" stroke-width="0.22">Sotrastaurin</text>
<path d="M269.2,324.7H273.1" stroke="#262626" stroke-width="1.35"/>
<text x="255.7" y="327.55" font-size="8" textLength="10.3" lengthAdjust="spacingAndGlyphs" fill="#222" stroke="#222" stroke-width="0.22">0.0</text>
<path d="M269.2,311.8H273.1" stroke="#262626" stroke-width="1.35"/>
<text x="255.7" y="314.65" font-size="8" textLength="10.3" lengthAdjust="spacingAndGlyphs" fill="#222" stroke="#222" stroke-width="0.22">0.2</text>
<path d="M269.2,298.9H273.1" stroke="#262626" stroke-width="1.35"/>
<text x="255.7" y="301.75" font-size="8" textLength="10.3" lengthAdjust="spacingAndGlyphs" fill="#222" stroke="#222" stroke-width="0.22">0.4</text>
<path d="M269.2,286H273.1" stroke="#262626" stroke-width="1.35"/>
<text x="255.7" y="288.85" font-size="8" textLength="10.3" lengthAdjust="spacingAndGlyphs" fill="#222" stroke="#222" stroke-width="0.22">0.6</text>
<path d="M269.2,273.1H273.1" stroke="#262626" stroke-width="1.35"/>
<text x="255.7" y="275.95" font-size="8" textLength="10.3" lengthAdjust="spacingAndGlyphs" fill="#222" stroke="#222" stroke-width="0.22">0.8</text>
<path d="M269.2,260.2H273.1" stroke="#262626" stroke-width="1.35"/>
<text x="255.7" y="263.05" font-size="8" textLength="10.3" lengthAdjust="spacingAndGlyphs" fill="#222" stroke="#222" stroke-width="0.22">1.0</text>
<path d="M273.1,324.7V328" stroke="#262626" stroke-width="1.35"/>
<text x="267.57" y="337.9" font-size="6.8" textLength="7.5" lengthAdjust="spacingAndGlyphs" fill="#222" stroke="#222" stroke-width="0.22">10</text>
<text x="275.47" y="334.8" font-size="4.8" textLength="4.05" lengthAdjust="spacingAndGlyphs" fill="#222" stroke="#222" stroke-width="0.22">-9</text>
<path d="M289.15,324.7V328" stroke="#262626" stroke-width="1.35"/>
<text x="283.62" y="337.9" font-size="6.8" textLength="7.5" lengthAdjust="spacingAndGlyphs" fill="#222" stroke="#222" stroke-width="0.22">10</text>
<text x="291.52" y="334.8" font-size="4.8" textLength="4.05" lengthAdjust="spacingAndGlyphs" fill="#222" stroke="#222" stroke-width="0.22">-8</text>
<path d="M305.2,324.7V328" stroke="#262626" stroke-width="1.35"/>
<text x="299.67" y="337.9" font-size="6.8" textLength="7.5" lengthAdjust="spacingAndGlyphs" fill="#222" stroke="#222" stroke-width="0.22">10</text>
<text x="307.57" y="334.8" font-size="4.8" textLength="4.05" lengthAdjust="spacingAndGlyphs" fill="#222" stroke="#222" stroke-width="0.22">-7</text>
<path d="M321.25,324.7V328" stroke="#262626" stroke-width="1.35"/>
<text x="315.72" y="337.9" font-size="6.8" textLength="7.5" lengthAdjust="spacingAndGlyphs" fill="#222" stroke="#222" stroke-width="0.22">10</text>
<text x="323.62" y="334.8" font-size="4.8" textLength="4.05" lengthAdjust="spacingAndGlyphs" fill="#222" stroke="#222" stroke-width="0.22">-6</text>
<path d="M337.3,324.7V328" stroke="#262626" stroke-width="1.35"/>
<text x="331.77" y="337.9" font-size="6.8" textLength="7.5" lengthAdjust="spacingAndGlyphs" fill="#222" stroke="#222" stroke-width="0.22">10</text>
<text x="339.67" y="334.8" font-size="4.8" textLength="4.05" lengthAdjust="spacingAndGlyphs" fill="#222" stroke="#222" stroke-width="0.22">-5</text>
<path d="M273.1,256.9V324.7H340.6" fill="none" stroke="#262626" stroke-width="1.8"/>
<clipPath id="cp11"><rect x="273.8" y="254.2" width="71.5" height="70.1"/></clipPath>
<g clip-path="url(#cp11)">
<path d="M303.46,324.52 L303.95,324.35 L304.44,324.16 L304.93,323.97 L305.42,323.78 L305.91,323.57 L306.4,323.36 L306.88,323.14 L307.37,322.92 L307.86,322.68 L308.35,322.44 L308.84,322.19 L309.33,321.93 L309.82,321.65 L310.31,321.37 L310.8,321.08 L311.28,320.78 L311.77,320.47 L312.26,320.15 L312.75,319.81 L313.24,319.47 L313.73,319.11 L314.22,318.74 L314.71,318.36 L315.2,317.96 L315.68,317.55 L316.17,317.13 L316.66,316.69 L317.15,316.24 L317.64,315.77 L318.13,315.29 L318.62,314.79 L319.11,314.27 L319.6,313.74 L320.08,313.19 L320.57,312.63 L321.06,312.04 L321.55,311.44 L322.04,310.82 L322.53,310.18 L323.02,309.51 L323.51,308.83 L324,308.13 L324.49,307.41 L324.97,306.67 L325.46,305.9 L325.95,305.11 L326.44,304.3 L326.93,303.47 L327.42,302.62 L327.91,301.74 L328.4,300.84 L328.89,299.91 L329.37,298.96 L329.86,297.98 L330.35,296.99 L330.84,295.96 L331.33,294.91 L331.82,293.84 L332.31,292.74" fill="none" stroke="#e58d16" stroke-width="1.3"/>
<path d="M303.46,322.97V326.37M302.06,322.97H304.86M302.06,326.37H304.86" stroke="#444" stroke-width="0.7"/>
<circle cx="303.46" cy="324.67" r="1.5" fill="#e58d16"/>
<path d="M308.22,320.09V323.49M306.82,320.09H309.62M306.82,323.49H309.62" stroke="#444" stroke-width="0.7"/>
<circle cx="308.22" cy="321.79" r="1.5" fill="#e58d16"/>
<path d="M312.98,318.93V322.33M311.58,318.93H314.38M311.58,322.33H314.38" stroke="#444" stroke-width="0.7"/>
<circle cx="312.98" cy="320.63" r="1.5" fill="#e58d16"/>
<path d="M317.88,313.6V317M316.48,313.6H319.28M316.48,317H319.28" stroke="#444" stroke-width="0.7"/>
<circle cx="317.88" cy="315.3" r="1.5" fill="#e58d16"/>
<path d="M322.64,307.83V311.23M321.24,307.83H324.04M321.24,311.23H324.04" stroke="#444" stroke-width="0.7"/>
<circle cx="322.64" cy="309.53" r="1.5" fill="#e58d16"/>
<path d="M327.4,301.34V304.74M326,301.34H328.8M326,304.74H328.8" stroke="#444" stroke-width="0.7"/>
<circle cx="327.4" cy="303.04" r="1.5" fill="#e58d16"/>
<path d="M332.31,290.95V294.35M330.91,290.95H333.71M330.91,294.35H333.71" stroke="#444" stroke-width="0.7"/>
<circle cx="332.31" cy="292.65" r="1.5" fill="#e58d16"/>
<path d="M288.75,315.44 L289.49,315.41 L290.23,315.38 L290.96,315.33 L291.7,315.28 L292.44,315.22 L293.18,315.14 L293.92,315.06 L294.66,314.95 L295.39,314.83 L296.13,314.68 L296.87,314.51 L297.61,314.3 L298.35,314.06 L299.09,313.77 L299.82,313.43 L300.56,313.03 L301.3,312.57 L302.04,312.02 L302.78,311.39 L303.52,310.66 L304.25,309.82 L304.99,308.85 L305.73,307.76 L306.47,306.53 L307.21,305.16 L307.94,303.65 L308.68,302.01 L309.42,300.23 L310.16,298.35 L310.9,296.37 L311.64,294.34 L312.37,292.27 L313.11,290.2 L313.85,288.16 L314.59,286.18 L315.33,284.3 L316.07,282.52 L316.8,280.87 L317.54,279.35 L318.28,277.98 L319.02,276.75 L319.76,275.66 L320.5,274.69 L321.23,273.84 L321.97,273.11 L322.71,272.47 L323.45,271.93 L324.19,271.46 L324.93,271.06 L325.66,270.72 L326.4,270.43 L327.14,270.19 L327.88,269.98 L328.62,269.8 L329.35,269.66 L330.09,269.53 L330.83,269.43 L331.57,269.34 L332.31,269.27" fill="none" stroke="#1d3a7a" stroke-width="1.3"/>
<path d="M288.75,313.6V317M287.35,313.6H290.15M287.35,317H290.15" stroke="#444" stroke-width="0.7"/>
<circle cx="288.75" cy="315.3" r="1.5" fill="#1d3a7a"/>
<path d="M293.51,314.32V317.72M292.11,314.32H294.91M292.11,317.72H294.91" stroke="#444" stroke-width="0.7"/>
<circle cx="293.51" cy="316.02" r="1.5" fill="#1d3a7a"/>
<path d="M298.41,310.71V314.11M297.01,310.71H299.81M297.01,314.11H299.81" stroke="#444" stroke-width="0.7"/>
<circle cx="298.41" cy="312.41" r="1.5" fill="#1d3a7a"/>
<path d="M303.46,309.99V313.39M302.06,309.99H304.86M302.06,313.39H304.86" stroke="#444" stroke-width="0.7"/>
<circle cx="303.46" cy="311.69" r="1.5" fill="#1d3a7a"/>
<path d="M308.22,301.34V304.74M306.82,301.34H309.62M306.82,304.74H309.62" stroke="#444" stroke-width="0.7"/>
<circle cx="308.22" cy="303.04" r="1.5" fill="#1d3a7a"/>
<path d="M312.98,289.08V292.48M311.58,289.08H314.38M311.58,292.48H314.38" stroke="#444" stroke-width="0.7"/>
<circle cx="312.98" cy="290.78" r="1.5" fill="#1d3a7a"/>
<path d="M317.88,275.38V278.78M316.48,275.38H319.28M316.48,278.78H319.28" stroke="#444" stroke-width="0.7"/>
<circle cx="317.88" cy="277.08" r="1.5" fill="#1d3a7a"/>
<path d="M322.64,273.21V276.61M321.24,273.21H324.04M321.24,276.61H324.04" stroke="#444" stroke-width="0.7"/>
<circle cx="322.64" cy="274.91" r="1.5" fill="#1d3a7a"/>
<path d="M327.4,268.89V272.29M326,268.89H328.8M326,272.29H328.8" stroke="#444" stroke-width="0.7"/>
<circle cx="327.4" cy="270.59" r="1.5" fill="#1d3a7a"/>
<path d="M332.31,266V269.4M330.91,266H333.71M330.91,269.4H333.71" stroke="#444" stroke-width="0.7"/>
<circle cx="332.31" cy="267.7" r="1.5" fill="#1d3a7a"/>
<path d="M288.75,317.95 L289.49,317.89 L290.23,317.83 L290.96,317.76 L291.7,317.66 L292.44,317.56 L293.18,317.42 L293.92,317.27 L294.66,317.08 L295.39,316.85 L296.13,316.58 L296.87,316.25 L297.61,315.87 L298.35,315.41 L299.09,314.87 L299.82,314.23 L300.56,313.49 L301.3,312.62 L302.04,311.62 L302.78,310.47 L303.52,309.16 L304.25,307.7 L304.99,306.06 L305.73,304.27 L306.47,302.34 L307.21,300.27 L307.94,298.11 L308.68,295.88 L309.42,293.62 L310.16,291.38 L310.9,289.19 L311.64,287.09 L312.37,285.1 L313.11,283.26 L313.85,281.57 L314.59,280.04 L315.33,278.67 L316.07,277.47 L316.8,276.42 L317.54,275.5 L318.28,274.71 L319.02,274.04 L319.76,273.47 L320.5,272.98 L321.23,272.57 L321.97,272.22 L322.71,271.93 L323.45,271.69 L324.19,271.49 L324.93,271.32 L325.66,271.18 L326.4,271.06 L327.14,270.97 L327.88,270.89 L328.62,270.82 L329.35,270.76 L330.09,270.72 L330.83,270.68 L331.57,270.65 L332.31,270.62" fill="none" stroke="#5aaae6" stroke-width="1.3"/>
<path d="M288.75,315.76V319.16M287.35,315.76H290.15M287.35,319.16H290.15" stroke="#444" stroke-width="0.7"/>
<circle cx="288.75" cy="317.46" r="1.5" fill="#5aaae6"/>
<path d="M293.51,316.48V319.88M292.11,316.48H294.91M292.11,319.88H294.91" stroke="#444" stroke-width="0.7"/>
<circle cx="293.51" cy="318.18" r="1.5" fill="#5aaae6"/>
<path d="M298.41,312.16V315.56M297.01,312.16H299.81M297.01,315.56H299.81" stroke="#444" stroke-width="0.7"/>
<circle cx="298.41" cy="313.86" r="1.5" fill="#5aaae6"/>
<path d="M303.46,309.99V313.39M302.06,309.99H304.86M302.06,313.39H304.86" stroke="#444" stroke-width="0.7"/>
<circle cx="303.46" cy="311.69" r="1.5" fill="#5aaae6"/>
<path d="M308.22,293.41V296.81M306.82,293.41H309.62M306.82,296.81H309.62" stroke="#444" stroke-width="0.7"/>
<circle cx="308.22" cy="295.11" r="1.5" fill="#5aaae6"/>
<path d="M312.98,283.31V286.71M311.58,283.31H314.38M311.58,286.71H314.38" stroke="#444" stroke-width="0.7"/>
<circle cx="312.98" cy="285.01" r="1.5" fill="#5aaae6"/>
<path d="M317.88,272.49V275.89M316.48,272.49H319.28M316.48,275.89H319.28" stroke="#444" stroke-width="0.7"/>
<circle cx="317.88" cy="274.19" r="1.5" fill="#5aaae6"/>
<path d="M322.64,271.05V274.45M321.24,271.05H324.04M321.24,274.45H324.04" stroke="#444" stroke-width="0.7"/>
<circle cx="322.64" cy="272.75" r="1.5" fill="#5aaae6"/>
<path d="M327.4,271.05V274.45M326,271.05H328.8M326,274.45H328.8" stroke="#444" stroke-width="0.7"/>
<circle cx="327.4" cy="272.75" r="1.5" fill="#5aaae6"/>
<path d="M332.31,266.72V270.12M330.91,266.72H333.71M330.91,270.12H333.71" stroke="#444" stroke-width="0.7"/>
<circle cx="332.31" cy="268.42" r="1.5" fill="#5aaae6"/>
<path d="M288.75,319.1 L289.49,318.9 L290.23,318.65 L290.96,318.37 L291.7,318.04 L292.44,317.65 L293.18,317.21 L293.92,316.68 L294.66,316.08 L295.39,315.39 L296.13,314.59 L296.87,313.69 L297.61,312.65 L298.35,311.49 L299.09,310.18 L299.82,308.72 L300.56,307.11 L301.3,305.34 L302.04,303.43 L302.78,301.39 L303.52,299.22 L304.25,296.96 L304.99,294.62 L305.73,292.24 L306.47,289.85 L307.21,287.47 L307.94,285.15 L308.68,282.92 L309.42,280.79 L310.16,278.78 L310.9,276.92 L311.64,275.2 L312.37,273.64 L313.11,272.23 L313.85,270.96 L314.59,269.84 L315.33,268.84 L316.07,267.97 L316.8,267.21 L317.54,266.54 L318.28,265.97 L319.02,265.47 L319.76,265.04 L320.5,264.68 L321.23,264.36 L321.97,264.09 L322.71,263.86 L323.45,263.66 L324.19,263.49 L324.93,263.35 L325.66,263.23 L326.4,263.12 L327.14,263.04 L327.88,262.96 L328.62,262.9 L329.35,262.84 L330.09,262.8 L330.83,262.76 L331.57,262.73 L332.31,262.7" fill="none" stroke="#8a7cc6" stroke-width="1.3"/>
<path d="M288.75,317.93V321.32M287.35,317.93H290.15M287.35,321.32H290.15" stroke="#444" stroke-width="0.7"/>
<circle cx="288.75" cy="319.62" r="1.5" fill="#8a7cc6"/>
<path d="M293.51,315.76V319.16M292.11,315.76H294.91M292.11,319.16H294.91" stroke="#444" stroke-width="0.7"/>
<circle cx="293.51" cy="317.46" r="1.5" fill="#8a7cc6"/>
<path d="M298.41,307.83V311.23M297.01,307.83H299.81M297.01,311.23H299.81" stroke="#444" stroke-width="0.7"/>
<circle cx="298.41" cy="309.53" r="1.5" fill="#8a7cc6"/>
<path d="M303.46,298.45V301.85M302.06,298.45H304.86M302.06,301.85H304.86" stroke="#444" stroke-width="0.7"/>
<circle cx="303.46" cy="300.15" r="1.5" fill="#8a7cc6"/>
<path d="M308.22,283.31V286.71M306.82,283.31H309.62M306.82,286.71H309.62" stroke="#444" stroke-width="0.7"/>
<circle cx="308.22" cy="285.01" r="1.5" fill="#8a7cc6"/>
<path d="M312.98,270.33V273.73M311.58,270.33H314.38M311.58,273.73H314.38" stroke="#444" stroke-width="0.7"/>
<circle cx="312.98" cy="272.03" r="1.5" fill="#8a7cc6"/>
<path d="M317.88,263.12V266.52M316.48,263.12H319.28M316.48,266.52H319.28" stroke="#444" stroke-width="0.7"/>
<circle cx="317.88" cy="264.82" r="1.5" fill="#8a7cc6"/>
<path d="M322.64,262.4V265.8M321.24,262.4H324.04M321.24,265.8H324.04" stroke="#444" stroke-width="0.7"/>
<circle cx="322.64" cy="264.1" r="1.5" fill="#8a7cc6"/>
<path d="M327.4,262.11V265.51M326,262.11H328.8M326,265.51H328.8" stroke="#444" stroke-width="0.7"/>
<circle cx="327.4" cy="263.81" r="1.5" fill="#8a7cc6"/>
<path d="M332.31,261.24V264.64M330.91,261.24H333.71M330.91,264.64H333.71" stroke="#444" stroke-width="0.7"/>
<circle cx="332.31" cy="262.94" r="1.5" fill="#8a7cc6"/>
</g>
<rect x="397.3" y="260.2" width="14.5" height="64.5" fill="#e0e0e2"/>
<text x="386.6" y="250.85" font-size="10.2" textLength="52.5" lengthAdjust="spacingAndGlyphs" fill="#1a1a1a" stroke="#1a1a1a" stroke-width="0.22">Selumetinib</text>
<path d="M375.2,324.7H379.1" stroke="#262626" stroke-width="1.35"/>
<text x="361.7" y="327.55" font-size="8" textLength="10.3" lengthAdjust="spacingAndGlyphs" fill="#222" stroke="#222" stroke-width="0.22">0.0</text>
<path d="M375.2,311.8H379.1" stroke="#262626" stroke-width="1.35"/>
<text x="361.7" y="314.65" font-size="8" textLength="10.3" lengthAdjust="spacingAndGlyphs" fill="#222" stroke="#222" stroke-width="0.22">0.2</text>
<path d="M375.2,298.9H379.1" stroke="#262626" stroke-width="1.35"/>
<text x="361.7" y="301.75" font-size="8" textLength="10.3" lengthAdjust="spacingAndGlyphs" fill="#222" stroke="#222" stroke-width="0.22">0.4</text>
<path d="M375.2,286H379.1" stroke="#262626" stroke-width="1.35"/>
<text x="361.7" y="288.85" font-size="8" textLength="10.3" lengthAdjust="spacingAndGlyphs" fill="#222" stroke="#222" stroke-width="0.22">0.6</text>
<path d="M375.2,273.1H379.1" stroke="#262626" stroke-width="1.35"/>
<text x="361.7" y="275.95" font-size="8" textLength="10.3" lengthAdjust="spacingAndGlyphs" fill="#222" stroke="#222" stroke-width="0.22">0.8</text>
<path d="M375.2,260.2H379.1" stroke="#262626" stroke-width="1.35"/>
<text x="361.7" y="263.05" font-size="8" textLength="10.3" lengthAdjust="spacingAndGlyphs" fill="#222" stroke="#222" stroke-width="0.22">1.0</text>
<path d="M379.1,324.7V328" stroke="#262626" stroke-width="1.35"/>
<text x="373.57" y="337.9" font-size="6.8" textLength="7.5" lengthAdjust="spacingAndGlyphs" fill="#222" stroke="#222" stroke-width="0.22">10</text>
<text x="381.47" y="334.8" font-size="4.8" textLength="4.05" lengthAdjust="spacingAndGlyphs" fill="#222" stroke="#222" stroke-width="0.22">-9</text>
<path d="M395.15,324.7V328" stroke="#262626" stroke-width="1.35"/>
<text x="389.62" y="337.9" font-size="6.8" textLength="7.5" lengthAdjust="spacingAndGlyphs" fill="#222" stroke="#222" stroke-width="0.22">10</text>
<text x="397.52" y="334.8" font-size="4.8" textLength="4.05" lengthAdjust="spacingAndGlyphs" fill="#222" stroke="#222" stroke-width="0.22">-8</text>
<path d="M411.2,324.7V328" stroke="#262626" stroke-width="1.35"/>
<text x="405.67" y="337.9" font-size="6.8" textLength="7.5" lengthAdjust="spacingAndGlyphs" fill="#222" stroke="#222" stroke-width="0.22">10</text>
<text x="413.57" y="334.8" font-size="4.8" textLength="4.05" lengthAdjust="spacingAndGlyphs" fill="#222" stroke="#222" stroke-width="0.22">-7</text>
<path d="M427.25,324.7V328" stroke="#262626" stroke-width="1.35"/>
<text x="421.72" y="337.9" font-size="6.8" textLength="7.5" lengthAdjust="spacingAndGlyphs" fill="#222" stroke="#222" stroke-width="0.22">10</text>
<text x="429.62" y="334.8" font-size="4.8" textLength="4.05" lengthAdjust="spacingAndGlyphs" fill="#222" stroke="#222" stroke-width="0.22">-6</text>
<path d="M443.3,324.7V328" stroke="#262626" stroke-width="1.35"/>
<text x="437.77" y="337.9" font-size="6.8" textLength="7.5" lengthAdjust="spacingAndGlyphs" fill="#222" stroke="#222" stroke-width="0.22">10</text>
<text x="445.67" y="334.8" font-size="4.8" textLength="4.05" lengthAdjust="spacingAndGlyphs" fill="#222" stroke="#222" stroke-width="0.22">-5</text>
<path d="M379.1,256.9V324.7H446.6" fill="none" stroke="#262626" stroke-width="1.8"/>
<clipPath id="cp12"><rect x="379.8" y="254.2" width="71.5" height="70.1"/></clipPath>
<g clip-path="url(#cp12)">
<path d="M383.5,324.43 L384.24,324.43 L384.98,324.43 L385.72,324.43 L386.46,324.43 L387.2,324.43 L387.94,324.43 L388.68,324.43 L389.43,324.43 L390.17,324.43 L390.91,324.43 L391.65,324.43 L392.39,324.43 L393.13,324.43 L393.87,324.43 L394.61,324.43 L395.35,324.43 L396.09,324.43 L396.83,324.43 L397.57,324.43 L398.31,324.43 L399.05,324.43 L399.8,324.43 L400.54,324.43 L401.28,324.43 L402.02,324.43 L402.76,324.43 L403.5,324.43 L404.24,324.43 L404.98,324.43 L405.72,324.43 L406.46,324.43 L407.2,324.43 L407.94,324.43 L408.68,324.43 L409.42,324.43 L410.17,324.43 L410.91,324.43 L411.65,324.36 L412.39,321.34 L413.13,319.37 L413.87,319.34 L414.61,319.34 L415.35,319.34 L416.09,319.34 L416.83,319.34 L417.57,319.34 L418.31,319.34 L419.05,319.34 L419.79,319.34 L420.54,319.34 L421.28,319.34 L422.02,319.34 L422.76,319.34 L423.5,319.34 L424.24,319.34 L424.98,319.34 L425.72,319.34 L426.46,319.34 L427.2,319.34" fill="none" stroke="#e58d16" stroke-width="1.3"/>
<path d="M383.5,322.97V326.37M382.1,322.97H384.9M382.1,326.37H384.9" stroke="#444" stroke-width="0.7"/>
<circle cx="383.5" cy="324.67" r="1.5" fill="#e58d16"/>
<path d="M388.55,322.68V326.08M387.15,322.68H389.95M387.15,326.08H389.95" stroke="#444" stroke-width="0.7"/>
<circle cx="388.55" cy="324.38" r="1.5" fill="#e58d16"/>
<path d="M393.31,321.82V325.22M391.91,321.82H394.71M391.91,325.22H394.71" stroke="#444" stroke-width="0.7"/>
<circle cx="393.31" cy="323.52" r="1.5" fill="#e58d16"/>
<path d="M398.07,322.68V326.08M396.67,322.68H399.47M396.67,326.08H399.47" stroke="#444" stroke-width="0.7"/>
<circle cx="398.07" cy="324.38" r="1.5" fill="#e58d16"/>
<path d="M402.97,322.97V326.37M401.57,322.97H404.37M401.57,326.37H404.37" stroke="#444" stroke-width="0.7"/>
<circle cx="402.97" cy="324.67" r="1.5" fill="#e58d16"/>
<path d="M407.73,323.26V326.66M406.33,323.26H409.13M406.33,326.66H409.13" stroke="#444" stroke-width="0.7"/>
<circle cx="407.73" cy="324.96" r="1.5" fill="#e58d16"/>
<path d="M412.49,318.93V322.33M411.09,318.93H413.89M411.09,322.33H413.89" stroke="#444" stroke-width="0.7"/>
<circle cx="412.49" cy="320.63" r="1.5" fill="#e58d16"/>
<path d="M417.39,314.61V318.01M415.99,314.61H418.79M415.99,318.01H418.79" stroke="#444" stroke-width="0.7"/>
<circle cx="417.39" cy="316.31" r="1.5" fill="#e58d16"/>
<path d="M422.15,318.93V322.33M420.75,318.93H423.55M420.75,322.33H423.55" stroke="#444" stroke-width="0.7"/>
<circle cx="422.15" cy="320.63" r="1.5" fill="#e58d16"/>
<path d="M427.2,319.37V322.77M425.8,319.37H428.6M425.8,322.77H428.6" stroke="#444" stroke-width="0.7"/>
<circle cx="427.2" cy="321.07" r="1.5" fill="#e58d16"/>
<path d="M383.5,321.54 L384.24,321.53 L384.98,321.51 L385.72,321.5 L386.46,321.48 L387.2,321.46 L387.94,321.43 L388.68,321.39 L389.43,321.35 L390.17,321.3 L390.91,321.24 L391.65,321.17 L392.39,321.08 L393.13,320.97 L393.87,320.84 L394.61,320.68 L395.35,320.5 L396.09,320.28 L396.83,320.02 L397.57,319.72 L398.31,319.36 L399.05,318.96 L399.8,318.5 L400.54,317.98 L401.28,317.41 L402.02,316.78 L402.76,316.11 L403.5,315.4 L404.24,314.68 L404.98,313.94 L405.72,313.2 L406.46,312.49 L407.2,311.81 L407.94,311.17 L408.68,310.58 L409.42,310.05 L410.17,309.57 L410.91,309.15 L411.65,308.78 L412.39,308.47 L413.13,308.2 L413.87,307.97 L414.61,307.77 L415.35,307.61 L416.09,307.47 L416.83,307.36 L417.57,307.26 L418.31,307.19 L419.05,307.12 L419.79,307.07 L420.54,307.02 L421.28,306.99 L422.02,306.96 L422.76,306.93 L423.5,306.91 L424.24,306.9 L424.98,306.88 L425.72,306.87 L426.46,306.86 L427.2,306.86" fill="none" stroke="#8a7cc6" stroke-width="1.3"/>
<path d="M383.5,320.81V324.21M382.1,320.81H384.9M382.1,324.21H384.9" stroke="#444" stroke-width="0.7"/>
<circle cx="383.5" cy="322.51" r="1.5" fill="#8a7cc6"/>
<path d="M388.55,319.37V322.77M387.15,319.37H389.95M387.15,322.77H389.95" stroke="#444" stroke-width="0.7"/>
<circle cx="388.55" cy="321.07" r="1.5" fill="#8a7cc6"/>
<path d="M393.31,318.36V321.76M391.91,318.36H394.71M391.91,321.76H394.71" stroke="#444" stroke-width="0.7"/>
<circle cx="393.31" cy="320.06" r="1.5" fill="#8a7cc6"/>
<path d="M398.07,317.93V321.32M396.67,317.93H399.47M396.67,321.32H399.47" stroke="#444" stroke-width="0.7"/>
<circle cx="398.07" cy="319.62" r="1.5" fill="#8a7cc6"/>
<path d="M402.97,314.32V317.72M401.57,314.32H404.37M401.57,317.72H404.37" stroke="#444" stroke-width="0.7"/>
<circle cx="402.97" cy="316.02" r="1.5" fill="#8a7cc6"/>
<path d="M407.73,309.99V313.39M406.33,309.99H409.13M406.33,313.39H409.13" stroke="#444" stroke-width="0.7"/>
<circle cx="407.73" cy="311.69" r="1.5" fill="#8a7cc6"/>
<path d="M412.49,305.67V309.07M411.09,305.67H413.89M411.09,309.07H413.89" stroke="#444" stroke-width="0.7"/>
<circle cx="412.49" cy="307.37" r="1.5" fill="#8a7cc6"/>
<path d="M417.39,306.39V309.79M415.99,306.39H418.79M415.99,309.79H418.79" stroke="#444" stroke-width="0.7"/>
<circle cx="417.39" cy="308.09" r="1.5" fill="#8a7cc6"/>
<path d="M422.15,305.38V308.78M420.75,305.38H423.55M420.75,308.78H423.55" stroke="#444" stroke-width="0.7"/>
<circle cx="422.15" cy="307.08" r="1.5" fill="#8a7cc6"/>
<path d="M427.2,304.94V308.34M425.8,304.94H428.6M425.8,308.34H428.6" stroke="#444" stroke-width="0.7"/>
<circle cx="427.2" cy="306.64" r="1.5" fill="#8a7cc6"/>
<path d="M383.5,317.21 L384.24,317.21 L384.98,317.21 L385.72,317.21 L386.46,317.21 L387.2,317.21 L387.94,317.21 L388.68,317.21 L389.43,317.2 L390.17,317.2 L390.91,317.2 L391.65,317.2 L392.39,317.2 L393.13,317.2 L393.87,317.19 L394.61,317.18 L395.35,317.17 L396.09,317.15 L396.83,317.13 L397.57,317.09 L398.31,317.03 L399.05,316.94 L399.8,316.8 L400.54,316.61 L401.28,316.33 L402.02,315.94 L402.76,315.4 L403.5,314.69 L404.24,313.82 L404.98,312.81 L405.72,311.72 L406.46,310.64 L407.2,309.66 L407.94,308.84 L408.68,308.18 L409.42,307.69 L410.17,307.33 L410.91,307.08 L411.65,306.91 L412.39,306.79 L413.13,306.71 L413.87,306.66 L414.61,306.62 L415.35,306.6 L416.09,306.58 L416.83,306.57 L417.57,306.57 L418.31,306.56 L419.05,306.56 L419.79,306.56 L420.54,306.55 L421.28,306.55 L422.02,306.55 L422.76,306.55 L423.5,306.55 L424.24,306.55 L424.98,306.55 L425.72,306.55 L426.46,306.55 L427.2,306.55" fill="none" stroke="#5aaae6" stroke-width="1.3"/>
<path d="M383.5,315.04V318.44M382.1,315.04H384.9M382.1,318.44H384.9" stroke="#444" stroke-width="0.7"/>
<circle cx="383.5" cy="316.74" r="1.5" fill="#5aaae6"/>
<path d="M388.55,315.04V318.44M387.15,315.04H389.95M387.15,318.44H389.95" stroke="#444" stroke-width="0.7"/>
<circle cx="388.55" cy="316.74" r="1.5" fill="#5aaae6"/>
<path d="M393.31,314.32V317.72M391.91,314.32H394.71M391.91,317.72H394.71" stroke="#444" stroke-width="0.7"/>
<circle cx="393.31" cy="316.02" r="1.5" fill="#5aaae6"/>
<path d="M398.07,317.93V321.32M396.67,317.93H399.47M396.67,321.32H399.47" stroke="#444" stroke-width="0.7"/>
<circle cx="398.07" cy="319.62" r="1.5" fill="#5aaae6"/>
<path d="M402.97,312.88V316.28M401.57,312.88H404.37M401.57,316.28H404.37" stroke="#444" stroke-width="0.7"/>
<circle cx="402.97" cy="314.58" r="1.5" fill="#5aaae6"/>
<path d="M407.73,307.83V311.23M406.33,307.83H409.13M406.33,311.23H409.13" stroke="#444" stroke-width="0.7"/>
<circle cx="407.73" cy="309.53" r="1.5" fill="#5aaae6"/>
<path d="M412.49,303.93V307.33M411.09,303.93H413.89M411.09,307.33H413.89" stroke="#444" stroke-width="0.7"/>
<circle cx="412.49" cy="305.63" r="1.5" fill="#5aaae6"/>
<path d="M417.39,304.51V307.91M415.99,304.51H418.79M415.99,307.91H418.79" stroke="#444" stroke-width="0.7"/>
<circle cx="417.39" cy="306.21" r="1.5" fill="#5aaae6"/>
<path d="M422.15,304.51V307.91M420.75,304.51H423.55M420.75,307.91H423.55" stroke="#444" stroke-width="0.7"/>
<circle cx="422.15" cy="306.21" r="1.5" fill="#5aaae6"/>
<path d="M427.2,306.39V309.79M425.8,306.39H428.6M425.8,309.79H428.6" stroke="#444" stroke-width="0.7"/>
<circle cx="427.2" cy="308.09" r="1.5" fill="#5aaae6"/>
<path d="M383.5,320.93 L384.24,320.93 L384.98,320.92 L385.72,320.91 L386.46,320.9 L387.2,320.89 L387.94,320.87 L388.68,320.86 L389.43,320.84 L390.17,320.81 L390.91,320.79 L391.65,320.75 L392.39,320.71 L393.13,320.66 L393.87,320.6 L394.61,320.54 L395.35,320.45 L396.09,320.36 L396.83,320.25 L397.57,320.11 L398.31,319.96 L399.05,319.77 L399.8,319.56 L400.54,319.32 L401.28,319.03 L402.02,318.71 L402.76,318.34 L403.5,317.93 L404.24,317.47 L404.98,316.96 L405.72,316.4 L406.46,315.81 L407.2,315.17 L407.94,314.51 L408.68,313.84 L409.42,313.15 L410.17,312.46 L410.91,311.79 L411.65,311.14 L412.39,310.53 L413.13,309.95 L413.87,309.42 L414.61,308.93 L415.35,308.49 L416.09,308.1 L416.83,307.75 L417.57,307.44 L418.31,307.18 L419.05,306.95 L419.79,306.75 L420.54,306.58 L421.28,306.44 L422.02,306.31 L422.76,306.21 L423.5,306.12 L424.24,306.04 L424.98,305.98 L425.72,305.93 L426.46,305.88 L427.2,305.84" fill="none" stroke="#1d3a7a" stroke-width="1.3"/>
<path d="M383.5,319.37V322.77M382.1,319.37H384.9M382.1,322.77H384.9" stroke="#444" stroke-width="0.7"/>
<circle cx="383.5" cy="321.07" r="1.5" fill="#1d3a7a"/>
<path d="M388.55,318.93V322.33M387.15,318.93H389.95M387.15,322.33H389.95" stroke="#444" stroke-width="0.7"/>
<circle cx="388.55" cy="320.63" r="1.5" fill="#1d3a7a"/>
<path d="M393.31,318.65V322.05M391.91,318.65H394.71M391.91,322.05H394.71" stroke="#444" stroke-width="0.7"/>
<circle cx="393.31" cy="320.35" r="1.5" fill="#1d3a7a"/>
<path d="M398.07,318.36V321.76M396.67,318.36H399.47M396.67,321.76H399.47" stroke="#444" stroke-width="0.7"/>
<circle cx="398.07" cy="320.06" r="1.5" fill="#1d3a7a"/>
<path d="M402.97,317.2V320.6M401.57,317.2H404.37M401.57,320.6H404.37" stroke="#444" stroke-width="0.7"/>
<circle cx="402.97" cy="318.9" r="1.5" fill="#1d3a7a"/>
<path d="M407.73,312.88V316.28M406.33,312.88H409.13M406.33,316.28H409.13" stroke="#444" stroke-width="0.7"/>
<circle cx="407.73" cy="314.58" r="1.5" fill="#1d3a7a"/>
<path d="M412.49,307.83V311.23M411.09,307.83H413.89M411.09,311.23H413.89" stroke="#444" stroke-width="0.7"/>
<circle cx="412.49" cy="309.53" r="1.5" fill="#1d3a7a"/>
<path d="M417.39,306.82V310.22M415.99,306.82H418.79M415.99,310.22H418.79" stroke="#444" stroke-width="0.7"/>
<circle cx="417.39" cy="308.52" r="1.5" fill="#1d3a7a"/>
<path d="M422.15,305.67V309.07M420.75,305.67H423.55M420.75,309.07H423.55" stroke="#444" stroke-width="0.7"/>
<circle cx="422.15" cy="307.37" r="1.5" fill="#1d3a7a"/>
<path d="M427.2,302.78V306.18M425.8,302.78H428.6M425.8,306.18H428.6" stroke="#444" stroke-width="0.7"/>
<circle cx="427.2" cy="304.48" r="1.5" fill="#1d3a7a"/>
</g>
<path d="M467.2,36.1H481.9" stroke="#1d3a7a" stroke-width="1.3"/><circle cx="474.6" cy="36.1" r="2.5" fill="#1d3a7a"/>
<text x="486.1" y="38.25" font-size="6.2" textLength="16" lengthAdjust="spacingAndGlyphs" fill="#333" stroke="#333" stroke-width="0.22">HBL-1</text>
<path d="M467.2,46.27H481.9" stroke="#8a7cc6" stroke-width="1.3"/><circle cx="474.6" cy="46.27" r="2.5" fill="#8a7cc6"/>
<text x="486.1" y="48.42" font-size="6.2" textLength="16.6" lengthAdjust="spacingAndGlyphs" fill="#333" stroke="#333" stroke-width="0.22">TMD8</text>
<path d="M467.2,56.44H481.9" stroke="#5aaae6" stroke-width="1.3"/><circle cx="474.6" cy="56.44" r="2.5" fill="#5aaae6"/>
<text x="486.1" y="58.59" font-size="6.2" textLength="26.2" lengthAdjust="spacingAndGlyphs" fill="#333" stroke="#333" stroke-width="0.22">OCI-Ly10</text>
<path d="M467.2,66.61H481.9" stroke="#e58d16" stroke-width="1.3"/><circle cx="474.6" cy="66.61" r="2.5" fill="#e58d16"/>
<text x="486.1" y="68.76" font-size="6.2" textLength="22.2" lengthAdjust="spacingAndGlyphs" fill="#333" stroke="#333" stroke-width="0.22">OCI-Ly3</text>
<path d="M36.5,45V347.4H443" fill="none" stroke="#222" stroke-width="1.2"/>
<path d="M36.5,40.9L33.4,47.6L36.5,46.2L39.6,47.6Z" fill="#111"/>
<path d="M447,347.4L440.1,344.3L441.6,347.4L440.1,350.5Z" fill="#111"/>
<text transform="translate(30.6,339.6) rotate(-90)" x="0" y="0" font-size="10" textLength="125" lengthAdjust="spacingAndGlyphs" fill="#1a1a1a" stroke="#1a1a1a" stroke-width="0.22">Growth inhibition (fraction affected)</text>
<text x="44" y="359.4" font-size="10" textLength="65" lengthAdjust="spacingAndGlyphs" fill="#1a1a1a" stroke="#1a1a1a" stroke-width="0.22">Log [inhibitor], (M)</text>
<rect x="99.8" y="441.2" width="70" height="85" fill="#fdfadf"/>
<rect x="171.6" y="441.2" width="23.2" height="85" fill="#f7e8e9"/>
<rect x="197.1" y="441.2" width="118" height="85" fill="#e8f0da"/>
<rect x="316.8" y="441.2" width="23" height="85" fill="#eef5fd"/>
<text transform="translate(113,519.6) rotate(-90)" x="0" y="0" font-size="9.4" textLength="46.6" lengthAdjust="spacingAndGlyphs" fill="#42412a" stroke="#42412a" stroke-width="0.22">PRT062607</text>
<text transform="translate(137.2,519.6) rotate(-90)" x="0" y="0" font-size="9.4" textLength="35.1" lengthAdjust="spacingAndGlyphs" fill="#42412a" stroke="#42412a" stroke-width="0.22">Ibrutinib</text>
<text transform="translate(161.4,519.6) rotate(-90)" x="0" y="0" font-size="9.4" textLength="50" lengthAdjust="spacingAndGlyphs" fill="#42412a" stroke="#42412a" stroke-width="0.22">Sotrastaurin</text>
<text transform="translate(185.6,519.6) rotate(-90)" x="0" y="0" font-size="9.4" textLength="49.5" lengthAdjust="spacingAndGlyphs" fill="#45343a" stroke="#45343a" stroke-width="0.22">Selumetinib</text>
<text transform="translate(209.8,519.6) rotate(-90)" x="0" y="0" font-size="9.4" textLength="36" lengthAdjust="spacingAndGlyphs" fill="#38452c" stroke="#38452c" stroke-width="0.22">BKM120</text>
<text transform="translate(234,519.6) rotate(-90)" x="0" y="0" font-size="9.4" textLength="43.3" lengthAdjust="spacingAndGlyphs" fill="#38452c" stroke="#38452c" stroke-width="0.22">GDC-0941</text>
<text transform="translate(258.2,519.6) rotate(-90)" x="0" y="0" font-size="9.4" textLength="30.3" lengthAdjust="spacingAndGlyphs" fill="#38452c" stroke="#38452c" stroke-width="0.22">BYL719</text>
<text transform="translate(282.4,519.6) rotate(-90)" x="0" y="0" font-size="9.4" textLength="34.6" lengthAdjust="spacingAndGlyphs" fill="#38452c" stroke="#38452c" stroke-width="0.22">CAL-101</text>
<text transform="translate(306.6,519.6) rotate(-90)" x="0" y="0" font-size="9.4" textLength="34.6" lengthAdjust="spacingAndGlyphs" fill="#38452c" stroke="#38452c" stroke-width="0.22">MK2206</text>
<text transform="translate(330.8,519.6) rotate(-90)" x="0" y="0" font-size="9.4" textLength="59.1" lengthAdjust="spacingAndGlyphs" fill="#323b48" stroke="#323b48" stroke-width="0.22">Compound 26</text>
<text transform="translate(113.9,436.8) rotate(-90)" x="0" y="0" font-size="9.8" textLength="16.4" lengthAdjust="spacingAndGlyphs" fill="#222" stroke="#222" stroke-width="0.22">SYK</text>
<text transform="translate(138.1,436.8) rotate(-90)" x="0" y="0" font-size="9.8" textLength="16.1" lengthAdjust="spacingAndGlyphs" fill="#222" stroke="#222" stroke-width="0.22">BTK</text>
<text transform="translate(162.3,436.8) rotate(-90)" x="0" y="0" font-size="9.8" textLength="17.3" lengthAdjust="spacingAndGlyphs" fill="#222" stroke="#222" stroke-width="0.22">PKC</text>
<text transform="translate(186.5,436.8) rotate(-90)" x="0" y="0" font-size="9.8" textLength="18.5" lengthAdjust="spacingAndGlyphs" fill="#222" stroke="#222" stroke-width="0.22">MEK</text>
<text transform="translate(210.7,436.8) rotate(-90)" x="0" y="0" font-size="9.8" textLength="13.8" lengthAdjust="spacingAndGlyphs" fill="#222" stroke="#222" stroke-width="0.22">pan</text>
<text transform="translate(234.9,436.8) rotate(-90)" x="0" y="0" font-size="9.4" textLength="12.2" lengthAdjust="spacingAndGlyphs" fill="#222" stroke="#222" stroke-width="0.22" font-family="Liberation Serif" font-style="italic">α/δ</text>
<text transform="translate(259.1,436.8) rotate(-90)" x="0" y="0" font-size="9.4" textLength="4.8" lengthAdjust="spacingAndGlyphs" fill="#222" stroke="#222" stroke-width="0.22" font-family="Liberation Serif" font-style="italic">α</text>
<text transform="translate(283.3,436.8) rotate(-90)" x="0" y="0" font-size="9.4" textLength="4.8" lengthAdjust="spacingAndGlyphs" fill="#222" stroke="#222" stroke-width="0.22" font-family="Liberation Serif" font-style="italic">δ</text>
<text transform="translate(307.5,436.8) rotate(-90)" x="0" y="0" font-size="9.8" textLength="15.4" lengthAdjust="spacingAndGlyphs" fill="#222" stroke="#222" stroke-width="0.22">AKT</text>
<text transform="translate(331.7,436.8) rotate(-90)" x="0" y="0" font-size="9.8" textLength="24.4" lengthAdjust="spacingAndGlyphs" fill="#222" stroke="#222" stroke-width="0.22">IRAK4</text>
<text x="57.6" y="406" font-size="9.6" textLength="36.7" lengthAdjust="spacingAndGlyphs" fill="#222" stroke="#222" stroke-width="0.22">Pathway:</text>
<text x="59.9" y="437.9" font-size="9.6" textLength="34.4" lengthAdjust="spacingAndGlyphs" fill="#222" stroke="#222" stroke-width="0.22">Enzyme:</text>
<text x="71" y="521.4" font-size="9.6" textLength="23.6" lengthAdjust="spacingAndGlyphs" fill="#222" stroke="#222" stroke-width="0.22">Drug:</text>
<path d="M106,403.2H119.6" stroke="#555" stroke-width="1.2"/>
<path d="M151,403.2H165" stroke="#555" stroke-width="1.2"/>
<path d="M200.4,403.2H240" stroke="#555" stroke-width="1.2"/>
<path d="M270.7,403.2H309.8" stroke="#555" stroke-width="1.2"/>
<text x="126" y="406" font-size="9.6" textLength="17" lengthAdjust="spacingAndGlyphs" fill="#222" stroke="#222" stroke-width="0.22">BCR</text>
<text x="170.6" y="406" font-size="9.6" textLength="26.1" lengthAdjust="spacingAndGlyphs" fill="#222" stroke="#222" stroke-width="0.22">MAPK</text>
<text x="246.3" y="406" font-size="9.6" textLength="18.7" lengthAdjust="spacingAndGlyphs" fill="#222" stroke="#222" stroke-width="0.22">PI3K</text>
<text x="320.4" y="406" font-size="9.6" textLength="15.9" lengthAdjust="spacingAndGlyphs" fill="#222" stroke="#222" stroke-width="0.22">TLR</text>
<text x="70.1" y="541.85" font-size="9.3" textLength="23.9" lengthAdjust="spacingAndGlyphs" fill="#222" stroke="#222" stroke-width="0.22">HBL-1</text>
<text x="69" y="566" font-size="9.3" textLength="25.7" lengthAdjust="spacingAndGlyphs" fill="#222" stroke="#222" stroke-width="0.22">TMD8</text>
<text x="55.8" y="590.2" font-size="9.3" textLength="38.9" lengthAdjust="spacingAndGlyphs" fill="#222" stroke="#222" stroke-width="0.22">OCI-Ly10</text>
<text x="61.2" y="614.4" font-size="9.3" textLength="33.5" lengthAdjust="spacingAndGlyphs" fill="#222" stroke="#222" stroke-width="0.22">OCI-Ly3</text>
<text x="70.1" y="649.5" font-size="9.3" textLength="23.9" lengthAdjust="spacingAndGlyphs" fill="#222" stroke="#222" stroke-width="0.22">HBL-1</text>
<text x="69" y="673.7" font-size="9.3" textLength="25.7" lengthAdjust="spacingAndGlyphs" fill="#222" stroke="#222" stroke-width="0.22">TMD8</text>
<text x="55.8" y="697.9" font-size="9.3" textLength="38.9" lengthAdjust="spacingAndGlyphs" fill="#222" stroke="#222" stroke-width="0.22">OCI-Ly10</text>
<text x="61.2" y="722.1" font-size="9.3" textLength="33.5" lengthAdjust="spacingAndGlyphs" fill="#222" stroke="#222" stroke-width="0.22">OCI-Ly3</text>
<path d="M55.5,526.9H47.4Q44.4,526.9 44.4,529.9V620.3Q44.4,623.3 47.4,623.3H55.5" fill="none" stroke="#333" stroke-width="1"/>
<text x="25.85" y="578.4" font-size="10" textLength="11.3" lengthAdjust="spacingAndGlyphs" fill="#222" stroke="#222" stroke-width="0.22">C3</text>
<path d="M55.5,634.4H47.4Q44.4,634.4 44.4,637.4V728Q44.4,731 47.4,731H55.5" fill="none" stroke="#333" stroke-width="1"/>
<text x="22.15" y="685.8" font-size="10" textLength="18.7" lengthAdjust="spacingAndGlyphs" fill="#222" stroke="#222" stroke-width="0.22">MI-2</text>
<defs><linearGradient id="cb" x1="0" y1="0" x2="0" y2="1"><stop offset="0" stop-color="#c81c1e"/><stop offset="0.25" stop-color="#c25a5e"/><stop offset="0.53" stop-color="#bcbcbc"/><stop offset="0.75" stop-color="#686868"/><stop offset="1" stop-color="#0e0e0e"/></linearGradient></defs>
<rect x="375.1" y="525.5" width="15.1" height="96.9" fill="url(#cb)" stroke="#3a3a3a" stroke-width="0.5"/>
<path d="M375.1,550.3H377.4M387.9,550.3H390.2" stroke="#222" stroke-width="1"/>
<path d="M375.1,574.4H377.4M387.9,574.4H390.2" stroke="#222" stroke-width="1"/>
<path d="M375.1,598.5H377.4M387.9,598.5H390.2" stroke="#222" stroke-width="1"/>
<text x="366.07" y="529.6" font-size="9.6" textLength="5.23" lengthAdjust="spacingAndGlyphs" fill="#222" stroke="#222" stroke-width="0.22">0</text>
<text x="358.22" y="553.73" font-size="9.6" textLength="13.08" lengthAdjust="spacingAndGlyphs" fill="#222" stroke="#222" stroke-width="0.22">0.5</text>
<text x="358.22" y="577.86" font-size="9.6" textLength="13.08" lengthAdjust="spacingAndGlyphs" fill="#222" stroke="#222" stroke-width="0.22">1.0</text>
<text x="358.22" y="601.99" font-size="9.6" textLength="13.08" lengthAdjust="spacingAndGlyphs" fill="#222" stroke="#222" stroke-width="0.22">1.5</text>
<text x="358.22" y="626.12" font-size="9.6" textLength="13.08" lengthAdjust="spacingAndGlyphs" fill="#222" stroke="#222" stroke-width="0.22">2.0</text>
<text x="364.3" y="520" font-size="9" textLength="36.5" lengthAdjust="spacingAndGlyphs" fill="#222" stroke="#222" stroke-width="0.22">CI (Fa50)</text>
<path d="M398,527.2V566.3" stroke="#111" stroke-width="0.9"/><path d="M398,526.2L396.4,530L399.6,530Z" fill="#111"/><path d="M398,567.3L396.4,563.5L399.6,563.5Z" fill="#111"/>
<path d="M398,571.3V579.2" stroke="#111" stroke-width="0.9"/><path d="M398,570.3L396.4,574.1L399.6,574.1Z" fill="#111"/><path d="M398,580.2L396.4,576.4L399.6,576.4Z" fill="#111"/>
<path d="M398,583.8V621.7" stroke="#111" stroke-width="0.9"/><path d="M398,582.8L396.4,586.6L399.6,586.6Z" fill="#111"/><path d="M398,622.7L396.4,618.9L399.6,618.9Z" fill="#111"/>
<text x="401.7" y="550.1" font-size="9.5" textLength="32.1" lengthAdjust="spacingAndGlyphs" fill="#222" stroke="#222" stroke-width="0.22">synergy</text>
<text x="401.7" y="577.7" font-size="9.5" textLength="38.4" lengthAdjust="spacingAndGlyphs" fill="#222" stroke="#222" stroke-width="0.22">additivity</text>
<text x="401.7" y="604.9" font-size="9.5" textLength="58.2" lengthAdjust="spacingAndGlyphs" fill="#222" stroke="#222" stroke-width="0.22">no interaction</text>
<rect x="98.5" y="526.8" width="24.2" height="24.1" fill="#b96d70"/>
<rect x="122.7" y="526.8" width="24.2" height="24.1" fill="#b67476"/>
<rect x="146.9" y="526.8" width="24.2" height="24.1" fill="#b58e8f"/>
<rect x="171.1" y="526.8" width="24.2" height="24.1" fill="#ffffff"/>
<rect x="195.3" y="526.8" width="24.2" height="24.1" fill="#b88082"/>
<rect x="219.5" y="526.8" width="24.2" height="24.1" fill="#bb6266"/>
<rect x="243.7" y="526.8" width="24.2" height="24.1" fill="#b96a6d"/>
<rect x="267.9" y="526.8" width="24.2" height="24.1" fill="#c93236"/>
<rect x="292.1" y="526.8" width="24.2" height="24.1" fill="#ffffff"/>
<rect x="316.3" y="526.8" width="24.2" height="24.1" fill="#ffffff"/>
<rect x="98.5" y="550.9" width="24.2" height="24.2" fill="#b68083"/>
<rect x="122.7" y="550.9" width="24.2" height="24.2" fill="#bb5e62"/>
<rect x="146.9" y="550.9" width="24.2" height="24.2" fill="#b69293"/>
<rect x="171.1" y="550.9" width="24.2" height="24.2" fill="#ffffff"/>
<rect x="195.3" y="550.9" width="24.2" height="24.2" fill="#b87a7d"/>
<rect x="219.5" y="550.9" width="24.2" height="24.2" fill="#b96d70"/>
<rect x="243.7" y="550.9" width="24.2" height="24.2" fill="#b96b6e"/>
<rect x="267.9" y="550.9" width="24.2" height="24.2" fill="#c0575a"/>
<rect x="292.1" y="550.9" width="24.2" height="24.2" fill="#ffffff"/>
<rect x="316.3" y="550.9" width="24.2" height="24.2" fill="#b87276"/>
<rect x="98.5" y="575.1" width="24.2" height="24.2" fill="#b87477"/>
<rect x="122.7" y="575.1" width="24.2" height="24.2" fill="#c45559"/>
<rect x="146.9" y="575.1" width="24.2" height="24.2" fill="#b97679"/>
<rect x="171.1" y="575.1" width="24.2" height="24.2" fill="#ffffff"/>
<rect x="195.3" y="575.1" width="24.2" height="24.2" fill="#bd5d61"/>
<rect x="219.5" y="575.1" width="24.2" height="24.2" fill="#c05a5e"/>
<rect x="243.7" y="575.1" width="24.2" height="24.2" fill="#ba676a"/>
<rect x="267.9" y="575.1" width="24.2" height="24.2" fill="#c92326"/>
<rect x="292.1" y="575.1" width="24.2" height="24.2" fill="#ffffff"/>
<rect x="316.3" y="575.1" width="24.2" height="24.2" fill="#b87276"/>
<rect x="98.5" y="599.3" width="24.2" height="24.2" fill="#ffffff"/>
<rect x="122.7" y="599.3" width="24.2" height="24.2" fill="#ffffff"/>
<rect x="146.9" y="599.3" width="24.2" height="24.2" fill="#ffffff"/>
<rect x="171.1" y="599.3" width="24.2" height="24.2" fill="#ffffff"/>
<rect x="195.3" y="599.3" width="24.2" height="24.2" fill="#c25a5e"/>
<rect x="219.5" y="599.3" width="24.2" height="24.2" fill="#ffffff"/>
<rect x="243.7" y="599.3" width="24.2" height="24.2" fill="#ffffff"/>
<rect x="267.9" y="599.3" width="24.2" height="24.2" fill="#ffffff"/>
<rect x="292.1" y="599.3" width="24.2" height="24.2" fill="#ffffff"/>
<rect x="316.3" y="599.3" width="24.2" height="24.2" fill="#b86a6e"/>
<path d="M98.5,526.8V623.5" stroke="#1c1c1c" stroke-width="1.05"/>
<path d="M122.7,526.8V623.5" stroke="#1c1c1c" stroke-width="1.05"/>
<path d="M146.9,526.8V623.5" stroke="#1c1c1c" stroke-width="1.05"/>
<path d="M171.1,526.8V623.5" stroke="#1c1c1c" stroke-width="1.05"/>
<path d="M195.3,526.8V623.5" stroke="#1c1c1c" stroke-width="1.05"/>
<path d="M219.5,526.8V623.5" stroke="#1c1c1c" stroke-width="1.05"/>
<path d="M243.7,526.8V623.5" stroke="#1c1c1c" stroke-width="1.05"/>
<path d="M267.9,526.8V623.5" stroke="#1c1c1c" stroke-width="1.05"/>
<path d="M292.1,526.8V623.5" stroke="#1c1c1c" stroke-width="1.05"/>
<path d="M316.3,526.8V623.5" stroke="#1c1c1c" stroke-width="1.05"/>
<path d="M340.5,526.8V623.5" stroke="#1c1c1c" stroke-width="1.05"/>
<path d="M98,526.8H341" stroke="#1c1c1c" stroke-width="1.05"/>
<path d="M98,550.9H341" stroke="#1c1c1c" stroke-width="1.05"/>
<path d="M98,575.1H341" stroke="#1c1c1c" stroke-width="1.05"/>
<path d="M98,599.3H341" stroke="#1c1c1c" stroke-width="1.05"/>
<path d="M98,623.5H341" stroke="#1c1c1c" stroke-width="1.05"/>
<rect x="98.5" y="634.4" width="24.2" height="24.2" fill="#b7797b"/>
<rect x="122.7" y="634.4" width="24.2" height="24.2" fill="#b67e80"/>
<rect x="146.9" y="634.4" width="24.2" height="24.2" fill="#b67c7e"/>
<rect x="171.1" y="634.4" width="24.2" height="24.2" fill="#ffffff"/>
<rect x="195.3" y="634.4" width="24.2" height="24.2" fill="#b5a1a2"/>
<rect x="219.5" y="634.4" width="24.2" height="24.2" fill="#bd5a5e"/>
<rect x="243.7" y="634.4" width="24.2" height="24.2" fill="#bd5c60"/>
<rect x="267.9" y="634.4" width="24.2" height="24.2" fill="#bd5d61"/>
<rect x="292.1" y="634.4" width="24.2" height="24.2" fill="#ffffff"/>
<rect x="316.3" y="634.4" width="24.2" height="24.2" fill="#ffffff"/>
<rect x="98.5" y="658.6" width="24.2" height="24.2" fill="#bb6a6d"/>
<rect x="122.7" y="658.6" width="24.2" height="24.2" fill="#b78083"/>
<rect x="146.9" y="658.6" width="24.2" height="24.2" fill="#b77b7e"/>
<rect x="171.1" y="658.6" width="24.2" height="24.2" fill="#ffffff"/>
<rect x="195.3" y="658.6" width="24.2" height="24.2" fill="#bd5e62"/>
<rect x="219.5" y="658.6" width="24.2" height="24.2" fill="#c9383c"/>
<rect x="243.7" y="658.6" width="24.2" height="24.2" fill="#c9383b"/>
<rect x="267.9" y="658.6" width="24.2" height="24.2" fill="#b78184"/>
<rect x="292.1" y="658.6" width="24.2" height="24.2" fill="#ffffff"/>
<rect x="316.3" y="658.6" width="24.2" height="24.2" fill="#b78c8e"/>
<rect x="98.5" y="682.8" width="24.2" height="24.2" fill="#bb6a6e"/>
<rect x="122.7" y="682.8" width="24.2" height="24.2" fill="#b58b8d"/>
<rect x="146.9" y="682.8" width="24.2" height="24.2" fill="#bd6468"/>
<rect x="171.1" y="682.8" width="24.2" height="24.2" fill="#ffffff"/>
<rect x="195.3" y="682.8" width="24.2" height="24.2" fill="#c93538"/>
<rect x="219.5" y="682.8" width="24.2" height="24.2" fill="#c81e20"/>
<rect x="243.7" y="682.8" width="24.2" height="24.2" fill="#c82123"/>
<rect x="267.9" y="682.8" width="24.2" height="24.2" fill="#c82022"/>
<rect x="292.1" y="682.8" width="24.2" height="24.2" fill="#ffffff"/>
<rect x="316.3" y="682.8" width="24.2" height="24.2" fill="#bb6c70"/>
<rect x="98.5" y="707" width="24.2" height="24.2" fill="#ffffff"/>
<rect x="122.7" y="707" width="24.2" height="24.2" fill="#ffffff"/>
<rect x="146.9" y="707" width="24.2" height="24.2" fill="#ffffff"/>
<rect x="171.1" y="707" width="24.2" height="24.2" fill="#ffffff"/>
<rect x="195.3" y="707" width="24.2" height="24.2" fill="#bc6266"/>
<rect x="219.5" y="707" width="24.2" height="24.2" fill="#ffffff"/>
<rect x="243.7" y="707" width="24.2" height="24.2" fill="#ffffff"/>
<rect x="267.9" y="707" width="24.2" height="24.2" fill="#ffffff"/>
<rect x="292.1" y="707" width="24.2" height="24.2" fill="#ffffff"/>
<rect x="316.3" y="707" width="24.2" height="24.2" fill="#bb6a6e"/>
<path d="M98.5,634.4V731.2" stroke="#1c1c1c" stroke-width="1.05"/>
<path d="M122.7,634.4V731.2" stroke="#1c1c1c" stroke-width="1.05"/>
<path d="M146.9,634.4V731.2" stroke="#1c1c1c" stroke-width="1.05"/>
<path d="M171.1,634.4V731.2" stroke="#1c1c1c" stroke-width="1.05"/>
<path d="M195.3,634.4V731.2" stroke="#1c1c1c" stroke-width="1.05"/>
<path d="M219.5,634.4V731.2" stroke="#1c1c1c" stroke-width="1.05"/>
<path d="M243.7,634.4V731.2" stroke="#1c1c1c" stroke-width="1.05"/>
<path d="M267.9,634.4V731.2" stroke="#1c1c1c" stroke-width="1.05"/>
<path d="M292.1,634.4V731.2" stroke="#1c1c1c" stroke-width="1.05"/>
<path d="M316.3,634.4V731.2" stroke="#1c1c1c" stroke-width="1.05"/>
<path d="M340.5,634.4V731.2" stroke="#1c1c1c" stroke-width="1.05"/>
<path d="M98,634.4H341" stroke="#1c1c1c" stroke-width="1.05"/>
<path d="M98,658.6H341" stroke="#1c1c1c" stroke-width="1.05"/>
<path d="M98,682.8H341" stroke="#1c1c1c" stroke-width="1.05"/>
<path d="M98,707H341" stroke="#1c1c1c" stroke-width="1.05"/>
<path d="M98,731.2H341" stroke="#1c1c1c" stroke-width="1.05"/>
<rect x="0" y="0" width="520" height="1" fill="#000"/><rect x="0" y="0" width="1" height="740" fill="#000"/><rect x="518.8" y="0" width="1.2" height="740" fill="#000"/><rect x="0" y="738.4" width="520" height="1.6" fill="#000"/>
</svg>
</body></html>
